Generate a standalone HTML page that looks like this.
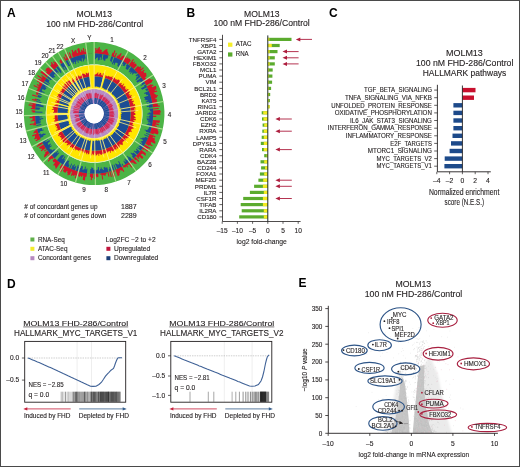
<!DOCTYPE html>
<html><head><meta charset="utf-8"><title>MOLM13 FHD-286 figure</title>
<style>html,body{margin:0;padding:0;background:#fff;}body{width:520px;height:467px;overflow:hidden;font-family:"Liberation Sans",sans-serif;}svg{display:block;will-change:transform;}text{stroke:#231f20;stroke-width:0.12px;}text.b{stroke:none;}</style>
</head><body>
<svg width="520" height="467" viewBox="0 0 520 467" font-family='&quot;Liberation Sans&quot;, sans-serif' fill="#231f20"><g transform="translate(94.15 113.6) scale(0.9825 1)">
<path d="M0 -71.5L2.5 -71.5L5 -71.3L7.5 -71.1L10 -70.8L12.4 -70.4L14.9 -69.9L17.3 -69.4L19.7 -68.7L22.1 -68L24.5 -67.2L26.8 -66.3L29.1 -65.3L31.3 -64.3L33.6 -63.1L35.7 -61.9L37.9 -60.6L40 -59.3L42 -57.8L44 -56.3L46 -54.8L47.8 -53.1L49.7 -51.4L51.4 -49.7L53.1 -47.8L54.8 -46L56.3 -44L57.8 -42L59.3 -40L60.6 -37.9L61.9 -35.8L63.1 -33.6L64.3 -31.3L65.3 -29.1L66.3 -26.8L67.2 -24.5L68 -22.1L68.7 -19.7L69.4 -17.3L69.9 -14.9L70.4 -12.4L70.8 -10L71.1 -7.5L71.3 -5L71.5 -2.5L71.5 0L71.5 2.5L71.3 5L71.1 7.5L70.8 10L70.4 12.4L69.9 14.9L69.4 17.3L68.7 19.7L68 22.1L67.2 24.5L66.3 26.8L65.3 29.1L64.3 31.3L63.1 33.6L61.9 35.7L60.6 37.9L59.3 40L57.8 42L56.3 44L54.8 46L53.1 47.8L51.4 49.7L49.7 51.4L47.8 53.1L46 54.8L44 56.3L42 57.8L40 59.3L37.9 60.6L35.7 61.9L33.6 63.1L31.3 64.3L29.1 65.3L26.8 66.3L24.5 67.2L22.1 68L19.7 68.7L17.3 69.4L14.9 69.9L12.4 70.4L10 70.8L7.5 71.1L5 71.3L2.5 71.5L0 71.5L-2.5 71.5L-5 71.3L-7.5 71.1L-10 70.8L-12.4 70.4L-14.9 69.9L-17.3 69.4L-19.7 68.7L-22.1 68L-24.5 67.2L-26.8 66.3L-29.1 65.3L-31.3 64.3L-33.6 63.1L-35.8 61.9L-37.9 60.6L-40 59.3L-42 57.8L-44 56.3L-46 54.8L-47.8 53.1L-49.7 51.4L-51.4 49.7L-53.1 47.8L-54.8 46L-56.3 44L-57.8 42L-59.3 40L-60.6 37.9L-61.9 35.8L-63.1 33.6L-64.3 31.3L-65.3 29.1L-66.3 26.8L-67.2 24.5L-68 22.1L-68.7 19.7L-69.4 17.3L-69.9 14.9L-70.4 12.4L-70.8 10L-71.1 7.5L-71.3 5L-71.5 2.5L-71.5 0L-71.5 -2.5L-71.3 -5L-71.1 -7.5L-70.8 -10L-70.4 -12.4L-69.9 -14.9L-69.4 -17.3L-68.7 -19.7L-68 -22.1L-67.2 -24.5L-66.3 -26.8L-65.3 -29.1L-64.3 -31.3L-63.1 -33.6L-61.9 -35.8L-60.6 -37.9L-59.3 -40L-57.8 -42L-56.3 -44L-54.8 -46L-53.1 -47.8L-51.4 -49.7L-49.7 -51.4L-47.8 -53.1L-46 -54.8L-44 -56.3L-42 -57.8L-40 -59.3L-37.9 -60.6L-35.8 -61.9L-33.6 -63.1L-31.3 -64.3L-29.1 -65.3L-26.8 -66.3L-24.5 -67.2L-22.1 -68L-19.7 -68.7L-17.3 -69.4L-14.9 -69.9L-12.4 -70.4L-10 -70.8L-7.5 -71.1L-5 -71.3L-2.5 -71.5ZM-1.7 -49.2L-3.4 -49.1L-5.1 -48.9L-6.8 -48.7L-8.5 -48.5L-10.2 -48.1L-11.9 -47.7L-13.6 -47.3L-15.2 -46.8L-16.8 -46.2L-18.4 -45.6L-20 -44.9L-21.6 -44.2L-23.1 -43.4L-24.6 -42.6L-26.1 -41.7L-27.5 -40.8L-28.9 -39.8L-30.3 -38.8L-31.6 -37.7L-32.9 -36.6L-34.2 -35.4L-35.4 -34.2L-36.6 -32.9L-37.7 -31.6L-38.8 -30.3L-39.8 -28.9L-40.8 -27.5L-41.7 -26.1L-42.6 -24.6L-43.4 -23.1L-44.2 -21.6L-44.9 -20L-45.6 -18.4L-46.2 -16.8L-46.8 -15.2L-47.3 -13.6L-47.7 -11.9L-48.1 -10.2L-48.5 -8.5L-48.7 -6.8L-48.9 -5.1L-49.1 -3.4L-49.2 -1.7L-49.2 0L-49.2 1.7L-49.1 3.4L-48.9 5.1L-48.7 6.8L-48.5 8.5L-48.1 10.2L-47.7 11.9L-47.3 13.6L-46.8 15.2L-46.2 16.8L-45.6 18.4L-44.9 20L-44.2 21.6L-43.4 23.1L-42.6 24.6L-41.7 26.1L-40.8 27.5L-39.8 28.9L-38.8 30.3L-37.7 31.6L-36.6 32.9L-35.4 34.2L-34.2 35.4L-32.9 36.6L-31.6 37.7L-30.3 38.8L-28.9 39.8L-27.5 40.8L-26.1 41.7L-24.6 42.6L-23.1 43.4L-21.6 44.2L-20 44.9L-18.4 45.6L-16.8 46.2L-15.2 46.8L-13.6 47.3L-11.9 47.7L-10.2 48.1L-8.5 48.5L-6.8 48.7L-5.1 48.9L-3.4 49.1L-1.7 49.2L0 49.2L1.7 49.2L3.4 49.1L5.1 48.9L6.8 48.7L8.5 48.5L10.2 48.1L11.9 47.7L13.6 47.3L15.2 46.8L16.8 46.2L18.4 45.6L20 44.9L21.6 44.2L23.1 43.4L24.6 42.6L26.1 41.7L27.5 40.8L28.9 39.8L30.3 38.8L31.6 37.7L32.9 36.6L34.2 35.4L35.4 34.2L36.6 32.9L37.7 31.6L38.8 30.3L39.8 28.9L40.8 27.5L41.7 26.1L42.6 24.6L43.4 23.1L44.2 21.6L44.9 20L45.6 18.4L46.2 16.8L46.8 15.2L47.3 13.6L47.7 11.9L48.1 10.2L48.5 8.5L48.7 6.8L48.9 5.1L49.1 3.4L49.2 1.7L49.2 0L49.2 -1.7L49.1 -3.4L48.9 -5.1L48.7 -6.8L48.5 -8.5L48.1 -10.2L47.7 -11.9L47.3 -13.6L46.8 -15.2L46.2 -16.8L45.6 -18.4L44.9 -20L44.2 -21.6L43.4 -23.1L42.6 -24.6L41.7 -26.1L40.8 -27.5L39.8 -28.9L38.8 -30.3L37.7 -31.6L36.6 -32.9L35.4 -34.2L34.2 -35.4L32.9 -36.6L31.6 -37.7L30.3 -38.8L28.9 -39.8L27.5 -40.8L26.1 -41.7L24.6 -42.6L23.1 -43.4L21.6 -44.2L20 -44.9L18.4 -45.6L16.8 -46.2L15.2 -46.8L13.6 -47.3L11.9 -47.7L10.2 -48.1L8.5 -48.5L6.8 -48.7L5.1 -48.9L3.4 -49.1L1.7 -49.2L0 -49.2Z" fill="#4cb446" fill-rule="evenodd"/>
<path d="M0 -61.9L1.1 -61.9L1.1 -65.7L2.3 -65.7L2.2 -63.8L3.3 -63.8L3.4 -65.3L4.6 -65.3L4.7 -66.6L5.8 -66.6L5.6 -64.2L6.7 -64.1L6.7 -63.9L7.8 -63.7L7.5 -61.4L8.6 -61.3L8.8 -62.3L9.8 -62.2L10 -63.4L11.1 -63.2L11.3 -64.2L12.4 -64L12.6 -64.7L13.7 -64.4L13.2 -62.2L14.3 -61.9L13.9 -60.2L15 -60L14.5 -58.2L15.5 -58L15.5 -58L16.5 -57.7L16.5 -57.7L17.5 -57.4L18.7 -61.1L19.8 -60.8L20.6 -63.3L21.7 -62.9L20.1 -58.3L21.1 -57.9L22.1 -60.8L23.2 -60.5L21.5 -56L22.5 -55.6L23.5 -58.2L24.5 -57.7L25.2 -59.3L26.2 -58.9L27 -60.7L28.1 -60.2L26.3 -56.4L27.3 -55.9L28.2 -57.8L29.2 -57.3L29.8 -58.4L30.8 -57.9L30.6 -57.5L31.6 -57L31.9 -57.5L32.9 -56.9L32.1 -55.7L33.1 -55.1L33.9 -56.4L34.9 -55.8L34.5 -55.3L35.5 -54.7L35.8 -55.2L36.8 -54.5L36.4 -54L37.4 -53.4L34.4 -49.1L35.3 -48.5L39.6 -54.5L40.5 -53.8L39 -51.8L39.9 -51.1L40.8 -52.2L41.7 -51.5L40.7 -50.3L41.6 -49.5L42.2 -50.3L43.1 -49.5L42.7 -49.1L43.6 -48.4L40.1 -44.6L40.9 -43.9L44.5 -47.7L45.3 -46.9L45.6 -47.2L46.4 -46.4L47.4 -47.4L48.3 -46.6L47.1 -45.4L47.8 -44.6L49.8 -46.4L50.6 -45.6L47.7 -42.9L48.4 -42.1L50.7 -44.1L51.5 -43.2L50.1 -42.1L50.9 -41.2L50.9 -41.2L51.6 -40.3L52.5 -41L53.2 -40.1L52.7 -39.7L53.4 -38.8L52.9 -38.5L53.6 -37.5L51.7 -36.2L52.4 -35.3L52.8 -35.6L53.4 -34.7L56.4 -36.6L57 -35.6L56.2 -35.1L56.8 -34.1L57.6 -34.6L58.2 -33.6L59.4 -34.3L60 -33.3L58.7 -32.5L59.2 -31.5L53 -28.2L53.5 -27.2L58 -29.5L58.5 -28.5L59.9 -29.2L60.4 -28.2L58.6 -27.3L59.1 -26.3L62.7 -27.9L63.2 -26.8L63.1 -26.8L63.5 -25.7L63.1 -25.5L63.5 -24.4L61.6 -23.6L62 -22.6L63.9 -23.2L64.3 -22.1L60.6 -20.9L61 -19.8L61.9 -20.1L62.2 -19L63 -19.3L63.4 -18.2L64.8 -18.6L65.1 -17.5L63.8 -17.1L64.1 -16L62.2 -15.5L62.5 -14.4L63.6 -14.7L63.8 -13.6L63.7 -13.5L63.9 -12.4L63.8 -12.4L64 -11.3L63 -11.1L63.2 -10L64.5 -10.2L64.7 -9.1L64.9 -9.1L65 -8L66.8 -8.2L66.9 -7L59.7 -6.3L59.8 -5.2L65.7 -5.7L65.7 -4.6L59.9 -4.2L59.9 -3.1L67.2 -3.5L67.3 -2.3L67.9 -2.4L67.9 -1.2L66.7 -1.2L66.7 0L67.4 0L67.4 1.2L60 1L60 2.1L63.2 2.2L63.2 3.3L59.9 3.1L59.9 4.2L59.9 4.2L59.8 5.2L59.8 5.2L59.7 6.3L67 7L66.9 8.2L66.5 8.2L66.3 9.3L63.2 8.9L63.1 10L65.8 10.4L65.6 11.6L62.5 11L62.3 12.1L63.8 12.4L63.6 13.5L66 14L65.8 15.2L64.5 14.9L64.2 16L65.1 16.2L64.8 17.4L65.5 17.6L65.2 18.7L65.7 18.8L65.3 20L65 19.9L64.7 21L60.7 19.7L60.4 20.8L56.7 19.5L56.4 20.5L62.4 22.7L62 23.8L59.9 23L59.5 24L61.9 25L61.5 26.1L61.8 26.2L61.3 27.3L62.4 27.8L62 28.9L62.5 29.2L62 30.2L58 28.3L57.5 29.3L58 29.6L57.5 30.6L59.5 31.7L59 32.7L56.5 31.3L55.9 32.3L52 30L51.4 30.9L57.4 34.5L56.8 35.5L54.9 34.3L54.3 35.3L57.1 37.1L56.5 38.1L55.1 37.1L54.4 38.1L50.7 35.5L50.1 36.4L48.5 35.3L47.9 36.1L52.8 39.8L52.1 40.7L52.9 41.3L52.1 42.2L49.2 39.8L48.5 40.7L48 40.3L47.3 41.1L50.2 43.7L49.4 44.5L49.6 44.6L48.8 45.5L46 42.9L45.2 43.6L46.2 44.6L45.4 45.4L42.4 42.4L41.7 43.2L46.1 47.7L45.3 48.5L42.7 45.8L41.9 46.6L40.1 44.6L39.4 45.3L43.4 49.9L42.5 50.7L41.6 49.6L40.8 50.3L39.4 48.7L38.6 49.4L38.1 48.8L37.3 49.5L38.1 50.5L37.2 51.2L38.9 53.5L37.9 54.1L35.5 50.7L34.6 51.3L34.5 51.2L33.6 51.8L34.7 53.4L33.7 54L32.9 52.6L32 53.2L32.2 53.6L31.3 54.1L30.9 53.5L30 54.1L29.1 52.5L28.2 53L30.7 57.8L29.7 58.4L29.1 57L28.1 57.5L27.4 56.1L26.4 56.6L26.8 57.6L25.8 58L26.4 59.3L25.4 59.8L26.1 61.5L25 62L25.1 62.2L24.1 62.7L21.5 56L20.5 56.4L21.1 58L20.1 58.4L21.6 62.6L20.5 63L20.5 63.2L19.4 63.6L17.5 57.4L16.5 57.7L18.1 63.1L17 63.4L15.5 58L14.5 58.2L15.7 62.8L14.6 63.1L13.5 58.5L12.5 58.7L12.8 60.2L11.7 60.4L12 61.8L10.9 62L10.9 62L9.8 62.2L9.7 61.3L8.6 61.5L9.2 65.8L8.1 65.9L7.5 61.1L6.4 61.3L6.3 59.7L5.2 59.8L5.2 59.8L4.2 59.9L4.4 63.2L3.3 63.3L3.3 63.6L2.2 63.7L2.2 62.4L1.1 62.4L1.1 65.4L0 65.4L0 60L-1 60L-1.1 64.3L-2.2 64.3L-2.3 66.6L-3.5 66.5L-3.3 63.4L-4.4 63.3L-4.2 59.9L-5.2 59.8L-5.2 59.8L-6.3 59.7L-6.3 59.7L-7.3 59.6L-7.8 63.2L-8.9 63.1L-9.4 66.9L-10.6 66.8L-10.5 66.3L-11.7 66.1L-11 62.2L-12.1 62L-12.3 63.4L-13.4 63.2L-13.3 62.5L-14.4 62.2L-14.6 63.4L-15.7 63.1L-15.5 62.2L-16.6 61.9L-16.8 62.7L-17.9 62.4L-18.5 64.6L-19.7 64.3L-18.8 61.5L-19.9 61.1L-20.3 62.5L-21.4 62.1L-21.3 61.9L-22.4 61.5L-22.7 62.3L-23.8 61.9L-22.4 58.4L-23.4 58L-24.8 61.4L-25.9 61L-26.3 62L-27.4 61.5L-26.6 59.8L-27.7 59.3L-26.9 57.8L-27.9 57.3L-28.9 59.2L-29.9 58.7L-30 58.9L-31 58.3L-30.9 58.1L-31.9 57.5L-30.5 55.1L-31.5 54.5L-33.7 58.4L-34.8 57.8L-34.6 57.7L-35.6 57L-34.1 54.6L-35.1 54L-32.7 50.3L-33.6 49.7L-33.6 49.7L-34.4 49.1L-38.7 55.2L-39.6 54.6L-39.1 53.8L-40 53.1L-39.4 52.3L-40.3 51.6L-40.8 52.2L-41.7 51.5L-39.7 49L-40.5 48.3L-41 48.8L-41.8 48.1L-41.6 47.8L-42.4 47.1L-40.1 44.6L-40.9 43.9L-42.7 45.7L-43.5 45L-46.5 48.2L-47.3 47.3L-45.7 45.7L-46.4 44.9L-46.4 44.8L-47.2 44L-46 42.9L-46.8 42.1L-44.6 40.1L-45.3 39.4L-50.4 43.8L-51.2 42.9L-50.4 42.3L-51.1 41.4L-49.5 40.1L-50.2 39.2L-47.3 36.9L-47.9 36.1L-50.4 38L-51.1 37.1L-48.5 35.3L-49.1 34.4L-53.7 37.6L-54.3 36.6L-53 35.8L-53.6 34.8L-54.6 35.5L-55.3 34.5L-55.8 34.9L-56.4 33.9L-51.4 30.9L-52 30L-58 33.5L-58.6 32.5L-56.5 31.3L-57.1 30.4L-53 28.2L-53.5 27.2L-53.5 27.2L-53.9 26.3L-53.9 26.3L-54.4 25.4L-59.2 27.6L-59.7 26.6L-58 25.8L-58.5 24.8L-60.7 25.8L-61.1 24.7L-60.1 24.3L-60.5 23.2L-60 23L-60.4 22L-62.7 22.8L-63.1 21.7L-58.7 20.2L-59.1 19.2L-61.7 20L-62 19L-60.8 18.6L-61.1 17.5L-59.6 17.1L-59.9 16L-58 15.5L-58.2 14.5L-58.2 14.5L-58.5 13.5L-58.5 13.5L-58.7 12.5L-58.7 12.5L-58.9 11.4L-61.7 12L-61.9 10.9L-65.4 11.5L-65.6 10.4L-60.9 9.6L-61 8.6L-60.7 8.5L-60.8 7.5L-64.5 7.9L-64.7 6.8L-62.7 6.6L-62.8 5.5L-62.7 5.5L-62.8 4.4L-65.6 4.6L-65.7 3.4L-62.7 3.3L-62.8 2.2L-60 2.1L-60 1L-60 1L-60 0L-60 0L-60 -1L-62.7 -1.1L-62.7 -2.2L-63.7 -2.2L-63.6 -3.3L-59.9 -3.1L-59.9 -4.2L-64.4 -4.5L-64.4 -5.6L-63 -5.5L-62.9 -6.6L-63.7 -6.7L-63.5 -7.8L-66.8 -8.2L-66.6 -9.4L-62.7 -8.8L-62.5 -9.9L-65.8 -10.4L-65.6 -11.6L-61.6 -10.9L-61.4 -11.9L-58.9 -11.4L-58.7 -12.5L-63.3 -13.5L-63 -14.6L-60.5 -14L-60.2 -15L-58.2 -14.5L-58 -15.5L-58 -15.5L-57.7 -16.5L-63.3 -18.1L-62.9 -19.2L-57.4 -17.5L-57.1 -18.5L-59.3 -19.3L-58.9 -20.3L-59 -20.3L-58.6 -21.3L-58.8 -21.4L-58.5 -22.4L-59 -22.6L-58.6 -23.7L-58.1 -23.5L-57.6 -24.5L-57.6 -24.5L-57.2 -25.5L-61.7 -27.5L-61.2 -28.5L-56.9 -26.5L-56.5 -27.5L-58.5 -28.5L-58 -29.6L-56.1 -28.6L-55.6 -29.6L-56.1 -29.8L-55.5 -30.8L-58.2 -32.2L-57.6 -33.2L-59.6 -34.4L-59 -35.5L-56.8 -34.1L-56.2 -35.1L-54.1 -33.8L-53.5 -34.7L-58 -37.7L-57.4 -38.7L-53.1 -35.8L-52.4 -36.7L-53.9 -37.8L-53.3 -38.7L-48.5 -35.3L-47.9 -36.1L-54.8 -41.3L-54.1 -42.2L-53.8 -42L-53 -42.9L-50.4 -40.8L-49.7 -41.7L-48.8 -40.9L-48.1 -41.8L-49.9 -43.4L-49.1 -44.2L-49.2 -44.3L-48.5 -45.2L-48.5 -45.2L-47.7 -46L-47.1 -45.5L-46.3 -46.3L-43.9 -43.9L-43.1 -44.6L-41.7 -43.2L-40.9 -43.9L-44.7 -47.9L-43.8 -48.7L-43.9 -48.8L-43.1 -49.5L-44.2 -50.9L-43.3 -51.6L-41.2 -49.2L-40.4 -49.9L-41.9 -51.7L-40.9 -52.4L-40 -51.2L-39.1 -51.8L-36.1 -47.9L-35.3 -48.5L-35.3 -48.5L-34.4 -49.1L-34.4 -49.1L-33.6 -49.7L-35.5 -52.6L-34.6 -53.2L-34.9 -53.7L-33.9 -54.3L-31.8 -50.9L-30.9 -51.4L-30.9 -51.4L-30 -52L-30 -52L-29.1 -52.5L-31.4 -56.6L-30.4 -57.1L-29.1 -54.8L-28.2 -55.3L-30 -58.9L-29 -59.5L-27.2 -55.8L-26.2 -56.3L-28.3 -60.6L-27.2 -61.1L-25.4 -57L-24.4 -57.5L-25.8 -60.8L-24.7 -61.3L-22.5 -55.6L-21.5 -56L-23 -60L-22 -60.4L-23.1 -63.5L-22 -63.9L-21.2 -61.5L-20.1 -61.9L-20.4 -62.7L-19.3 -63.1L-19.4 -63.5L-18.3 -63.9L-17.4 -60.5L-16.3 -60.8L-17.3 -64.7L-16.2 -65L-16.3 -65.4L-15.2 -65.6L-14.2 -61.6L-13.1 -61.9L-13.6 -63.9L-12.5 -64.2L-12.2 -62.8L-11.1 -63L-11.5 -65.4L-10.4 -65.6L-9.8 -61.8L-8.7 -61.9L-9.1 -64.5L-7.9 -64.7L-7.3 -59.6L-6.3 -59.7L-6.3 -59.7L-5.2 -59.8L-5.2 -59.8L-4.2 -59.9L-4.2 -59.9L-3.1 -59.9L-3.1 -59.9L-2.1 -60L-2.1 -60L-1 -60L-1 -60L0 -60ZM-2.1 -60L-4.2 -59.9L-6.3 -59.7L-8.4 -59.4L-10.4 -59.1L-12.5 -58.7L-14.5 -58.2L-16.5 -57.7L-18.5 -57.1L-20.5 -56.4L-22.5 -55.6L-24.4 -54.8L-26.3 -53.9L-28.2 -53L-30 -52L-31.8 -50.9L-33.6 -49.7L-35.3 -48.5L-36.9 -47.3L-38.6 -46L-40.1 -44.6L-41.7 -43.2L-43.2 -41.7L-44.6 -40.1L-46 -38.6L-47.3 -36.9L-48.5 -35.3L-49.7 -33.6L-50.9 -31.8L-52 -30L-53 -28.2L-53.9 -26.3L-54.8 -24.4L-55.6 -22.5L-56.4 -20.5L-57.1 -18.5L-57.7 -16.5L-58.2 -14.5L-58.7 -12.5L-59.1 -10.4L-59.4 -8.4L-59.7 -6.3L-59.9 -4.2L-60 -2.1L-60 0L-60 2.1L-59.9 4.2L-59.7 6.3L-59.4 8.4L-59.1 10.4L-58.7 12.5L-58.2 14.5L-57.7 16.5L-57.1 18.5L-56.4 20.5L-55.6 22.5L-54.8 24.4L-53.9 26.3L-53 28.2L-52 30L-50.9 31.8L-49.7 33.6L-48.5 35.3L-47.3 36.9L-46 38.6L-44.6 40.1L-43.2 41.7L-41.7 43.2L-40.1 44.6L-38.6 46L-36.9 47.3L-35.3 48.5L-33.6 49.7L-31.8 50.9L-30 52L-28.2 53L-26.3 53.9L-24.4 54.8L-22.5 55.6L-20.5 56.4L-18.5 57.1L-16.5 57.7L-14.5 58.2L-12.5 58.7L-10.4 59.1L-8.4 59.4L-6.3 59.7L-4.2 59.9L-2.1 60L0 60L2.1 60L4.2 59.9L6.3 59.7L8.4 59.4L10.4 59.1L12.5 58.7L14.5 58.2L16.5 57.7L18.5 57.1L20.5 56.4L22.5 55.6L24.4 54.8L26.3 53.9L28.2 53L30 52L31.8 50.9L33.6 49.7L35.3 48.5L36.9 47.3L38.6 46L40.1 44.6L41.7 43.2L43.2 41.7L44.6 40.1L46 38.6L47.3 36.9L48.5 35.3L49.7 33.6L50.9 31.8L52 30L53 28.2L53.9 26.3L54.8 24.4L55.6 22.5L56.4 20.5L57.1 18.5L57.7 16.5L58.2 14.5L58.7 12.5L59.1 10.4L59.4 8.4L59.7 6.3L59.9 4.2L60 2.1L60 0L60 -2.1L59.9 -4.2L59.7 -6.3L59.4 -8.4L59.1 -10.4L58.7 -12.5L58.2 -14.5L57.7 -16.5L57.1 -18.5L56.4 -20.5L55.6 -22.5L54.8 -24.4L53.9 -26.3L53 -28.2L52 -30L50.9 -31.8L49.7 -33.6L48.5 -35.3L47.3 -36.9L46 -38.6L44.6 -40.1L43.2 -41.7L41.7 -43.2L40.1 -44.6L38.6 -46L36.9 -47.3L35.3 -48.5L33.6 -49.7L31.8 -50.9L30 -52L28.2 -53L26.3 -53.9L24.4 -54.8L22.5 -55.6L20.5 -56.4L18.5 -57.1L16.5 -57.7L14.5 -58.2L12.5 -58.7L10.4 -59.1L8.4 -59.4L6.3 -59.7L4.2 -59.9L2.1 -60L0 -60Z" fill="#d3152b" fill-rule="evenodd"/>
<path d="M0 -60L1 -60L0.9 -54.4L1.9 -54.4L1.9 -55.7L2.9 -55.6L2.9 -56L3.9 -56L3.7 -53.1L4.6 -53L4.7 -53.7L5.6 -53.6L5.9 -56.3L6.9 -56.2L6.6 -53.7L7.5 -53.6L8.4 -59.4L9.4 -59.3L8.6 -54.4L9.6 -54.2L9.4 -53.4L10.3 -53.2L10.3 -52.8L11.2 -52.6L11.7 -55L12.6 -54.7L12.8 -55.3L13.7 -55.1L14.5 -58.2L15.5 -58L15.5 -58L16.5 -57.7L16.5 -57.7L17.5 -57.4L16.1 -52.8L17.1 -52.5L16.7 -51.5L17.6 -51.2L19.5 -56.7L20.5 -56.4L18 -49.5L18.9 -49.2L19.6 -50.9L20.4 -50.6L19.7 -48.9L20.6 -48.5L21.7 -51L22.5 -50.6L22.7 -51.1L23.6 -50.7L23.5 -50.3L24.3 -49.9L23.4 -48L24.2 -47.6L23.9 -46.9L24.7 -46.5L25.7 -48.3L26.5 -47.8L26.7 -48.2L27.5 -47.7L28.9 -50.1L29.8 -49.5L28.8 -48L29.7 -47.5L29.9 -47.8L30.7 -47.3L32.7 -50.3L33.6 -49.7L32.2 -47.7L33 -47.2L31.8 -45.4L32.6 -44.9L32.4 -44.7L33.2 -44.1L33.3 -44.2L34.1 -43.6L36.9 -47.3L37.8 -46.6L35.4 -43.7L36.2 -43.1L34.9 -41.6L35.6 -41L36.5 -42L37.3 -41.4L36.3 -40.3L37 -39.6L38.5 -41.3L39.2 -40.6L38.3 -39.6L38.9 -38.9L40.7 -40.7L41.4 -40L41.8 -40.3L42.5 -39.6L43.9 -40.9L44.6 -40.1L42.1 -37.9L42.8 -37.2L44 -38.2L44.6 -37.4L42.5 -35.7L43.1 -34.9L41.9 -33.9L42.5 -33.2L47.3 -36.9L47.9 -36.1L42.9 -32.3L43.4 -31.5L43.6 -31.7L44.2 -30.9L46.1 -32.3L46.6 -31.5L47.5 -32.1L48.1 -31.2L48.4 -31.4L48.9 -30.6L48.1 -30L48.6 -29.2L47.1 -28.3L47.6 -27.5L52 -30L52.5 -29.1L50.7 -28.1L51.2 -27.2L47.7 -25.4L48.1 -24.5L48.4 -24.6L48.8 -23.8L53.9 -26.3L54.4 -25.4L52 -24.3L52.4 -23.3L52.8 -23.5L53.2 -22.6L55.2 -23.4L55.6 -22.5L50.9 -20.6L51.2 -19.7L52.5 -20.1L52.8 -19.2L52.9 -19.3L53.3 -18.3L54.7 -18.8L55 -17.9L50.6 -16.4L50.8 -15.5L51.6 -15.8L51.8 -14.9L51.2 -14.7L51.4 -13.8L52.2 -14L52.4 -13.1L54.1 -13.5L54.3 -12.5L52.5 -12.1L52.7 -11.2L55.8 -11.9L56 -10.9L53.7 -10.4L53.9 -9.5L56.2 -9.9L56.4 -8.9L55.7 -8.8L55.8 -7.8L53.5 -7.5L53.6 -6.6L55.8 -6.8L55.9 -5.9L59.7 -6.3L59.8 -5.2L55.1 -4.8L55.2 -3.9L56.7 -4L56.8 -3L56.9 -3L57 -2L58.2 -2L58.2 -1L55.5 -1L55.5 0L54.2 0L54.2 0.9L57.2 1L57.1 2L55.9 2L55.9 2.9L53.4 2.8L53.3 3.7L56.2 3.9L56.1 4.9L53.5 4.7L53.4 5.6L53.9 5.7L53.8 6.6L55.4 6.8L55.3 7.8L54.6 7.7L54.5 8.6L57.2 9.1L57.1 10.1L54.9 9.7L54.7 10.6L53.6 10.4L53.4 11.3L55.9 11.9L55.7 12.9L56.1 13L55.9 13.9L56 14L55.7 14.9L55.1 14.8L54.9 15.7L54.5 15.6L54.2 16.6L51.6 15.8L51.3 16.7L52.9 17.2L52.6 18.1L56.7 19.5L56.4 20.5L52.9 19.3L52.6 20.2L56 21.5L55.6 22.5L51.1 20.7L50.8 21.5L55.2 23.4L54.8 24.4L52 23.2L51.6 24.1L50.5 23.6L50.1 24.4L49.2 24L48.7 24.8L47.4 24.1L46.9 25L49.9 26.5L49.4 27.4L48.9 27.1L48.4 28L47.7 27.5L47.2 28.4L49 29.4L48.5 30.3L46.5 29.1L46 29.9L44.5 28.9L44 29.7L47 31.7L46.4 32.5L45.6 31.9L45 32.7L46.5 33.8L45.9 34.6L44.3 33.4L43.7 34.2L47.3 36.9L46.6 37.8L43 34.8L42.4 35.6L43.6 36.6L43 37.4L42.6 37.1L42 37.8L40.8 36.8L40.2 37.5L43.9 40.9L43.2 41.7L40.1 38.8L39.5 39.5L39.3 39.3L38.6 40L37.6 38.9L36.9 39.5L39.2 42.1L38.5 42.7L40.1 44.6L39.4 45.3L39.4 45.3L38.6 46L36.3 43.2L35.5 43.8L34.1 42.1L33.4 42.7L35 44.7L34.2 45.3L34.6 45.9L33.8 46.5L33.5 46L32.6 46.6L31.5 45L30.7 45.5L32.3 47.8L31.4 48.4L30.5 46.9L29.7 47.5L31.8 50.9L30.9 51.4L30.9 51.4L30 52L28.7 49.8L27.9 50.3L29.1 52.5L28.2 53L25.2 47.4L24.4 47.8L25.7 50.4L24.8 50.9L24.7 50.7L23.9 51.2L23.4 50.1L22.5 50.5L22.2 49.9L21.3 50.2L23.4 55.2L22.5 55.6L20.6 50.9L19.7 51.2L21.5 56L20.5 56.4L18.6 51L17.7 51.4L18.2 53L17.3 53.3L18.5 57.1L17.5 57.4L16.2 53.1L15.3 53.3L15.8 55L14.8 55.3L15.5 58L14.5 58.2L13.4 53.6L12.4 53.9L12.5 54L11.5 54.3L11.3 53.1L10.4 53.3L10.4 53.7L9.5 53.8L9.9 56.3L8.9 56.4L8.8 55.5L7.8 55.7L7.6 53.8L6.6 54L6.8 55.5L5.8 55.6L6 56.8L5 56.8L4.7 53.4L3.7 53.5L3.9 55.8L2.9 55.9L3 56.6L2 56.6L1.9 55.6L1 55.7L1 56L0 56.1L0 56.2L-1 56.2L-0.9 54.3L-1.9 54.3L-1.9 53.6L-2.8 53.6L-2.9 55.5L-3.9 55.4L-4.2 59.9L-5.2 59.8L-5.2 59.8L-6.3 59.7L-6.3 59.7L-7.3 59.6L-6.8 55L-7.7 54.9L-7.8 55.8L-8.8 55.7L-8.4 53.1L-9.3 53L-9.8 55.7L-10.8 55.5L-10.9 56.3L-11.9 56.1L-11.3 52.9L-12.2 52.7L-12.1 52.5L-13 52.3L-13.6 54.7L-14.6 54.4L-14.8 55.4L-15.8 55.1L-15.3 53.2L-16.2 52.9L-15.7 51.3L-16.6 51.1L-18.5 57.1L-19.5 56.7L-18.1 52.5L-19 52.2L-19.5 53.4L-20.4 53.1L-19.5 50.9L-20.4 50.6L-20.9 51.8L-21.8 51.4L-23.4 55.2L-24.4 54.8L-22.4 50.2L-23.2 49.8L-25.4 54.4L-26.3 53.9L-25.1 51.4L-26 50.9L-25.5 50L-26.4 49.6L-25.1 47.2L-25.9 46.8L-26.3 47.5L-27.1 47L-27.8 48.2L-28.7 47.7L-27.4 45.6L-28.2 45.2L-29.6 47.3L-30.4 46.8L-29.7 45.7L-30.5 45.1L-29.1 43.2L-29.9 42.7L-31.9 45.5L-32.7 44.9L-30.4 41.8L-31.1 41.3L-31.5 41.8L-32.2 41.2L-32.7 41.9L-33.4 41.3L-37.8 46.6L-38.6 46L-38.6 46L-39.4 45.3L-39.4 45.3L-40.1 44.6L-35.4 39.3L-36 38.7L-37.1 39.8L-37.8 39.1L-36.5 37.8L-37.2 37.2L-39.2 39.2L-39.9 38.5L-43.2 41.7L-43.9 40.9L-38.9 36.3L-39.6 35.6L-40.1 36.1L-40.7 35.4L-42.6 37L-43.2 36.3L-43.2 36.2L-43.8 35.5L-44.4 36L-45 35.2L-45.1 35.2L-45.7 34.4L-43 32.4L-43.6 31.6L-44.5 32.4L-45.1 31.6L-44 30.8L-44.5 30L-46.5 31.4L-47 30.5L-46.8 30.4L-47.3 29.5L-45 28.1L-45.5 27.3L-45.1 27.1L-45.5 26.3L-49.3 28.5L-49.8 27.6L-46.9 26L-47.4 25.2L-53 28.2L-53.5 27.2L-53.5 27.2L-53.9 26.3L-53.9 26.3L-54.4 25.4L-54.4 25.4L-54.8 24.4L-51.6 23L-52 22.1L-49.2 20.9L-49.6 20L-50.6 20.4L-50.9 19.6L-54.1 20.8L-54.4 19.8L-56.4 20.5L-56.7 19.5L-55 18.9L-55.3 18L-51.2 16.6L-51.5 15.8L-52.9 16.2L-53.1 15.2L-53 15.2L-53.2 14.3L-56.1 15L-56.4 14.1L-58.2 14.5L-58.5 13.5L-58.5 13.5L-58.7 12.5L-53.7 11.4L-53.9 10.5L-58.9 11.4L-59.1 10.4L-54.6 9.6L-54.7 8.7L-54.2 8.6L-54.3 7.6L-55.7 7.8L-55.8 6.8L-53.9 6.6L-54 5.7L-51.8 5.4L-51.9 4.5L-55.3 4.8L-55.4 3.9L-52.8 3.7L-52.9 2.8L-55.9 2.9L-56 2L-60 2.1L-60 1L-60 1L-60 0L-60 0L-60 -1L-52.6 -0.9L-52.6 -1.8L-60 -2.1L-59.9 -3.1L-59.9 -3.1L-59.9 -4.2L-55.7 -3.9L-55.6 -4.9L-55 -4.8L-54.9 -5.8L-59.7 -6.3L-59.6 -7.3L-51.4 -6.3L-51.3 -7.2L-51.7 -7.3L-51.6 -8.2L-54.2 -8.6L-54 -9.5L-59.1 -10.4L-58.9 -11.4L-53.6 -10.4L-53.5 -11.4L-58.7 -12.5L-58.5 -13.5L-54.9 -12.7L-54.7 -13.6L-58.2 -14.5L-58 -15.5L-58 -15.5L-57.7 -16.5L-54.6 -15.7L-54.4 -16.6L-53.6 -16.4L-53.3 -17.3L-57.1 -18.5L-56.7 -19.5L-53.7 -18.5L-53.4 -19.4L-53.5 -19.5L-53.1 -20.4L-53.8 -20.7L-53.4 -21.6L-50.7 -20.5L-50.4 -21.4L-53.3 -22.6L-52.9 -23.5L-53 -23.6L-52.6 -24.5L-50.2 -23.4L-49.8 -24.3L-49.2 -24L-48.8 -24.9L-48.8 -24.9L-48.4 -25.7L-49.8 -26.5L-49.3 -27.3L-47.2 -26.2L-46.8 -27L-48.5 -28L-48.1 -28.9L-46.8 -28.1L-46.3 -29L-50.9 -31.8L-50.3 -32.7L-45.4 -29.5L-44.9 -30.3L-46.3 -31.2L-45.8 -32L-45.9 -32.2L-45.4 -33L-48.5 -35.3L-47.9 -36.1L-44.2 -33.3L-43.6 -34.1L-42.8 -33.5L-42.2 -34.2L-40.5 -32.8L-39.9 -33.5L-42.2 -35.4L-41.5 -36.1L-41.3 -35.9L-40.7 -36.6L-40 -36L-39.3 -36.7L-41.1 -38.3L-40.4 -39L-40.6 -39.2L-39.9 -39.9L-37.8 -37.8L-37.1 -38.4L-37.8 -39.1L-37.1 -39.8L-38 -40.8L-37.3 -41.5L-36.6 -40.7L-35.9 -41.3L-39.4 -45.3L-38.6 -46L-33.7 -40.2L-33 -40.8L-33.8 -41.7L-33.1 -42.3L-36.9 -47.3L-36.1 -47.9L-36.1 -47.9L-35.3 -48.5L-35.3 -48.5L-34.4 -49.1L-30.4 -43.4L-29.6 -43.9L-31.2 -46.3L-30.4 -46.9L-28.4 -43.7L-27.6 -44.2L-28 -44.8L-27.2 -45.3L-30.9 -51.4L-30 -52L-30 -52L-29.1 -52.5L-26.2 -47.4L-25.4 -47.8L-25.2 -47.4L-24.4 -47.9L-27.2 -53.5L-26.3 -53.9L-23.5 -48.1L-22.6 -48.5L-25.4 -54.4L-24.4 -54.8L-22.6 -50.8L-21.7 -51.1L-21.1 -49.6L-20.2 -50L-20.8 -51.4L-19.9 -51.8L-18.9 -49.4L-18.1 -49.7L-18.8 -51.7L-17.9 -52L-18.3 -53L-17.3 -53.3L-16.5 -50.6L-15.6 -50.9L-16.2 -53.1L-15.3 -53.4L-15.1 -52.8L-14.2 -53.1L-14.1 -52.6L-13.2 -52.9L-12.9 -51.8L-12 -52.1L-12.7 -55.1L-11.8 -55.3L-11.1 -52.2L-10.2 -52.4L-10.5 -53.8L-9.5 -54L-9.7 -55L-8.7 -55.1L-9.4 -59.3L-8.4 -59.4L-7.4 -52.3L-6.4 -52.4L-7.3 -59.6L-6.3 -59.7L-6.3 -59.7L-5.2 -59.8L-5.2 -59.8L-4.2 -59.9L-4.2 -59.9L-3.1 -59.9L-3.1 -59.9L-2.1 -60L-2.1 -60L-1 -60L-1 -60L0 -60ZM-2.1 -60L-4.2 -59.9L-6.3 -59.7L-8.4 -59.4L-10.4 -59.1L-12.5 -58.7L-14.5 -58.2L-16.5 -57.7L-18.5 -57.1L-20.5 -56.4L-22.5 -55.6L-24.4 -54.8L-26.3 -53.9L-28.2 -53L-30 -52L-31.8 -50.9L-33.6 -49.7L-35.3 -48.5L-36.9 -47.3L-38.6 -46L-40.1 -44.6L-41.7 -43.2L-43.2 -41.7L-44.6 -40.1L-46 -38.6L-47.3 -36.9L-48.5 -35.3L-49.7 -33.6L-50.9 -31.8L-52 -30L-53 -28.2L-53.9 -26.3L-54.8 -24.4L-55.6 -22.5L-56.4 -20.5L-57.1 -18.5L-57.7 -16.5L-58.2 -14.5L-58.7 -12.5L-59.1 -10.4L-59.4 -8.4L-59.7 -6.3L-59.9 -4.2L-60 -2.1L-60 0L-60 2.1L-59.9 4.2L-59.7 6.3L-59.4 8.4L-59.1 10.4L-58.7 12.5L-58.2 14.5L-57.7 16.5L-57.1 18.5L-56.4 20.5L-55.6 22.5L-54.8 24.4L-53.9 26.3L-53 28.2L-52 30L-50.9 31.8L-49.7 33.6L-48.5 35.3L-47.3 36.9L-46 38.6L-44.6 40.1L-43.2 41.7L-41.7 43.2L-40.1 44.6L-38.6 46L-36.9 47.3L-35.3 48.5L-33.6 49.7L-31.8 50.9L-30 52L-28.2 53L-26.3 53.9L-24.4 54.8L-22.5 55.6L-20.5 56.4L-18.5 57.1L-16.5 57.7L-14.5 58.2L-12.5 58.7L-10.4 59.1L-8.4 59.4L-6.3 59.7L-4.2 59.9L-2.1 60L0 60L2.1 60L4.2 59.9L6.3 59.7L8.4 59.4L10.4 59.1L12.5 58.7L14.5 58.2L16.5 57.7L18.5 57.1L20.5 56.4L22.5 55.6L24.4 54.8L26.3 53.9L28.2 53L30 52L31.8 50.9L33.6 49.7L35.3 48.5L36.9 47.3L38.6 46L40.1 44.6L41.7 43.2L43.2 41.7L44.6 40.1L46 38.6L47.3 36.9L48.5 35.3L49.7 33.6L50.9 31.8L52 30L53 28.2L53.9 26.3L54.8 24.4L55.6 22.5L56.4 20.5L57.1 18.5L57.7 16.5L58.2 14.5L58.7 12.5L59.1 10.4L59.4 8.4L59.7 6.3L59.9 4.2L60 2.1L60 0L60 -2.1L59.9 -4.2L59.7 -6.3L59.4 -8.4L59.1 -10.4L58.7 -12.5L58.2 -14.5L57.7 -16.5L57.1 -18.5L56.4 -20.5L55.6 -22.5L54.8 -24.4L53.9 -26.3L53 -28.2L52 -30L50.9 -31.8L49.7 -33.6L48.5 -35.3L47.3 -36.9L46 -38.6L44.6 -40.1L43.2 -41.7L41.7 -43.2L40.1 -44.6L38.6 -46L36.9 -47.3L35.3 -48.5L33.6 -49.7L31.8 -50.9L30 -52L28.2 -53L26.3 -53.9L24.4 -54.8L22.5 -55.6L20.5 -56.4L18.5 -57.1L16.5 -57.7L14.5 -58.2L12.5 -58.7L10.4 -59.1L8.4 -59.4L6.3 -59.7L4.2 -59.9L2.1 -60L0 -60Z" fill="#1c4d94" fill-rule="evenodd"/>
<circle r="48.8" fill="none" stroke="#d8f0b0" stroke-width="0.9"/>
<path d="M0 -48.4L1.7 -48.4L3.4 -48.3L5.1 -48.1L6.7 -47.9L8.4 -47.7L10.1 -47.3L11.7 -47L13.3 -46.5L15 -46L16.6 -45.5L18.1 -44.9L19.7 -44.2L21.2 -43.5L22.7 -42.7L24.2 -41.9L25.6 -41L27.1 -40.1L28.4 -39.2L29.8 -38.1L31.1 -37.1L32.4 -36L33.6 -34.8L34.8 -33.6L36 -32.4L37.1 -31.1L38.1 -29.8L39.2 -28.4L40.1 -27.1L41 -25.6L41.9 -24.2L42.7 -22.7L43.5 -21.2L44.2 -19.7L44.9 -18.1L45.5 -16.6L46 -15L46.5 -13.3L47 -11.7L47.3 -10.1L47.7 -8.4L47.9 -6.7L48.1 -5.1L48.3 -3.4L48.4 -1.7L48.4 0L48.4 1.7L48.3 3.4L48.1 5.1L47.9 6.7L47.7 8.4L47.3 10.1L47 11.7L46.5 13.3L46 15L45.5 16.6L44.9 18.1L44.2 19.7L43.5 21.2L42.7 22.7L41.9 24.2L41 25.6L40.1 27.1L39.2 28.4L38.1 29.8L37.1 31.1L36 32.4L34.8 33.6L33.6 34.8L32.4 36L31.1 37.1L29.8 38.1L28.4 39.2L27.1 40.1L25.6 41L24.2 41.9L22.7 42.7L21.2 43.5L19.7 44.2L18.1 44.9L16.6 45.5L15 46L13.3 46.5L11.7 47L10.1 47.3L8.4 47.7L6.7 47.9L5.1 48.1L3.4 48.3L1.7 48.4L0 48.4L-1.7 48.4L-3.4 48.3L-5.1 48.1L-6.7 47.9L-8.4 47.7L-10.1 47.3L-11.7 47L-13.3 46.5L-15 46L-16.6 45.5L-18.1 44.9L-19.7 44.2L-21.2 43.5L-22.7 42.7L-24.2 41.9L-25.6 41L-27.1 40.1L-28.4 39.2L-29.8 38.1L-31.1 37.1L-32.4 36L-33.6 34.8L-34.8 33.6L-36 32.4L-37.1 31.1L-38.1 29.8L-39.2 28.4L-40.1 27.1L-41 25.6L-41.9 24.2L-42.7 22.7L-43.5 21.2L-44.2 19.7L-44.9 18.1L-45.5 16.6L-46 15L-46.5 13.3L-47 11.7L-47.3 10.1L-47.7 8.4L-47.9 6.7L-48.1 5.1L-48.3 3.4L-48.4 1.7L-48.4 0L-48.4 -1.7L-48.3 -3.4L-48.1 -5.1L-47.9 -6.7L-47.7 -8.4L-47.3 -10.1L-47 -11.7L-46.5 -13.3L-46 -15L-45.5 -16.6L-44.9 -18.1L-44.2 -19.7L-43.5 -21.2L-42.7 -22.7L-41.9 -24.2L-41 -25.6L-40.1 -27.1L-39.2 -28.4L-38.1 -29.8L-37.1 -31.1L-36 -32.4L-34.8 -33.6L-33.6 -34.8L-32.4 -36L-31.1 -37.1L-29.8 -38.1L-28.4 -39.2L-27.1 -40.1L-25.6 -41L-24.2 -41.9L-22.7 -42.7L-21.2 -43.5L-19.7 -44.2L-18.1 -44.9L-16.6 -45.5L-15 -46L-13.3 -46.5L-11.7 -47L-10.1 -47.3L-8.4 -47.7L-6.7 -47.9L-5.1 -48.1L-3.4 -48.3L-1.7 -48.4ZM-0.9 -25.6L-1.8 -25.5L-2.7 -25.5L-3.6 -25.4L-4.4 -25.2L-5.3 -25L-6.2 -24.8L-7.1 -24.6L-7.9 -24.3L-8.8 -24.1L-9.6 -23.7L-10.4 -23.4L-11.2 -23L-12 -22.6L-12.8 -22.2L-13.6 -21.7L-14.3 -21.2L-15 -20.7L-15.8 -20.2L-16.5 -19.6L-17.1 -19L-17.8 -18.4L-18.4 -17.8L-19 -17.1L-19.6 -16.5L-20.2 -15.8L-20.7 -15L-21.2 -14.3L-21.7 -13.6L-22.2 -12.8L-22.6 -12L-23 -11.2L-23.4 -10.4L-23.7 -9.6L-24.1 -8.8L-24.3 -7.9L-24.6 -7.1L-24.8 -6.2L-25 -5.3L-25.2 -4.4L-25.4 -3.6L-25.5 -2.7L-25.5 -1.8L-25.6 -0.9L-25.6 0L-25.6 0.9L-25.5 1.8L-25.5 2.7L-25.4 3.6L-25.2 4.4L-25 5.3L-24.8 6.2L-24.6 7.1L-24.3 7.9L-24.1 8.8L-23.7 9.6L-23.4 10.4L-23 11.2L-22.6 12L-22.2 12.8L-21.7 13.6L-21.2 14.3L-20.7 15L-20.2 15.8L-19.6 16.5L-19 17.1L-18.4 17.8L-17.8 18.4L-17.1 19L-16.5 19.6L-15.8 20.2L-15 20.7L-14.3 21.2L-13.6 21.7L-12.8 22.2L-12 22.6L-11.2 23L-10.4 23.4L-9.6 23.7L-8.8 24.1L-7.9 24.3L-7.1 24.6L-6.2 24.8L-5.3 25L-4.4 25.2L-3.6 25.4L-2.7 25.5L-1.8 25.5L-0.9 25.6L0 25.6L0.9 25.6L1.8 25.5L2.7 25.5L3.6 25.4L4.4 25.2L5.3 25L6.2 24.8L7.1 24.6L7.9 24.3L8.8 24.1L9.6 23.7L10.4 23.4L11.2 23L12 22.6L12.8 22.2L13.6 21.7L14.3 21.2L15 20.7L15.8 20.2L16.5 19.6L17.1 19L17.8 18.4L18.4 17.8L19 17.1L19.6 16.5L20.2 15.8L20.7 15L21.2 14.3L21.7 13.6L22.2 12.8L22.6 12L23 11.2L23.4 10.4L23.7 9.6L24.1 8.8L24.3 7.9L24.6 7.1L24.8 6.2L25 5.3L25.2 4.4L25.4 3.6L25.5 2.7L25.5 1.8L25.6 0.9L25.6 0L25.6 -0.9L25.5 -1.8L25.5 -2.7L25.4 -3.6L25.2 -4.4L25 -5.3L24.8 -6.2L24.6 -7.1L24.3 -7.9L24.1 -8.8L23.7 -9.6L23.4 -10.4L23 -11.2L22.6 -12L22.2 -12.8L21.7 -13.6L21.2 -14.3L20.7 -15L20.2 -15.8L19.6 -16.5L19 -17.1L18.4 -17.8L17.8 -18.4L17.1 -19L16.5 -19.6L15.8 -20.2L15 -20.7L14.3 -21.2L13.6 -21.7L12.8 -22.2L12 -22.6L11.2 -23L10.4 -23.4L9.6 -23.7L8.8 -24.1L7.9 -24.3L7.1 -24.6L6.2 -24.8L5.3 -25L4.4 -25.2L3.6 -25.4L2.7 -25.5L1.8 -25.5L0.9 -25.6L0 -25.6Z" fill="#ffe600" fill-rule="evenodd"/>
<path d="M0 -39.1L0.7 -39.1L0.7 -38.8L1.4 -38.8L1.4 -39.6L2.1 -39.6L2.1 -39.9L2.8 -39.9L2.8 -40.4L3.5 -40.3L3.6 -41.4L4.3 -41.3L4.1 -38.8L4.8 -38.8L4.8 -39.5L5.5 -39.4L5.7 -40.9L6.5 -40.8L6.4 -40.7L7.1 -40.5L6.8 -38.5L7.5 -38.4L7.8 -40L8.5 -39.8L8.1 -38.2L8.8 -38L9.3 -40.4L10 -40.3L9 -36.1L9.6 -35.9L9.6 -35.9L10.3 -35.8L10.3 -35.8L10.9 -35.6L11.8 -38.5L12.4 -38.3L12.2 -37.5L12.8 -37.3L13 -37.6L13.6 -37.4L13.5 -37.2L14.2 -37L14.5 -37.9L15.2 -37.6L15 -37.1L15.6 -36.8L15.8 -37.3L16.5 -37L16.4 -36.8L17 -36.6L17.2 -36.9L17.8 -36.6L18.2 -37.4L18.9 -37.1L18.3 -35.9L18.9 -35.6L18.9 -35.6L19.6 -35.3L20.2 -36.4L20.8 -36L20.7 -35.8L21.3 -35.5L21.1 -35.1L21.7 -34.8L21.5 -34.4L22.1 -34L22.5 -34.7L23.1 -34.3L22.7 -33.6L23.2 -33.2L23.9 -34.2L24.5 -33.7L24.9 -34.3L25.5 -33.8L25.3 -33.6L25.9 -33.2L25.9 -33.2L26.5 -32.7L25.4 -31.4L26 -31L25.7 -30.6L26.2 -30.1L26.5 -30.5L27 -30L27.7 -30.8L28.3 -30.3L27.4 -29.4L27.9 -28.9L27.9 -28.8L28.4 -28.4L30.2 -30.2L30.7 -29.7L29.4 -28.4L29.9 -27.8L29.3 -27.3L29.7 -26.8L30.7 -27.6L31.2 -27.1L31.6 -27.4L32 -26.9L31.5 -26.4L32 -25.9L31.2 -25.3L31.7 -24.7L32.5 -25.4L33 -24.9L32 -24.1L32.4 -23.5L33.9 -24.6L34.3 -24L34.8 -24.4L35.2 -23.8L33.1 -22.3L33.5 -21.7L34.9 -22.6L35.3 -22L35.9 -22.4L36.3 -21.8L35.8 -21.5L36.2 -20.9L35 -20.2L35.3 -19.6L35.1 -19.5L35.4 -18.8L36.4 -19.4L36.8 -18.7L35.7 -18.2L36 -17.6L38.1 -18.6L38.4 -17.9L37.5 -17.5L37.8 -16.8L37.3 -16.6L37.6 -16L38.8 -16.5L39.1 -15.8L37.6 -15.2L37.9 -14.5L38.7 -14.8L38.9 -14.2L38.9 -14.2L39.1 -13.5L38 -13.1L38.3 -12.4L40.2 -13.1L40.4 -12.4L40.1 -12.3L40.3 -11.6L38.9 -11.2L39.1 -10.5L39.8 -10.7L40 -10L39.6 -9.9L39.8 -9.2L41.5 -9.6L41.7 -8.9L40.9 -8.7L41.1 -8L41.9 -8.1L42 -7.4L41.6 -7.3L41.8 -6.6L41.8 -6.6L41.9 -5.9L40.6 -5.7L40.7 -5L42.2 -5.2L42.3 -4.4L40.8 -4.3L40.9 -3.6L42.3 -3.7L42.4 -3L42 -2.9L42.1 -2.2L41.5 -2.2L41.5 -1.4L40.5 -1.4L40.6 -0.7L41.8 -0.7L41.8 0L41.9 0L41.9 0.7L42 0.7L42 1.5L40.2 1.4L40.2 2.1L40.7 2.1L40.7 2.8L41.6 2.9L41.5 3.6L42.4 3.7L42.3 4.4L40.5 4.3L40.4 5L42.3 5.2L42.2 5.9L42.5 6L42.4 6.7L39.8 6.3L39.7 7L41.5 7.3L41.4 8L40.5 7.9L40.3 8.6L39.6 8.4L39.4 9.1L39.5 9.1L39.3 9.8L39.7 9.9L39.5 10.6L38.6 10.3L38.4 11L40.3 11.5L40.1 12.2L39.4 12L39.2 12.7L38.9 12.6L38.7 13.3L40.1 13.8L39.8 14.5L40.1 14.6L39.8 15.3L38.5 14.8L38.2 15.4L37.8 15.3L37.5 15.9L38.3 16.3L38 16.9L37.5 16.7L37.2 17.3L38.5 17.9L38.2 18.6L36.6 17.8L36.3 18.5L35.9 18.3L35.5 18.9L35.3 18.7L34.9 19.4L35.3 19.6L35 20.2L34.8 20.1L34.4 20.7L36.4 21.9L36 22.5L35.5 22.2L35.1 22.8L34.9 22.6L34.5 23.2L35.2 23.8L34.8 24.4L34 23.8L33.6 24.4L33.8 24.6L33.4 25.2L32.1 24.2L31.7 24.8L32 25L31.6 25.6L32.3 26.2L31.8 26.7L32.3 27.1L31.8 27.7L30.6 26.6L30.2 27.2L30.5 27.5L30 28L29.7 27.7L29.2 28.2L29.2 28.2L28.7 28.7L29.3 29.3L28.8 29.8L29.5 30.5L28.9 31L29 31.1L28.5 31.7L27.7 30.8L27.2 31.3L26.1 30.1L25.6 30.5L26.1 31.1L25.5 31.5L26.2 32.4L25.7 32.8L26.1 33.4L25.5 33.9L24.2 32.2L23.7 32.6L24.8 34.2L24.2 34.6L24.3 34.7L23.7 35.2L22.4 33.3L21.9 33.7L23.1 35.6L22.5 36L22 35.3L21.4 35.6L21.8 36.3L21.2 36.6L20.9 36.2L20.3 36.6L20.3 36.6L19.6 36.9L19.9 37.4L19.2 37.8L19.1 37.5L18.4 37.8L18 36.9L17.3 37.2L17.3 37.1L16.7 37.4L17.3 39L16.7 39.3L15.9 37.4L15.2 37.7L15.3 38L14.7 38.2L14.4 37.6L13.8 37.9L14 38.4L13.3 38.6L13.5 39.3L12.8 39.5L12.5 38.5L11.8 38.7L12 39.3L11.3 39.5L11.5 40L10.8 40.2L10.6 39.6L9.9 39.8L10.2 40.8L9.5 41L9.3 40.3L8.6 40.5L8.5 39.9L7.8 40.1L8 41.2L7.3 41.3L7.2 40.9L6.5 41L6.4 40.7L5.7 40.8L5.6 40L4.9 40.1L5.2 42.4L4.5 42.5L4.2 40.2L3.5 40.2L3.6 40.8L2.9 40.9L2.9 41.5L2.2 41.5L2.2 42.5L1.5 42.6L1.4 40.7L0.7 40.8L0.7 39.2L0 39.2L0 40.9L-0.7 40.9L-0.7 41.6L-1.5 41.6L-1.4 40.2L-2.1 40.1L-2.2 41.7L-2.9 41.6L-2.6 37.1L-3.2 37.1L-3.2 37.1L-3.9 37L-3.9 37L-4.5 36.9L-5 40.5L-5.7 40.4L-5.8 41L-6.5 40.9L-6.2 39.2L-6.9 39.1L-7.2 40.7L-7.9 40.6L-7.7 39.9L-8.4 39.7L-8.3 38.9L-9 38.8L-8.8 38L-9.4 37.8L-9.9 39.6L-10.6 39.4L-10.4 38.7L-11.1 38.6L-11.2 39L-11.9 38.8L-11.6 37.9L-12.2 37.7L-12.1 37.2L-12.7 37L-12.8 37.2L-13.4 36.9L-14 38.4L-14.7 38.2L-14.1 36.8L-14.8 36.5L-14.9 37L-15.6 36.7L-15.9 37.5L-16.6 37.2L-16.2 36.4L-16.8 36.1L-17.1 36.6L-17.7 36.3L-17.6 36.2L-18.3 35.8L-18.7 36.8L-19.4 36.4L-18.9 35.5L-19.5 35.2L-19.3 34.9L-19.9 34.5L-20.9 36.3L-21.6 35.9L-20.5 34.1L-21.1 33.7L-21.8 34.8L-22.4 34.5L-22.4 34.4L-23 34L-22.5 33.4L-23.1 33L-23.7 33.9L-24.3 33.5L-24.3 33.5L-24.9 33.1L-24.4 32.4L-25 32L-24.7 31.7L-25.3 31.2L-24.9 30.8L-25.4 30.3L-26.8 32L-27.4 31.5L-27.6 31.8L-28.2 31.3L-26.8 29.8L-27.3 29.3L-27.4 29.4L-27.9 28.9L-28.6 29.6L-29.1 29.1L-29.3 29.3L-29.8 28.8L-30 29L-30.5 28.4L-31.2 29.1L-31.7 28.6L-31.5 28.4L-32 27.8L-31.9 27.7L-32.4 27.2L-31 26L-31.5 25.5L-32.6 26.4L-33 25.8L-33.5 26.2L-34 25.6L-33 24.9L-33.5 24.3L-33.3 24.2L-33.7 23.6L-34.1 23.9L-34.5 23.3L-34.9 23.5L-35.3 22.9L-34 22.1L-34.4 21.5L-36.2 22.6L-36.6 22L-36.4 21.9L-36.8 21.3L-35.6 20.6L-36 19.9L-36 20L-36.4 19.3L-32.8 17.5L-33.1 16.9L-33.1 16.9L-33.4 16.3L-33.4 16.3L-33.7 15.7L-36.9 17.2L-37.2 16.6L-38.6 17.2L-38.9 16.5L-36.9 15.7L-37.2 15L-37.4 15.1L-37.6 14.4L-38.3 14.7L-38.6 14L-37.6 13.7L-37.9 13L-37.7 13L-38 12.3L-39.5 12.8L-39.7 12.1L-38.8 11.9L-39 11.2L-40 11.5L-40.2 10.8L-38.9 10.4L-39.1 9.7L-36.1 9L-36.2 8.4L-36.2 8.4L-36.4 7.7L-40.6 8.6L-40.8 7.9L-39.5 7.7L-39.6 7L-40.5 7.1L-40.6 6.4L-39.7 6.3L-39.8 5.6L-39.7 5.6L-39.8 4.9L-41.2 5.1L-41.3 4.3L-40 4.2L-40 3.5L-40.3 3.5L-40.4 2.8L-40 2.8L-40 2.1L-40.1 2.1L-40.2 1.4L-37.2 1.3L-37.2 0.6L-37.2 0.6L-37.2 0L-37.2 0L-37.2 -0.6L-41.8 -0.7L-41.8 -1.5L-41.1 -1.4L-41.1 -2.2L-40.9 -2.1L-40.8 -2.9L-40.9 -2.9L-40.8 -3.6L-43.1 -3.8L-43 -4.5L-41.3 -4.3L-41.3 -5.1L-41.6 -5.1L-41.5 -5.8L-42.3 -5.9L-42.2 -6.7L-42.3 -6.7L-42.2 -7.4L-40.3 -7.1L-40.1 -7.8L-40.7 -7.9L-40.6 -8.6L-39.5 -8.4L-39.4 -9.1L-38.4 -8.9L-38.2 -9.5L-36.1 -9L-35.9 -9.6L-35.9 -9.6L-35.8 -10.3L-39.7 -11.4L-39.5 -12.1L-37.9 -11.6L-37.7 -12.2L-38.8 -12.6L-38.6 -13.3L-36.8 -12.7L-36.6 -13.3L-37.6 -13.7L-37.3 -14.3L-37.4 -14.4L-37.1 -15L-36.5 -14.7L-36.2 -15.4L-38.1 -16.2L-37.9 -16.9L-37.9 -16.9L-37.6 -17.5L-36.1 -16.8L-35.8 -17.4L-37 -18L-36.6 -18.7L-37.1 -18.9L-36.8 -19.6L-36 -19.1L-35.6 -19.8L-35.1 -19.5L-34.8 -20.1L-35.7 -20.6L-35.3 -21.2L-34.6 -20.8L-34.2 -21.4L-34.7 -21.7L-34.3 -22.3L-34.5 -22.4L-34.1 -23L-33.2 -22.4L-32.8 -23L-33.7 -23.6L-33.3 -24.2L-32.9 -23.9L-32.5 -24.5L-32.7 -24.6L-32.3 -25.2L-31.6 -24.7L-31.1 -25.2L-33.1 -26.8L-32.6 -27.4L-31.3 -26.3L-30.9 -26.8L-31.6 -27.5L-31.1 -28L-31.2 -28.1L-30.7 -28.6L-29.6 -27.6L-29.1 -28.1L-30.8 -29.7L-30.2 -30.2L-29.7 -29.7L-29.2 -30.3L-28 -29L-27.5 -29.5L-29 -31.1L-28.5 -31.6L-28.2 -31.3L-27.6 -31.8L-28 -32.2L-27.5 -32.7L-27 -32.2L-26.5 -32.7L-26.1 -32.3L-25.6 -32.7L-26.1 -33.4L-25.5 -33.8L-22.4 -29.7L-21.9 -30.1L-21.9 -30.1L-21.3 -30.5L-22.9 -32.7L-22.4 -33.1L-22.3 -33.1L-21.7 -33.5L-22.7 -34.9L-22.1 -35.3L-21.4 -34.3L-20.8 -34.6L-19.2 -31.9L-18.6 -32.2L-18.6 -32.2L-18 -32.5L-19.3 -34.8L-18.7 -35.1L-18.5 -34.9L-17.9 -35.2L-18.9 -37L-18.2 -37.4L-17.9 -36.8L-17.3 -37.1L-17.1 -36.6L-16.4 -36.9L-16.6 -37.2L-15.9 -37.5L-16.2 -38.1L-15.5 -38.4L-15 -37.2L-14.4 -37.4L-14.3 -37.2L-13.6 -37.4L-13.8 -38L-13.2 -38.2L-13.1 -38.2L-12.5 -38.4L-12.8 -39.4L-12.1 -39.6L-12.2 -39.8L-11.5 -40L-11.4 -39.9L-10.7 -40.1L-10.6 -39.6L-9.9 -39.8L-9.8 -39.3L-9.1 -39.5L-8.9 -38.5L-8.2 -38.7L-8.7 -40.8L-8 -40.9L-7.9 -40.7L-7.2 -40.9L-7 -39.9L-6.3 -40L-6.4 -40.7L-5.7 -40.8L-5.8 -41.2L-5.1 -41.3L-4.5 -36.9L-3.9 -37L-3.9 -37L-3.2 -37.1L-3.2 -37.1L-2.6 -37.1L-2.6 -37.1L-1.9 -37.1L-1.9 -37.1L-1.3 -37.2L-1.3 -37.2L-0.6 -37.2L-0.6 -37.2L0 -37.2ZM-1.3 -37.2L-2.6 -37.1L-3.9 -37L-5.2 -36.8L-6.5 -36.6L-7.7 -36.4L-9 -36.1L-10.3 -35.8L-11.5 -35.4L-12.7 -35L-13.9 -34.5L-15.1 -34L-16.3 -33.4L-17.5 -32.8L-18.6 -32.2L-19.7 -31.5L-20.8 -30.8L-21.9 -30.1L-22.9 -29.3L-23.9 -28.5L-24.9 -27.6L-25.8 -26.8L-26.8 -25.8L-27.6 -24.9L-28.5 -23.9L-29.3 -22.9L-30.1 -21.9L-30.8 -20.8L-31.5 -19.7L-32.2 -18.6L-32.8 -17.5L-33.4 -16.3L-34 -15.1L-34.5 -13.9L-35 -12.7L-35.4 -11.5L-35.8 -10.3L-36.1 -9L-36.4 -7.7L-36.6 -6.5L-36.8 -5.2L-37 -3.9L-37.1 -2.6L-37.2 -1.3L-37.2 0L-37.2 1.3L-37.1 2.6L-37 3.9L-36.8 5.2L-36.6 6.5L-36.4 7.7L-36.1 9L-35.8 10.3L-35.4 11.5L-35 12.7L-34.5 13.9L-34 15.1L-33.4 16.3L-32.8 17.5L-32.2 18.6L-31.5 19.7L-30.8 20.8L-30.1 21.9L-29.3 22.9L-28.5 23.9L-27.6 24.9L-26.8 25.8L-25.8 26.8L-24.9 27.6L-23.9 28.5L-22.9 29.3L-21.9 30.1L-20.8 30.8L-19.7 31.5L-18.6 32.2L-17.5 32.8L-16.3 33.4L-15.1 34L-13.9 34.5L-12.7 35L-11.5 35.4L-10.3 35.8L-9 36.1L-7.7 36.4L-6.5 36.6L-5.2 36.8L-3.9 37L-2.6 37.1L-1.3 37.2L0 37.2L1.3 37.2L2.6 37.1L3.9 37L5.2 36.8L6.5 36.6L7.7 36.4L9 36.1L10.3 35.8L11.5 35.4L12.7 35L13.9 34.5L15.1 34L16.3 33.4L17.5 32.8L18.6 32.2L19.7 31.5L20.8 30.8L21.9 30.1L22.9 29.3L23.9 28.5L24.9 27.6L25.8 26.8L26.8 25.8L27.6 24.9L28.5 23.9L29.3 22.9L30.1 21.9L30.8 20.8L31.5 19.7L32.2 18.6L32.8 17.5L33.4 16.3L34 15.1L34.5 13.9L35 12.7L35.4 11.5L35.8 10.3L36.1 9L36.4 7.7L36.6 6.5L36.8 5.2L37 3.9L37.1 2.6L37.2 1.3L37.2 0L37.2 -1.3L37.1 -2.6L37 -3.9L36.8 -5.2L36.6 -6.5L36.4 -7.7L36.1 -9L35.8 -10.3L35.4 -11.5L35 -12.7L34.5 -13.9L34 -15.1L33.4 -16.3L32.8 -17.5L32.2 -18.6L31.5 -19.7L30.8 -20.8L30.1 -21.9L29.3 -22.9L28.5 -23.9L27.6 -24.9L26.8 -25.8L25.8 -26.8L24.9 -27.6L23.9 -28.5L22.9 -29.3L21.9 -30.1L20.8 -30.8L19.7 -31.5L18.6 -32.2L17.5 -32.8L16.3 -33.4L15.1 -34L13.9 -34.5L12.7 -35L11.5 -35.4L10.3 -35.8L9 -36.1L7.7 -36.4L6.5 -36.6L5.2 -36.8L3.9 -37L2.6 -37.1L1.3 -37.2L0 -37.2Z" fill="#d3152b" fill-rule="evenodd"/>
<path d="M0 -27.2L0.5 -27.2L0.5 -26.2L0.9 -26.2L0.9 -27.1L1.4 -27.1L1.4 -26.8L1.9 -26.7L1.9 -27.1L2.4 -27.1L2.4 -27L2.8 -27L2.8 -27L3.3 -26.9L3.3 -26.7L3.7 -26.6L3.8 -26.9L4.3 -26.9L4.2 -26.5L4.7 -26.4L4.6 -26.3L5.1 -26.2L5.2 -26.6L5.6 -26.5L5.5 -25.9L6 -25.8L6.1 -26.5L6.6 -26.4L9 -36.1L9.6 -35.9L9.6 -35.9L10.3 -35.8L10.3 -35.8L10.9 -35.6L8 -26.1L8.4 -26L8.4 -25.9L8.9 -25.7L8.9 -25.8L9.3 -25.6L9.3 -25.5L9.7 -25.4L9.6 -24.9L10 -24.8L9.8 -24.3L10.3 -24.2L10.5 -24.8L10.9 -24.6L10.8 -24.1L11.2 -24L11.4 -24.5L11.8 -24.3L11.5 -23.6L11.9 -23.4L12.2 -23.9L12.6 -23.7L12.7 -23.9L13.1 -23.7L13.2 -23.8L13.6 -23.6L13.7 -23.7L14.1 -23.4L14.1 -23.5L14.5 -23.2L14 -22.4L14.4 -22.2L14.5 -22.4L14.9 -22.1L15.3 -22.6L15.7 -22.4L15.4 -22L15.8 -21.7L15.8 -21.8L16.2 -21.5L16.5 -21.9L16.9 -21.6L16.2 -20.8L16.6 -20.5L17.1 -21.1L17.5 -20.8L17.2 -20.6L17.6 -20.3L17.8 -20.4L18.1 -20.1L18 -20L18.4 -19.7L18 -19.3L18.3 -19L18.5 -19.2L18.8 -18.8L19.2 -19.2L19.6 -18.9L19.2 -18.5L19.5 -18.2L19.7 -18.4L20 -18L20.2 -18.2L20.5 -17.8L20.3 -17.6L20.6 -17.3L20.8 -17.5L21.1 -17.1L20.7 -16.7L20.9 -16.4L21.4 -16.7L21.7 -16.3L21.8 -16.5L22.1 -16.1L21.5 -15.6L21.7 -15.2L22.3 -15.6L22.6 -15.3L22.1 -14.9L22.4 -14.5L22.3 -14.5L22.6 -14.1L22.7 -14.2L22.9 -13.8L22.7 -13.7L23 -13.3L23.6 -13.6L23.8 -13.2L23.7 -13.2L24 -12.7L23.7 -12.6L23.9 -12.2L24.4 -12.5L24.7 -12L23.8 -11.6L24 -11.2L24.3 -11.3L24.5 -10.9L24.5 -10.9L24.7 -10.5L24.8 -10.5L25 -10.1L25 -10.1L25.2 -9.7L25.5 -9.8L25.7 -9.4L25.8 -9.4L25.9 -8.9L25.8 -8.9L25.9 -8.4L26.2 -8.5L26.3 -8L25.7 -7.9L25.8 -7.4L26.3 -7.5L26.4 -7.1L25.6 -6.9L25.8 -6.4L26.6 -6.6L26.7 -6.2L26.5 -6.1L26.6 -5.7L26 -5.5L26.1 -5.1L26.4 -5.1L26.5 -4.7L27.1 -4.8L27.2 -4.3L26.9 -4.3L26.9 -3.8L27.3 -3.8L27.4 -3.4L27.6 -3.4L27.7 -2.9L26.8 -2.8L26.8 -2.3L26.9 -2.4L27 -1.9L27.1 -1.9L27.2 -1.4L27.7 -1.4L27.7 -1L27.4 -1L27.4 -0.5L27.9 -0.5L27.9 0L28 0L28 0.5L27 0.5L26.9 0.9L27.5 1L27.5 1.4L27.7 1.5L27.7 1.9L27.1 1.9L27 2.4L27.3 2.4L27.3 2.9L27.1 2.9L27.1 3.3L27.7 3.4L27.6 3.9L27.2 3.8L27.2 4.3L27.2 4.3L27.1 4.8L27.3 4.8L27.2 5.3L27.3 5.3L27.2 5.8L26.4 5.6L26.3 6.1L26.5 6.1L26.4 6.6L26.6 6.6L26.5 7.1L26.8 7.2L26.7 7.6L26.3 7.5L26.1 8L26.4 8.1L26.2 8.5L26.7 8.7L26.5 9.1L25.9 8.9L25.7 9.4L25.7 9.3L25.5 9.8L25.2 9.7L25 10.1L25.2 10.2L25 10.6L25.7 10.9L25.5 11.4L25.3 11.3L25.1 11.7L25.4 11.8L25.2 12.3L25.1 12.3L24.9 12.7L24.5 12.5L24.3 12.9L24.6 13.1L24.3 13.5L24.5 13.6L24.2 14L23.7 13.7L23.4 14.1L23.2 13.9L22.9 14.3L23 14.4L22.8 14.8L23.5 15.2L23.2 15.6L23.1 15.6L22.8 16L23 16.1L22.7 16.5L22.4 16.3L22.1 16.7L21.7 16.3L21.4 16.7L22 17.2L21.7 17.6L21.3 17.2L21 17.6L21.1 17.7L20.8 18.1L20.8 18.1L20.5 18.5L20.2 18.2L19.9 18.6L20.3 19L20 19.3L20 19.3L19.7 19.7L19.3 19.3L19 19.7L19.4 20.1L19.1 20.5L19.1 20.5L18.8 20.8L18.5 20.6L18.2 20.9L18.2 20.9L17.8 21.2L17.9 21.3L17.5 21.6L17.5 21.7L17.2 22L16.7 21.4L16.4 21.7L16.6 22L16.2 22.3L16.3 22.4L15.9 22.7L15.6 22.2L15.2 22.5L15.1 22.4L14.7 22.7L14.8 22.8L14.4 23.1L14.3 22.8L13.9 23.1L14.4 23.9L13.9 24.1L13.8 23.8L13.3 24.1L13.1 23.7L12.7 23.9L12.6 23.8L12.2 24L12.6 24.8L12.2 25L11.9 24.4L11.5 24.6L11.7 25.2L11.3 25.4L11.2 25.2L10.8 25.4L10.6 25L10.2 25.2L10.2 25.2L9.7 25.4L10 26.1L9.6 26.3L9.5 26.1L9 26.2L8.8 25.5L8.3 25.6L8.4 25.8L7.9 25.9L7.9 25.9L7.5 26L7.6 26.4L7.1 26.5L7 26.3L6.6 26.4L6.6 26.6L6.2 26.7L6.2 26.9L5.7 27L5.7 26.8L5.2 26.9L5.2 26.6L4.7 26.7L4.7 26.7L4.2 26.8L4.2 26.8L3.8 26.9L3.8 27.1L3.3 27.1L3.3 27L2.8 27.1L2.8 26.6L2.3 26.7L2.3 26.6L1.9 26.6L1.9 26.7L1.4 26.7L1.4 27.4L1 27.4L0.9 27L0.5 27L0.5 27L0 27L0 27.4L-0.5 27.4L-0.5 27.3L-1 27.3L-0.9 26.8L-1.4 26.8L-1.4 27L-1.9 27L-2.6 37.1L-3.2 37.1L-3.2 37.1L-3.9 37L-3.9 37L-4.5 36.9L-3.3 26.8L-3.8 26.8L-3.8 26.9L-4.3 26.8L-4.3 27.3L-4.8 27.2L-4.8 27.4L-5.3 27.3L-5.3 27L-5.7 26.9L-5.6 26.5L-6.1 26.4L-6.2 26.7L-6.6 26.6L-6.6 26.3L-7 26.2L-7.1 26.4L-7.5 26.3L-7.4 25.8L-7.8 25.6L-8 26.2L-8.5 26.1L-8.2 25.2L-8.6 25.1L-8.9 25.8L-9.3 25.6L-9.4 25.9L-9.9 25.7L-9.5 24.9L-10 24.7L-10.2 25.2L-10.6 25L-10.6 24.9L-11 24.7L-11.1 25L-11.6 24.8L-11.5 24.7L-12 24.5L-11.9 24.3L-12.3 24.1L-12.3 24.2L-12.8 24L-12.7 23.8L-13.1 23.6L-13.2 23.8L-13.6 23.6L-13.5 23.4L-13.9 23.2L-14.4 23.9L-14.8 23.7L-14.5 23.2L-14.9 23L-14.9 22.9L-15.2 22.6L-15.1 22.3L-15.5 22.1L-15.6 22.2L-16 22L-16.4 22.5L-16.8 22.2L-16.6 22L-16.9 21.7L-16.7 21.4L-17.1 21.1L-17.1 21.1L-17.4 20.8L-17.9 21.3L-18.3 21L-18.3 21.1L-18.7 20.7L-18.3 20.4L-18.7 20L-18.7 20.1L-19.1 19.7L-19.3 20L-19.6 19.6L-19.5 19.5L-19.9 19.2L-19.8 19.1L-20.1 18.8L-19.6 18.3L-19.9 17.9L-20.3 18.3L-20.6 17.9L-20.2 17.6L-20.5 17.2L-20.5 17.2L-20.8 16.8L-21.3 17.2L-21.6 16.9L-21 16.4L-21.3 16.1L-22 16.6L-22.3 16.2L-22 16L-22.3 15.6L-22.6 15.8L-22.8 15.4L-22.6 15.3L-22.9 14.9L-22.9 14.9L-23.2 14.5L-22.7 14.2L-23 13.8L-22.9 13.8L-23.1 13.4L-23.6 13.6L-23.9 13.2L-23.8 13.2L-24.1 12.8L-32.8 17.5L-33.1 16.9L-33.1 16.9L-33.4 16.3L-33.4 16.3L-33.7 15.7L-24.7 11.5L-24.9 11.1L-24.8 11L-25 10.6L-25.5 10.8L-25.7 10.4L-25.5 10.3L-25.7 9.9L-25.9 9.9L-26 9.5L-25.4 9.2L-25.6 8.8L-25.6 8.8L-25.7 8.4L-25.7 8.3L-25.8 7.9L-26.2 8L-26.3 7.6L-26.8 7.7L-26.9 7.2L-26 7L-26.1 6.5L-36.1 9L-36.2 8.4L-36.2 8.4L-36.4 7.7L-27.4 5.8L-27.5 5.3L-27.1 5.3L-27.1 4.8L-26.8 4.7L-26.9 4.3L-26.6 4.2L-26.7 3.8L-27.1 3.8L-27.2 3.3L-27.7 3.4L-27.8 2.9L-26.9 2.8L-26.9 2.4L-27.8 2.4L-27.8 1.9L-27.7 1.9L-27.7 1.5L-27.7 1.5L-27.7 1L-37.2 1.3L-37.2 0.6L-37.2 0.6L-37.2 0L-37.2 0L-37.2 -0.6L-26.9 -0.5L-26.9 -0.9L-27 -0.9L-26.9 -1.4L-26.6 -1.4L-26.6 -1.9L-27.2 -1.9L-27.2 -2.4L-27.1 -2.4L-27.1 -2.8L-26.4 -2.8L-26.3 -3.2L-26.6 -3.3L-26.6 -3.7L-26.8 -3.8L-26.7 -4.2L-26.5 -4.2L-26.4 -4.7L-26.7 -4.7L-26.6 -5.2L-26.7 -5.2L-26.6 -5.6L-26.8 -5.7L-26.7 -6.2L-26.6 -6.1L-26.4 -6.6L-36.1 -9L-35.9 -9.6L-35.9 -9.6L-35.8 -10.3L-25.9 -7.4L-25.8 -7.9L-25.8 -7.9L-25.6 -8.3L-26.5 -8.6L-26.4 -9.1L-26.1 -9L-26 -9.5L-26 -9.5L-25.8 -9.9L-25.6 -9.8L-25.4 -10.3L-25.4 -10.3L-25.2 -10.7L-25.2 -10.7L-25.1 -11.2L-24.9 -11.1L-24.7 -11.5L-24.9 -11.6L-24.7 -12L-24.2 -11.8L-24 -12.2L-24.7 -12.6L-24.5 -13L-23.6 -12.5L-23.3 -12.9L-24.1 -13.3L-23.8 -13.8L-23.4 -13.5L-23.1 -13.9L-23.3 -14L-23.1 -14.4L-22.9 -14.3L-22.6 -14.7L-23.1 -15L-22.8 -15.4L-22.9 -15.4L-22.6 -15.8L-22.4 -15.7L-22.1 -16L-22.5 -16.3L-22.2 -16.7L-22 -16.6L-21.7 -16.9L-21.6 -16.9L-21.3 -17.2L-21.4 -17.3L-21.1 -17.7L-20.5 -17.2L-20.2 -17.5L-20.5 -17.8L-20.1 -18.1L-20.1 -18.1L-19.8 -18.4L-19.7 -18.3L-19.3 -18.7L-19.2 -18.5L-18.8 -18.8L-19.4 -19.4L-19.1 -19.8L-19.3 -20L-19 -20.4L-19 -20.4L-18.7 -20.7L-18.1 -20.1L-17.7 -20.4L-18.1 -20.8L-17.7 -21.1L-17.5 -20.9L-17.2 -21.2L-17.5 -21.7L-17.2 -22L-16.6 -21.3L-16.3 -21.6L-22.4 -29.7L-21.9 -30.1L-21.9 -30.1L-21.3 -30.5L-16.1 -23L-15.7 -23.3L-15.2 -22.5L-14.8 -22.8L-15.1 -23.2L-14.7 -23.5L-14.5 -23.3L-14.1 -23.5L-19.2 -31.9L-18.6 -32.2L-18.6 -32.2L-18 -32.5L-13.2 -23.7L-12.7 -24L-13 -24.4L-12.5 -24.6L-12.2 -23.9L-11.7 -24.1L-11.9 -24.4L-11.5 -24.6L-11.6 -24.9L-11.2 -25.1L-11.1 -25L-10.7 -25.2L-10.7 -25.1L-10.2 -25.3L-10.3 -25.6L-9.9 -25.7L-9.8 -25.5L-9.4 -25.7L-9.2 -25.4L-8.8 -25.5L-8.8 -25.7L-8.4 -25.8L-8.2 -25.4L-7.8 -25.5L-7.9 -25.8L-7.4 -25.9L-7.4 -25.8L-6.9 -25.9L-7.1 -26.7L-6.7 -26.8L-6.6 -26.4L-6.1 -26.5L-6.2 -26.8L-5.7 -26.9L-5.7 -26.9L-5.2 -27L-5.2 -26.9L-4.8 -27L-4.7 -26.7L-4.2 -26.8L-4.3 -27L-3.8 -27L-3.8 -27.1L-3.3 -27.1L-4.5 -36.9L-3.9 -37L-3.9 -37L-3.2 -37.1L-3.2 -37.1L-2.6 -37.1L-2.6 -37.1L-1.9 -37.1L-1.9 -37.1L-1.3 -37.2L-1.3 -37.2L-0.6 -37.2L-0.6 -37.2L0 -37.2ZM-1.3 -37.2L-2.6 -37.1L-3.9 -37L-5.2 -36.8L-6.5 -36.6L-7.7 -36.4L-9 -36.1L-10.3 -35.8L-11.5 -35.4L-12.7 -35L-13.9 -34.5L-15.1 -34L-16.3 -33.4L-17.5 -32.8L-18.6 -32.2L-19.7 -31.5L-20.8 -30.8L-21.9 -30.1L-22.9 -29.3L-23.9 -28.5L-24.9 -27.6L-25.8 -26.8L-26.8 -25.8L-27.6 -24.9L-28.5 -23.9L-29.3 -22.9L-30.1 -21.9L-30.8 -20.8L-31.5 -19.7L-32.2 -18.6L-32.8 -17.5L-33.4 -16.3L-34 -15.1L-34.5 -13.9L-35 -12.7L-35.4 -11.5L-35.8 -10.3L-36.1 -9L-36.4 -7.7L-36.6 -6.5L-36.8 -5.2L-37 -3.9L-37.1 -2.6L-37.2 -1.3L-37.2 0L-37.2 1.3L-37.1 2.6L-37 3.9L-36.8 5.2L-36.6 6.5L-36.4 7.7L-36.1 9L-35.8 10.3L-35.4 11.5L-35 12.7L-34.5 13.9L-34 15.1L-33.4 16.3L-32.8 17.5L-32.2 18.6L-31.5 19.7L-30.8 20.8L-30.1 21.9L-29.3 22.9L-28.5 23.9L-27.6 24.9L-26.8 25.8L-25.8 26.8L-24.9 27.6L-23.9 28.5L-22.9 29.3L-21.9 30.1L-20.8 30.8L-19.7 31.5L-18.6 32.2L-17.5 32.8L-16.3 33.4L-15.1 34L-13.9 34.5L-12.7 35L-11.5 35.4L-10.3 35.8L-9 36.1L-7.7 36.4L-6.5 36.6L-5.2 36.8L-3.9 37L-2.6 37.1L-1.3 37.2L0 37.2L1.3 37.2L2.6 37.1L3.9 37L5.2 36.8L6.5 36.6L7.7 36.4L9 36.1L10.3 35.8L11.5 35.4L12.7 35L13.9 34.5L15.1 34L16.3 33.4L17.5 32.8L18.6 32.2L19.7 31.5L20.8 30.8L21.9 30.1L22.9 29.3L23.9 28.5L24.9 27.6L25.8 26.8L26.8 25.8L27.6 24.9L28.5 23.9L29.3 22.9L30.1 21.9L30.8 20.8L31.5 19.7L32.2 18.6L32.8 17.5L33.4 16.3L34 15.1L34.5 13.9L35 12.7L35.4 11.5L35.8 10.3L36.1 9L36.4 7.7L36.6 6.5L36.8 5.2L37 3.9L37.1 2.6L37.2 1.3L37.2 0L37.2 -1.3L37.1 -2.6L37 -3.9L36.8 -5.2L36.6 -6.5L36.4 -7.7L36.1 -9L35.8 -10.3L35.4 -11.5L35 -12.7L34.5 -13.9L34 -15.1L33.4 -16.3L32.8 -17.5L32.2 -18.6L31.5 -19.7L30.8 -20.8L30.1 -21.9L29.3 -22.9L28.5 -23.9L27.6 -24.9L26.8 -25.8L25.8 -26.8L24.9 -27.6L23.9 -28.5L22.9 -29.3L21.9 -30.1L20.8 -30.8L19.7 -31.5L18.6 -32.2L17.5 -32.8L16.3 -33.4L15.1 -34L13.9 -34.5L12.7 -35L11.5 -35.4L10.3 -35.8L9 -36.1L7.7 -36.4L6.5 -36.6L5.2 -36.8L3.9 -37L2.6 -37.1L1.3 -37.2L0 -37.2Z" fill="#1c4d94" fill-rule="evenodd"/>
<path d="M0 -24.6L0.9 -24.6L1.7 -24.5L2.6 -24.5L3.4 -24.4L4.3 -24.2L5.1 -24.1L6 -23.9L6.8 -23.6L7.6 -23.4L8.4 -23.1L9.2 -22.8L10 -22.5L10.8 -22.1L11.5 -21.7L12.3 -21.3L13 -20.9L13.8 -20.4L14.5 -19.9L15.1 -19.4L15.8 -18.8L16.5 -18.3L17.1 -17.7L17.7 -17.1L18.3 -16.5L18.8 -15.8L19.4 -15.1L19.9 -14.5L20.4 -13.8L20.9 -13L21.3 -12.3L21.7 -11.5L22.1 -10.8L22.5 -10L22.8 -9.2L23.1 -8.4L23.4 -7.6L23.6 -6.8L23.9 -6L24.1 -5.1L24.2 -4.3L24.4 -3.4L24.5 -2.6L24.5 -1.7L24.6 -0.9L24.6 0L24.6 0.9L24.5 1.7L24.5 2.6L24.4 3.4L24.2 4.3L24.1 5.1L23.9 6L23.6 6.8L23.4 7.6L23.1 8.4L22.8 9.2L22.5 10L22.1 10.8L21.7 11.5L21.3 12.3L20.9 13L20.4 13.8L19.9 14.5L19.4 15.1L18.8 15.8L18.3 16.5L17.7 17.1L17.1 17.7L16.5 18.3L15.8 18.8L15.1 19.4L14.5 19.9L13.8 20.4L13 20.9L12.3 21.3L11.5 21.7L10.8 22.1L10 22.5L9.2 22.8L8.4 23.1L7.6 23.4L6.8 23.6L6 23.9L5.1 24.1L4.3 24.2L3.4 24.4L2.6 24.5L1.7 24.5L0.9 24.6L0 24.6L-0.9 24.6L-1.7 24.5L-2.6 24.5L-3.4 24.4L-4.3 24.2L-5.1 24.1L-6 23.9L-6.8 23.6L-7.6 23.4L-8.4 23.1L-9.2 22.8L-10 22.5L-10.8 22.1L-11.5 21.7L-12.3 21.3L-13 20.9L-13.8 20.4L-14.5 19.9L-15.1 19.4L-15.8 18.8L-16.5 18.3L-17.1 17.7L-17.7 17.1L-18.3 16.5L-18.8 15.8L-19.4 15.1L-19.9 14.5L-20.4 13.8L-20.9 13L-21.3 12.3L-21.7 11.5L-22.1 10.8L-22.5 10L-22.8 9.2L-23.1 8.4L-23.4 7.6L-23.6 6.8L-23.9 6L-24.1 5.1L-24.2 4.3L-24.4 3.4L-24.5 2.6L-24.5 1.7L-24.6 0.9L-24.6 0L-24.6 -0.9L-24.5 -1.7L-24.5 -2.6L-24.4 -3.4L-24.2 -4.3L-24.1 -5.1L-23.9 -6L-23.6 -6.8L-23.4 -7.6L-23.1 -8.4L-22.8 -9.2L-22.5 -10L-22.1 -10.8L-21.7 -11.5L-21.3 -12.3L-20.9 -13L-20.4 -13.8L-19.9 -14.5L-19.4 -15.1L-18.8 -15.8L-18.3 -16.5L-17.7 -17.1L-17.1 -17.7L-16.5 -18.3L-15.8 -18.8L-15.1 -19.4L-14.5 -19.9L-13.8 -20.4L-13 -20.9L-12.3 -21.3L-11.5 -21.7L-10.8 -22.1L-10 -22.5L-9.2 -22.8L-8.4 -23.1L-7.6 -23.4L-6.8 -23.6L-6 -23.9L-5.1 -24.1L-4.3 -24.2L-3.4 -24.4L-2.6 -24.5L-1.7 -24.5L-0.9 -24.6ZM-0.3 -9.8L-0.7 -9.8L-1 -9.7L-1.4 -9.7L-1.7 -9.7L-2 -9.6L-2.4 -9.5L-2.7 -9.4L-3 -9.3L-3.4 -9.2L-3.7 -9.1L-4 -9L-4.3 -8.8L-4.6 -8.7L-4.9 -8.5L-5.2 -8.3L-5.5 -8.1L-5.8 -7.9L-6 -7.7L-6.3 -7.5L-6.6 -7.3L-6.8 -7L-7 -6.8L-7.3 -6.6L-7.5 -6.3L-7.7 -6L-7.9 -5.8L-8.1 -5.5L-8.3 -5.2L-8.5 -4.9L-8.7 -4.6L-8.8 -4.3L-9 -4L-9.1 -3.7L-9.2 -3.4L-9.3 -3L-9.4 -2.7L-9.5 -2.4L-9.6 -2L-9.7 -1.7L-9.7 -1.4L-9.7 -1L-9.8 -0.7L-9.8 -0.3L-9.8 0L-9.8 0.3L-9.8 0.7L-9.7 1L-9.7 1.4L-9.7 1.7L-9.6 2L-9.5 2.4L-9.4 2.7L-9.3 3L-9.2 3.4L-9.1 3.7L-9 4L-8.8 4.3L-8.7 4.6L-8.5 4.9L-8.3 5.2L-8.1 5.5L-7.9 5.8L-7.7 6L-7.5 6.3L-7.3 6.6L-7 6.8L-6.8 7L-6.6 7.3L-6.3 7.5L-6 7.7L-5.8 7.9L-5.5 8.1L-5.2 8.3L-4.9 8.5L-4.6 8.7L-4.3 8.8L-4 9L-3.7 9.1L-3.4 9.2L-3 9.3L-2.7 9.4L-2.4 9.5L-2 9.6L-1.7 9.7L-1.4 9.7L-1 9.7L-0.7 9.8L-0.3 9.8L0 9.8L0.3 9.8L0.7 9.8L1 9.7L1.4 9.7L1.7 9.7L2 9.6L2.4 9.5L2.7 9.4L3 9.3L3.4 9.2L3.7 9.1L4 9L4.3 8.8L4.6 8.7L4.9 8.5L5.2 8.3L5.5 8.1L5.8 7.9L6 7.7L6.3 7.5L6.6 7.3L6.8 7L7 6.8L7.3 6.6L7.5 6.3L7.7 6L7.9 5.8L8.1 5.5L8.3 5.2L8.5 4.9L8.7 4.6L8.8 4.3L9 4L9.1 3.7L9.2 3.4L9.3 3L9.4 2.7L9.5 2.4L9.6 2L9.7 1.7L9.7 1.4L9.7 1L9.8 0.7L9.8 0.3L9.8 0L9.8 -0.3L9.8 -0.7L9.7 -1L9.7 -1.4L9.7 -1.7L9.6 -2L9.5 -2.4L9.4 -2.7L9.3 -3L9.2 -3.4L9.1 -3.7L9 -4L8.8 -4.3L8.7 -4.6L8.5 -4.9L8.3 -5.2L8.1 -5.5L7.9 -5.8L7.7 -6L7.5 -6.3L7.3 -6.6L7 -6.8L6.8 -7L6.6 -7.3L6.3 -7.5L6 -7.7L5.8 -7.9L5.5 -8.1L5.2 -8.3L4.9 -8.5L4.6 -8.7L4.3 -8.8L4 -9L3.7 -9.1L3.4 -9.2L3 -9.3L2.7 -9.4L2.4 -9.5L2 -9.6L1.7 -9.7L1.4 -9.7L1 -9.7L0.7 -9.8L0.3 -9.8L0 -9.8Z" fill="#b68dc4" fill-rule="evenodd"/>
<path d="M0 -16.3L0.3 -16.3L0.3 -16L0.6 -16L0.6 -16.5L0.9 -16.5L0.9 -16.2L1.1 -16.2L1.1 -16.1L1.4 -16.1L1.4 -16.3L1.7 -16.3L1.7 -15.9L2 -15.9L2 -16.4L2.3 -16.3L2.2 -15.9L2.5 -15.9L2.5 -15.6L2.7 -15.5L2.9 -16.3L3.2 -16.3L3.1 -15.9L3.4 -15.8L3.4 -16.1L3.7 -16.1L3.6 -15.4L3.8 -15.4L2.4 -9.5L2.5 -9.5L2.5 -9.5L2.7 -9.4L2.7 -9.4L2.9 -9.4L4.6 -15.1L4.9 -15.1L5 -15.4L5.3 -15.3L5.3 -15.5L5.6 -15.4L5.5 -15.1L5.8 -15L5.8 -15.1L6 -15L6.2 -15.3L6.5 -15.2L6.3 -14.9L6.6 -14.8L6.6 -14.9L6.9 -14.8L6.9 -14.8L7.2 -14.7L7.2 -14.8L7.5 -14.7L7.3 -14.3L7.5 -14.2L7.6 -14.3L7.9 -14.2L7.5 -13.5L7.7 -13.4L7.8 -13.5L8 -13.4L8.2 -13.7L8.5 -13.6L8.5 -13.7L8.8 -13.5L8.5 -13.1L8.7 -12.9L8.9 -13.2L9.1 -13.1L9 -12.9L9.3 -12.7L9.3 -12.8L9.6 -12.7L9.4 -12.5L9.6 -12.3L9.6 -12.3L9.8 -12.1L9.7 -12L10 -11.9L10.1 -12L10.3 -11.9L10.1 -11.6L10.3 -11.4L10.7 -11.9L10.9 -11.7L10.6 -11.3L10.8 -11.2L11 -11.4L11.2 -11.2L11.1 -11.1L11.3 -10.9L11.2 -10.8L11.4 -10.6L11.8 -11L12 -10.8L11.9 -10.7L12.1 -10.5L12 -10.4L12.2 -10.2L11.8 -9.9L12 -9.7L12.2 -9.9L12.4 -9.7L12.5 -9.8L12.7 -9.5L12.3 -9.3L12.5 -9L12.9 -9.3L13 -9.1L13.1 -9.2L13.3 -8.9L13.3 -9L13.5 -8.8L13.3 -8.6L13.4 -8.4L13.1 -8.2L13.2 -8L13.4 -8L13.5 -7.8L13.9 -8L14.1 -7.8L13.6 -7.5L13.7 -7.3L14.1 -7.5L14.2 -7.2L14.2 -7.2L14.3 -7L14.2 -6.9L14.3 -6.7L14.6 -6.8L14.7 -6.5L14.2 -6.3L14.3 -6.1L14.7 -6.2L14.8 -6L14.6 -5.9L14.7 -5.6L15.1 -5.8L15.2 -5.5L14.8 -5.4L14.9 -5.1L14.7 -5.1L14.8 -4.8L14.9 -4.9L15 -4.6L15.2 -4.6L15.2 -4.4L14.9 -4.3L15 -4L15.6 -4.2L15.7 -3.9L15.5 -3.9L15.5 -3.6L15.3 -3.5L15.3 -3.3L15.6 -3.3L15.6 -3L15.9 -3.1L16 -2.8L15.7 -2.8L15.8 -2.5L15.6 -2.5L15.6 -2.2L15.9 -2.2L15.9 -2L16 -2L16 -1.7L15.9 -1.7L16 -1.4L15.6 -1.4L15.6 -1.1L15.4 -1.1L15.5 -0.8L15.7 -0.8L15.7 -0.5L15.8 -0.6L15.8 -0.3L16.1 -0.3L16.1 0L15.5 0L15.5 0.3L16.1 0.3L16.1 0.6L15.5 0.5L15.5 0.8L15.7 0.8L15.7 1.1L15.8 1.1L15.7 1.4L16.2 1.4L16.1 1.7L16.1 1.7L16.1 2L15.4 1.9L15.3 2.2L15.5 2.2L15.4 2.4L15.6 2.5L15.6 2.7L15.4 2.7L15.4 3L15.9 3.1L15.9 3.4L15.6 3.3L15.6 3.6L15.3 3.5L15.3 3.8L15.5 3.9L15.4 4.1L15.5 4.1L15.4 4.4L15.6 4.5L15.5 4.7L15.5 4.7L15.4 5L15 4.9L15 5.2L15.2 5.2L15.1 5.5L15.3 5.6L15.2 5.8L14.9 5.7L14.8 6L14.9 6L14.8 6.3L14.6 6.2L14.5 6.5L14.4 6.4L14.3 6.7L14.2 6.6L14.1 6.9L14 6.8L13.9 7.1L14 7.1L13.9 7.4L13.9 7.4L13.8 7.6L13.9 7.7L13.8 8L13.9 8L13.7 8.3L13.8 8.3L13.6 8.5L13.7 8.5L13.5 8.8L13.4 8.7L13.2 8.9L13.2 8.9L13.1 9.2L13.1 9.2L13 9.4L13 9.5L12.9 9.7L13 9.8L12.8 10L12.4 9.7L12.2 9.9L12.6 10.2L12.4 10.4L12 10.1L11.9 10.3L11.7 10.2L11.6 10.4L12 10.8L11.8 11L11.5 10.7L11.3 10.9L11.7 11.3L11.5 11.5L11.2 11.2L11 11.4L11 11.4L10.8 11.6L11.1 11.9L10.9 12.1L10.8 12L10.6 12.2L10.2 11.8L10 11.9L10.5 12.5L10.3 12.7L9.9 12.2L9.7 12.4L9.9 12.7L9.7 12.9L10 13.3L9.8 13.4L9.7 13.4L9.5 13.5L9.3 13.3L9.1 13.5L9.3 13.8L9 13.9L8.9 13.8L8.7 13.9L8.5 13.6L8.3 13.7L8.6 14.3L8.3 14.4L8.1 14.1L7.9 14.3L7.8 14.1L7.6 14.2L7.6 14.3L7.3 14.4L7.3 14.2L7 14.4L7.1 14.7L6.9 14.8L6.9 14.8L6.6 14.9L6.5 14.6L6.2 14.7L6.3 14.9L6.1 15L6 14.9L5.8 15L5.9 15.5L5.7 15.6L5.5 15L5.2 15.1L5.3 15.4L5 15.5L4.9 15.1L4.6 15.2L4.6 15.2L4.4 15.3L4.3 15.1L4.1 15.1L4 15L3.8 15.1L3.7 14.9L3.5 15L3.5 15.1L3.2 15.2L3.3 15.7L3.1 15.7L3 15.3L2.7 15.4L2.7 15.6L2.5 15.6L2.4 15.4L2.2 15.5L2.1 15.3L1.9 15.3L1.9 15.6L1.6 15.6L1.7 16.1L1.4 16.1L1.4 15.6L1.1 15.7L1.1 15.6L0.8 15.6L0.8 15.8L0.6 15.8L0.5 15.7L0.3 15.7L0.3 15.6L0 15.7L0 15.8L-0.3 15.8L-0.3 16.2L-0.6 16.2L-0.5 15.6L-0.8 15.6L-0.8 15.5L-1.1 15.5L-0.7 9.8L-0.9 9.8L-0.9 9.8L-1 9.7L-1 9.7L-1.2 9.7L-1.9 15.5L-2.2 15.5L-2.3 16L-2.5 16L-2.5 16L-2.8 16L-2.8 16L-3.1 15.9L-3 15.4L-3.3 15.4L-3.4 15.8L-3.6 15.8L-3.5 15.1L-3.8 15L-3.8 15.4L-4.1 15.3L-4.2 15.5L-4.4 15.5L-4.4 15.4L-4.7 15.3L-4.8 15.7L-5.1 15.6L-5 15.5L-5.3 15.4L-5.2 15.1L-5.5 15.1L-5.6 15.3L-5.8 15.2L-5.8 15.2L-6.1 15.1L-5.9 14.6L-6.1 14.5L-6.2 14.6L-6.5 14.5L-6.5 14.5L-6.7 14.4L-6.9 14.9L-7.2 14.7L-7.2 14.7L-7.4 14.6L-7.2 14.1L-7.5 14L-7.7 14.5L-8 14.4L-7.6 13.7L-7.8 13.6L-8 13.8L-8.2 13.6L-8.2 13.7L-8.5 13.6L-8.6 13.8L-8.9 13.6L-9 13.9L-9.3 13.7L-9.2 13.7L-9.5 13.5L-9.1 13L-9.3 12.8L-9.4 13L-9.6 12.8L-9.9 13.2L-10.1 13L-9.9 12.7L-10.1 12.5L-10.4 12.8L-10.6 12.6L-10.5 12.5L-10.7 12.3L-10.8 12.4L-11 12.2L-11 12.2L-11.2 12L-11.1 11.9L-11.3 11.7L-11.1 11.5L-11.3 11.3L-11.7 11.7L-11.9 11.5L-11.7 11.3L-11.9 11.1L-12 11.2L-12.2 11L-11.8 10.6L-12 10.4L-12.1 10.5L-12.2 10.3L-12.5 10.5L-12.7 10.2L-12.8 10.4L-13 10.1L-12.7 9.9L-12.9 9.7L-13.1 9.9L-13.3 9.7L-12.8 9.3L-13 9.1L-13 9.1L-13.1 8.9L-13.6 9.2L-13.7 8.9L-14 9.1L-14.1 8.8L-13.6 8.5L-13.8 8.3L-13.8 8.3L-13.9 8L-13.9 8.1L-14.1 7.8L-14.3 7.9L-14.4 7.7L-8.7 4.6L-8.7 4.4L-8.7 4.4L-8.8 4.3L-8.8 4.3L-8.9 4.1L-13.9 6.5L-14 6.3L-14.7 6.5L-14.8 6.3L-14.7 6.2L-14.8 6L-15 6.1L-15.1 5.8L-15 5.8L-15.1 5.5L-15.1 5.5L-15.2 5.2L-14.8 5.1L-14.9 4.8L-15.2 4.9L-15.3 4.7L-15.2 4.6L-15.3 4.4L-15.1 4.3L-15.1 4.1L-15.5 4.2L-15.6 3.9L-9.5 2.4L-9.5 2.2L-9.5 2.2L-9.6 2L-15.9 3.4L-16 3.1L-16.1 3.1L-16.1 2.8L-16.2 2.8L-16.2 2.6L-15.9 2.5L-16 2.2L-16.2 2.3L-16.3 2L-16 2L-16.1 1.7L-16 1.7L-16 1.4L-16.4 1.4L-16.4 1.1L-16.2 1.1L-16.2 0.8L-16.2 0.8L-16.2 0.6L-9.8 0.3L-9.8 0.2L-9.8 0.2L-9.8 0L-9.8 0L-9.8 -0.2L-16.3 -0.3L-16.3 -0.6L-16.2 -0.6L-16.2 -0.9L-16.3 -0.9L-16.3 -1.1L-16.5 -1.2L-16.5 -1.4L-16.3 -1.4L-16.3 -1.7L-16.5 -1.7L-16.4 -2L-16.3 -2L-16.2 -2.3L-16.4 -2.3L-16.3 -2.6L-15.9 -2.5L-15.9 -2.8L-15.6 -2.7L-15.5 -3L-15.8 -3.1L-15.7 -3.3L-16 -3.4L-15.9 -3.7L-15.9 -3.7L-15.8 -3.9L-9.5 -2.4L-9.5 -2.5L-9.5 -2.5L-9.4 -2.7L-15.2 -4.4L-15.1 -4.6L-14.9 -4.6L-14.9 -4.8L-15.2 -4.9L-15.1 -5.2L-15.1 -5.2L-15 -5.5L-15.4 -5.6L-15.3 -5.9L-15.3 -5.9L-15.2 -6.1L-15.2 -6.1L-15.1 -6.4L-15 -6.4L-14.9 -6.6L-14.5 -6.5L-14.4 -6.7L-14.6 -6.8L-14.5 -7.1L-14.8 -7.2L-14.6 -7.5L-14.7 -7.5L-14.5 -7.7L-14.7 -7.8L-14.6 -8.1L-14.2 -7.9L-14.1 -8.1L-13.8 -8L-13.7 -8.2L-13.7 -8.3L-13.6 -8.5L-13.6 -8.5L-13.4 -8.7L-13 -8.4L-12.8 -8.7L-13.4 -9L-13.2 -9.2L-13.1 -9.2L-12.9 -9.4L-12.9 -9.4L-12.7 -9.6L-12.4 -9.3L-12.2 -9.5L-12.7 -9.9L-12.6 -10.2L-12.6 -10.2L-12.4 -10.4L-12.1 -10.2L-12 -10.4L-12.2 -10.6L-12 -10.8L-11.7 -10.6L-11.6 -10.8L-11.5 -10.7L-11.3 -10.9L-11.7 -11.3L-11.5 -11.5L-11.5 -11.5L-11.3 -11.7L-11.3 -11.7L-11.1 -11.9L-10.8 -11.6L-10.6 -11.8L-10.7 -11.9L-10.5 -12.1L-10.4 -12L-10.2 -12.2L-10.3 -12.2L-10.1 -12.4L-10 -12.3L-9.8 -12.5L-10.1 -12.9L-9.8 -13L-5.9 -7.8L-5.8 -7.9L-5.8 -7.9L-5.6 -8L-9.5 -13.5L-9.2 -13.7L-9 -13.3L-8.8 -13.5L-9.1 -14L-8.9 -14.2L-8.7 -14L-8.5 -14.1L-5 -8.4L-4.9 -8.5L-4.9 -8.5L-4.8 -8.6L-7.6 -13.7L-7.4 -13.8L-7.5 -14.1L-7.3 -14.3L-7.2 -14.2L-7 -14.3L-6.7 -13.8L-6.5 -13.9L-6.9 -14.8L-6.6 -14.9L-6.4 -14.5L-6.2 -14.6L-6.3 -14.9L-6.1 -15L-6.2 -15.3L-5.9 -15.4L-5.7 -14.9L-5.5 -15L-5.6 -15.3L-5.3 -15.4L-5.2 -15.2L-5 -15.3L-4.9 -15.1L-4.6 -15.2L-4.8 -15.8L-4.6 -15.9L-4.5 -15.7L-4.2 -15.8L-4.1 -15.5L-3.9 -15.5L-3.9 -15.5L-3.6 -15.5L-3.6 -15.7L-3.3 -15.7L-3.4 -16L-3.1 -16.1L-3.2 -16.2L-2.9 -16.3L-2.8 -16L-2.5 -16L-2.5 -15.6L-2.2 -15.6L-2.2 -15.6L-1.9 -15.7L-1.2 -9.7L-1 -9.7L-1 -9.7L-0.9 -9.8L-0.9 -9.8L-0.7 -9.8L-0.7 -9.8L-0.5 -9.8L-0.5 -9.8L-0.3 -9.8L-0.3 -9.8L-0.2 -9.8L-0.2 -9.8L0 -9.8ZM-0.3 -9.8L-0.7 -9.8L-1 -9.7L-1.4 -9.7L-1.7 -9.7L-2 -9.6L-2.4 -9.5L-2.7 -9.4L-3 -9.3L-3.4 -9.2L-3.7 -9.1L-4 -9L-4.3 -8.8L-4.6 -8.7L-4.9 -8.5L-5.2 -8.3L-5.5 -8.1L-5.8 -7.9L-6 -7.7L-6.3 -7.5L-6.6 -7.3L-6.8 -7L-7 -6.8L-7.3 -6.6L-7.5 -6.3L-7.7 -6L-7.9 -5.8L-8.1 -5.5L-8.3 -5.2L-8.5 -4.9L-8.7 -4.6L-8.8 -4.3L-9 -4L-9.1 -3.7L-9.2 -3.4L-9.3 -3L-9.4 -2.7L-9.5 -2.4L-9.6 -2L-9.7 -1.7L-9.7 -1.4L-9.7 -1L-9.8 -0.7L-9.8 -0.3L-9.8 0L-9.8 0.3L-9.8 0.7L-9.7 1L-9.7 1.4L-9.7 1.7L-9.6 2L-9.5 2.4L-9.4 2.7L-9.3 3L-9.2 3.4L-9.1 3.7L-9 4L-8.8 4.3L-8.7 4.6L-8.5 4.9L-8.3 5.2L-8.1 5.5L-7.9 5.8L-7.7 6L-7.5 6.3L-7.3 6.6L-7 6.8L-6.8 7L-6.6 7.3L-6.3 7.5L-6 7.7L-5.8 7.9L-5.5 8.1L-5.2 8.3L-4.9 8.5L-4.6 8.7L-4.3 8.8L-4 9L-3.7 9.1L-3.4 9.2L-3 9.3L-2.7 9.4L-2.4 9.5L-2 9.6L-1.7 9.7L-1.4 9.7L-1 9.7L-0.7 9.8L-0.3 9.8L0 9.8L0.3 9.8L0.7 9.8L1 9.7L1.4 9.7L1.7 9.7L2 9.6L2.4 9.5L2.7 9.4L3 9.3L3.4 9.2L3.7 9.1L4 9L4.3 8.8L4.6 8.7L4.9 8.5L5.2 8.3L5.5 8.1L5.8 7.9L6 7.7L6.3 7.5L6.6 7.3L6.8 7L7 6.8L7.3 6.6L7.5 6.3L7.7 6L7.9 5.8L8.1 5.5L8.3 5.2L8.5 4.9L8.7 4.6L8.8 4.3L9 4L9.1 3.7L9.2 3.4L9.3 3L9.4 2.7L9.5 2.4L9.6 2L9.7 1.7L9.7 1.4L9.7 1L9.8 0.7L9.8 0.3L9.8 0L9.8 -0.3L9.8 -0.7L9.7 -1L9.7 -1.4L9.7 -1.7L9.6 -2L9.5 -2.4L9.4 -2.7L9.3 -3L9.2 -3.4L9.1 -3.7L9 -4L8.8 -4.3L8.7 -4.6L8.5 -4.9L8.3 -5.2L8.1 -5.5L7.9 -5.8L7.7 -6L7.5 -6.3L7.3 -6.6L7 -6.8L6.8 -7L6.6 -7.3L6.3 -7.5L6 -7.7L5.8 -7.9L5.5 -8.1L5.2 -8.3L4.9 -8.5L4.6 -8.7L4.3 -8.8L4 -9L3.7 -9.1L3.4 -9.2L3 -9.3L2.7 -9.4L2.4 -9.5L2 -9.6L1.7 -9.7L1.4 -9.7L1 -9.7L0.7 -9.8L0.3 -9.8L0 -9.8Z" fill="#1c4d94" fill-rule="evenodd"/>
<path d="M0 -20.2L0.4 -20.1L0.4 -20.4L0.7 -20.4L0.7 -20L1 -19.9L1.1 -20.8L1.5 -20.8L1.5 -20.8L1.8 -20.8L1.8 -20.6L2.2 -20.6L2.2 -21L2.6 -20.9L2.5 -20.7L2.9 -20.6L2.8 -19.6L3.1 -19.6L3.1 -19.8L3.5 -19.7L3.5 -20.1L3.9 -20L3.8 -19.8L4.2 -19.7L4.2 -19.8L4.6 -19.8L4.6 -19.9L4.9 -19.8L3.8 -15.1L4 -15.1L4 -15.1L4.3 -15L4.3 -15L4.6 -14.9L6 -19.7L6.4 -19.6L6 -18.4L6.3 -18.3L6.9 -20L7.2 -19.9L6.8 -18.6L7.1 -18.5L7.3 -18.9L7.6 -18.8L7.3 -18L7.6 -17.9L8 -18.9L8.3 -18.7L8.4 -18.9L8.8 -18.8L8.5 -18.2L8.8 -18L9.3 -19L9.6 -18.8L9 -17.6L9.3 -17.5L9.9 -18.7L10.2 -18.5L9.9 -17.9L10.3 -17.8L9.7 -16.8L10 -16.6L9.9 -16.5L10.2 -16.3L10.2 -16.3L10.4 -16.1L11 -16.9L11.3 -16.7L11 -16.3L11.3 -16.1L11.9 -17L12.2 -16.8L11.3 -15.6L11.6 -15.4L12.4 -16.4L12.6 -16.2L12.2 -15.6L12.5 -15.4L11.9 -14.8L12.2 -14.5L13.1 -15.7L13.4 -15.4L13.3 -15.3L13.5 -15L13.1 -14.5L13.3 -14.3L13.5 -14.5L13.8 -14.3L13.5 -14L13.7 -13.7L13.7 -13.7L13.9 -13.4L14.5 -14L14.8 -13.8L14.7 -13.7L15 -13.5L14.5 -13.1L14.7 -12.8L14.9 -12.9L15.1 -12.7L15.9 -13.4L16.2 -13.1L15.4 -12.5L15.6 -12.2L15.8 -12.3L16 -12.1L15.5 -11.7L15.7 -11.4L15.4 -11.2L15.6 -10.9L16.6 -11.6L16.8 -11.3L16.2 -11L16.4 -10.7L17.2 -11.1L17.4 -10.8L16.6 -10.4L16.8 -10.1L17 -10.2L17.2 -9.9L17.6 -10.2L17.8 -9.9L17.8 -9.9L18 -9.6L17.5 -9.3L17.7 -9L18.2 -9.3L18.4 -9L18.1 -8.8L18.3 -8.5L18.6 -8.7L18.8 -8.4L18.7 -8.3L18.9 -8L18.9 -8L19.1 -7.7L18.2 -7.4L18.4 -7L18 -6.9L18.1 -6.6L17.8 -6.5L17.9 -6.2L18.7 -6.4L18.8 -6.1L19 -6.2L19.1 -5.8L18.8 -5.7L18.9 -5.4L18.7 -5.4L18.8 -5L19.3 -5.2L19.4 -4.8L19.2 -4.8L19.2 -4.4L18.6 -4.3L18.7 -4L20.1 -4.3L20.2 -3.9L19.7 -3.8L19.8 -3.5L19.2 -3.4L19.2 -3L19.5 -3.1L19.6 -2.8L20 -2.8L20.1 -2.5L19.1 -2.3L19.2 -2L20 -2.1L20 -1.8L20.4 -1.8L20.4 -1.4L19.4 -1.4L19.4 -1L20.1 -1.1L20.1 -0.7L20.7 -0.7L20.7 -0.4L20.4 -0.4L20.4 0L20 0L20 0.3L19 0.3L19 0.7L20.7 0.7L20.7 1.1L20.8 1.1L20.7 1.5L20.5 1.4L20.4 1.8L19.5 1.7L19.5 2L20.1 2.1L20.1 2.5L20.4 2.5L20.3 2.9L19.9 2.8L19.9 3.1L20.5 3.3L20.5 3.6L19.9 3.5L19.9 3.9L18.6 3.6L18.5 3.9L19.3 4.1L19.2 4.4L21.4 4.9L21.3 5.3L21.3 5.3L21.2 5.7L21.1 5.7L21 6L19.9 5.7L19.8 6L19.9 6.1L19.8 6.4L20.4 6.6L20.2 7L19.1 6.6L19 6.9L20.5 7.5L20.4 7.8L19.8 7.6L19.7 7.9L20 8.1L19.9 8.4L19.7 8.4L19.6 8.7L19.2 8.5L19 8.9L19.8 9.2L19.6 9.6L18.7 9.1L18.5 9.4L18.9 9.6L18.8 10L18.6 9.9L18.5 10.2L18.9 10.5L18.7 10.8L18.7 10.8L18.5 11.1L18.1 10.9L17.9 11.2L17.8 11.1L17.6 11.4L17.4 11.3L17.2 11.6L16.1 10.9L15.9 11.1L16.6 11.6L16.4 11.9L15.6 11.3L15.4 11.6L16.1 12.1L15.9 12.4L16.6 13L16.4 13.3L16 13L15.8 13.3L15.5 13L15.3 13.3L15.9 13.8L15.6 14.1L15.7 14.1L15.4 14.4L15.2 14.2L15 14.5L14.4 13.9L14.2 14.2L14.8 14.8L14.6 15.1L14.5 15L14.2 15.2L14.1 15.1L13.8 15.3L13.6 15.1L13.3 15.3L13.1 15.1L12.8 15.3L12.9 15.3L12.6 15.6L12.8 15.9L12.6 16.1L12.6 16.1L12.3 16.3L12.4 16.5L12.1 16.7L12.4 17.1L12.1 17.3L11.6 16.6L11.3 16.8L11.2 16.5L10.9 16.7L10.9 16.8L10.6 17L11.1 17.7L10.8 17.9L10.1 16.9L9.8 17L10.2 17.6L9.9 17.8L9.7 17.5L9.4 17.7L9.2 17.4L8.9 17.5L9.7 19L9.4 19.2L9 18.4L8.6 18.5L9 19.3L8.7 19.5L8.4 18.9L8.1 19L8.4 19.7L8 19.8L7.5 18.5L7.2 18.7L7.3 19.1L7 19.2L6.9 19L6.6 19.1L6.9 19.9L6.5 20L6.2 19.2L5.9 19.3L6.1 19.9L5.7 20L5.5 19.3L5.2 19.4L5.1 19.1L4.8 19.2L5.1 20.6L4.8 20.7L4.7 20.6L4.4 20.6L4.4 20.7L4 20.7L4.1 21L3.7 21.1L3.7 20.9L3.3 21L3.1 19.6L2.8 19.6L2.8 20.1L2.5 20.1L2.5 20.4L2.1 20.4L2.2 21.2L1.9 21.3L1.7 19.6L1.4 19.6L1.5 21L1.1 21L1 19.8L0.7 19.8L0.7 20.1L0.4 20.1L0.4 20.5L0 20.5L0 20.9L-0.4 20.9L-0.4 21.6L-0.8 21.6L-0.8 21.5L-1.1 21.5L-1.1 20.6L-1.4 20.6L-1.1 15.6L-1.4 15.5L-1.4 15.5L-1.6 15.5L-1.6 15.5L-1.9 15.5L-2.6 20.8L-2.9 20.7L-2.9 20.5L-3.2 20.4L-3.4 21.3L-3.7 21.2L-3.5 19.6L-3.8 19.6L-4.1 21.2L-4.5 21.1L-4.3 20.1L-4.6 20.1L-4.8 20.9L-5.2 20.8L-4.8 19.3L-5.1 19.2L-5.5 20.4L-5.8 20.3L-5.8 20.2L-6.2 20.1L-6 19.8L-6.4 19.7L-6.5 20L-6.9 19.9L-6.8 19.9L-7.2 19.7L-7.2 19.8L-7.6 19.7L-7.5 19.5L-7.8 19.3L-8 19.7L-8.3 19.6L-8.1 19L-8.4 18.9L-8.5 19.1L-8.8 18.9L-8.7 18.6L-9 18.4L-9.3 19.1L-9.7 18.9L-8.8 17.4L-9.2 17.2L-9.8 18.5L-10.1 18.3L-9.7 17.6L-10 17.4L-10.4 18L-10.7 17.8L-10.2 17L-10.5 16.8L-10.7 17.1L-11 16.9L-11.3 17.4L-11.6 17.2L-11.3 16.8L-11.6 16.6L-11.8 16.9L-12.1 16.7L-12.1 16.7L-12.4 16.5L-11.8 15.7L-12.1 15.5L-12.7 16.3L-13 16.1L-12.6 15.5L-12.9 15.3L-13 15.5L-13.3 15.3L-13.4 15.4L-13.7 15.2L-13.5 15L-13.8 14.8L-13.6 14.6L-13.9 14.4L-13.7 14.2L-14 14L-14.6 14.6L-14.8 14.3L-15 14.4L-15.2 14.2L-14.9 13.9L-15.1 13.6L-15.7 14.1L-15.9 13.8L-15.2 13.2L-15.5 13L-16.2 13.6L-16.4 13.3L-16 12.9L-16.2 12.7L-16.3 12.7L-16.5 12.4L-16.9 12.7L-17.1 12.4L-16.9 12.3L-17.1 12L-17.1 11.9L-17.3 11.6L-17 11.5L-17.2 11.2L-17.9 11.6L-18.1 11.3L-17.4 10.9L-17.6 10.6L-18.1 10.9L-18.3 10.6L-17.3 10L-17.5 9.7L-18.8 10.4L-19 10.1L-13.8 7.3L-13.9 7.1L-13.9 7.1L-14 6.8L-14 6.8L-14.1 6.6L-17.7 8.2L-17.8 7.9L-18.4 8.2L-18.5 7.9L-19.2 8.1L-19.3 7.8L-19 7.7L-19.1 7.3L-18.3 7L-18.4 6.7L-19.7 7.2L-19.9 6.8L-19.3 6.6L-19.4 6.3L-18.5 6L-18.6 5.7L-19.2 5.9L-19.3 5.5L-18.9 5.4L-18.9 5.1L-20.2 5.4L-20.3 5.1L-15.1 3.8L-15.2 3.5L-15.2 3.5L-15.3 3.2L-20 4.3L-20.1 3.9L-19.7 3.8L-19.7 3.5L-18.7 3.3L-18.8 3L-18.8 3L-18.9 2.7L-19.1 2.7L-19.2 2.4L-20.1 2.5L-20.1 2.1L-20 2.1L-20.1 1.8L-19.6 1.7L-19.6 1.4L-19.6 1.4L-19.6 1L-19.1 1L-19.1 0.7L-15.6 0.5L-15.6 0.3L-15.6 0.3L-15.6 0L-15.6 0L-15.6 -0.3L-21.4 -0.4L-21.3 -0.7L-21.6 -0.8L-21.6 -1.1L-21.2 -1.1L-21.2 -1.5L-20.4 -1.4L-20.3 -1.8L-20.1 -1.8L-20.1 -2.1L-21.7 -2.3L-21.7 -2.7L-21.7 -2.7L-21.7 -3L-21.9 -3.1L-21.8 -3.5L-20.8 -3.3L-20.7 -3.6L-21.3 -3.8L-21.2 -4.1L-21.2 -4.1L-21.2 -4.5L-21 -4.5L-21 -4.8L-21.2 -4.9L-21.1 -5.3L-15.1 -3.8L-15.1 -4L-15.1 -4L-15 -4.3L-20.8 -6L-20.7 -6.3L-20.2 -6.2L-20.1 -6.5L-20.7 -6.7L-20.6 -7.1L-20.7 -7.1L-20.6 -7.5L-20.6 -7.5L-20.5 -7.9L-19.5 -7.5L-19.4 -7.8L-19.6 -7.9L-19.5 -8.3L-18.2 -7.7L-18 -8L-18 -8L-17.8 -8.3L-18.5 -8.6L-18.3 -8.9L-18.7 -9.1L-18.6 -9.5L-18.7 -9.5L-18.5 -9.8L-18.6 -9.9L-18.4 -10.2L-17.3 -9.6L-17.1 -9.9L-18.4 -10.6L-18.2 -10.9L-18 -10.8L-17.8 -11.1L-17.2 -10.8L-17 -11L-17.5 -11.4L-17.3 -11.7L-17.7 -11.9L-17.5 -12.2L-16.6 -11.6L-16.4 -11.9L-17.4 -12.6L-17.2 -13L-16.2 -12.2L-16 -12.5L-15.8 -12.4L-15.6 -12.6L-16.2 -13.1L-16 -13.4L-16.5 -13.8L-16.2 -14.1L-16.2 -14.1L-16 -14.4L-16.1 -14.5L-15.8 -14.7L-15 -14L-14.7 -14.2L-14.8 -14.3L-14.5 -14.5L-14.5 -14.5L-14.3 -14.8L-13.8 -14.3L-13.5 -14.5L-13.8 -14.8L-13.6 -15.1L-14.1 -15.7L-13.9 -15.9L-13.6 -15.6L-13.3 -15.8L-12.9 -15.4L-12.7 -15.6L-13.3 -16.4L-13 -16.6L-12.6 -16.1L-12.3 -16.4L-9.4 -12.5L-9.2 -12.6L-9.2 -12.6L-8.9 -12.8L-11.6 -16.5L-11.3 -16.7L-10.9 -16.2L-10.6 -16.4L-10.7 -16.5L-10.4 -16.7L-10.5 -16.8L-10.2 -17L-8 -13.4L-7.8 -13.5L-7.8 -13.5L-7.6 -13.6L-9.3 -16.8L-9 -17L-9.7 -18.3L-9.4 -18.4L-9 -17.7L-8.7 -17.9L-8.6 -17.7L-8.3 -17.9L-8.8 -18.8L-8.5 -19L-8.5 -19.1L-8.2 -19.3L-8.2 -19.4L-7.9 -19.5L-7.9 -19.5L-7.5 -19.6L-7.8 -20.3L-7.4 -20.4L-7.1 -19.6L-6.8 -19.7L-6.7 -19.6L-6.4 -19.7L-6.7 -20.7L-6.4 -20.9L-6.3 -20.7L-6 -20.8L-5.6 -19.4L-5.2 -19.5L-5.5 -20.5L-5.1 -20.6L-5.2 -20.7L-4.8 -20.8L-4.6 -20L-4.3 -20L-4.3 -20.4L-4 -20.5L-3.9 -20.2L-3.6 -20.3L-3.5 -20L-3.2 -20.1L-3.3 -20.9L-2.9 -21L-2.8 -20.1L-2.5 -20.1L-1.9 -15.5L-1.6 -15.5L-1.6 -15.5L-1.4 -15.5L-1.4 -15.5L-1.1 -15.6L-1.1 -15.6L-0.8 -15.6L-0.8 -15.6L-0.5 -15.6L-0.5 -15.6L-0.3 -15.6L-0.3 -15.6L0 -15.6ZM-0.5 -15.6L-1.1 -15.6L-1.6 -15.5L-2.2 -15.4L-2.7 -15.4L-3.2 -15.3L-3.8 -15.1L-4.3 -15L-4.8 -14.8L-5.3 -14.7L-5.8 -14.5L-6.3 -14.3L-6.8 -14L-7.3 -13.8L-7.8 -13.5L-8.3 -13.2L-8.7 -12.9L-9.2 -12.6L-9.6 -12.3L-10 -12L-10.4 -11.6L-10.8 -11.2L-11.2 -10.8L-11.6 -10.4L-12 -10L-12.3 -9.6L-12.6 -9.2L-12.9 -8.7L-13.2 -8.3L-13.5 -7.8L-13.8 -7.3L-14 -6.8L-14.3 -6.3L-14.5 -5.8L-14.7 -5.3L-14.8 -4.8L-15 -4.3L-15.1 -3.8L-15.3 -3.2L-15.4 -2.7L-15.4 -2.2L-15.5 -1.6L-15.6 -1.1L-15.6 -0.5L-15.6 0L-15.6 0.5L-15.6 1.1L-15.5 1.6L-15.4 2.2L-15.4 2.7L-15.3 3.2L-15.1 3.8L-15 4.3L-14.8 4.8L-14.7 5.3L-14.5 5.8L-14.3 6.3L-14 6.8L-13.8 7.3L-13.5 7.8L-13.2 8.3L-12.9 8.7L-12.6 9.2L-12.3 9.6L-12 10L-11.6 10.4L-11.2 10.8L-10.8 11.2L-10.4 11.6L-10 12L-9.6 12.3L-9.2 12.6L-8.7 12.9L-8.3 13.2L-7.8 13.5L-7.3 13.8L-6.8 14L-6.3 14.3L-5.8 14.5L-5.3 14.7L-4.8 14.8L-4.3 15L-3.8 15.1L-3.2 15.3L-2.7 15.4L-2.2 15.4L-1.6 15.5L-1.1 15.6L-0.5 15.6L0 15.6L0.5 15.6L1.1 15.6L1.6 15.5L2.2 15.4L2.7 15.4L3.2 15.3L3.8 15.1L4.3 15L4.8 14.8L5.3 14.7L5.8 14.5L6.3 14.3L6.8 14L7.3 13.8L7.8 13.5L8.3 13.2L8.7 12.9L9.2 12.6L9.6 12.3L10 12L10.4 11.6L10.8 11.2L11.2 10.8L11.6 10.4L12 10L12.3 9.6L12.6 9.2L12.9 8.7L13.2 8.3L13.5 7.8L13.8 7.3L14 6.8L14.3 6.3L14.5 5.8L14.7 5.3L14.8 4.8L15 4.3L15.1 3.8L15.3 3.2L15.4 2.7L15.4 2.2L15.5 1.6L15.6 1.1L15.6 0.5L15.6 0L15.6 -0.5L15.6 -1.1L15.5 -1.6L15.4 -2.2L15.4 -2.7L15.3 -3.2L15.1 -3.8L15 -4.3L14.8 -4.8L14.7 -5.3L14.5 -5.8L14.3 -6.3L14 -6.8L13.8 -7.3L13.5 -7.8L13.2 -8.3L12.9 -8.7L12.6 -9.2L12.3 -9.6L12 -10L11.6 -10.4L11.2 -10.8L10.8 -11.2L10.4 -11.6L10 -12L9.6 -12.3L9.2 -12.6L8.7 -12.9L8.3 -13.2L7.8 -13.5L7.3 -13.8L6.8 -14L6.3 -14.3L5.8 -14.5L5.3 -14.7L4.8 -14.8L4.3 -15L3.8 -15.1L3.2 -15.3L2.7 -15.4L2.2 -15.4L1.6 -15.5L1.1 -15.6L0.5 -15.6L0 -15.6Z" fill="#d42a55" fill-rule="evenodd"/>
<circle r="25.1" fill="none" stroke="#fff04a" stroke-width="1"/>
<circle r="9.8" fill="#fff"/>
<path d="M0 -49.2L0 -71.5M23.8 -43L34.6 -62.5M41.4 -26.6L60.1 -38.7M48.5 -8.3L70.5 -12.1M48 10.7L69.8 15.5M41 27.2L59.6 39.5M29.3 39.5L42.6 57.4M15.2 46.8L22.1 68M0.9 49.2L1.3 71.5M-13.1 47.4L-19 68.9M-25.5 42.1L-37 61.2M-35.9 33.6L-52.2 48.9M-43.6 22.8L-63.4 33.1M-47.7 12L-69.3 17.5M-49.2 1.4L-71.5 2.1M-48.4 -8.7L-70.4 -12.7M-46 -17.4L-66.9 -25.3M-42.5 -24.7L-61.8 -36M-38.1 -31.1L-55.4 -45.3M-34.1 -35.5L-49.5 -51.6M-29.3 -39.5L-42.6 -57.5M-25.3 -42.2L-36.8 -61.3M-20.8 -44.6L-30.2 -64.8M-5.9 -48.8L-8.6 -71" stroke="#a6dc8c" stroke-width="1.2" fill="none"/>
<path d="M0 -25.6L0 -48.4M12.4 -22.4L23.5 -42.3M21.5 -13.8L40.7 -26.2M25.2 -4.3L47.7 -8.2M25 5.6L47.2 10.5M21.3 14.2L40.3 26.8M15.2 20.6L28.8 38.9M7.9 24.3L15 46M0.5 25.6L0.9 48.4M-6.8 24.7L-12.9 46.7M-13.3 21.9L-25.1 41.4M-18.7 17.5L-35.3 33.1M-22.7 11.8L-42.9 22.4M-24.8 6.3L-46.9 11.8M-25.6 0.8L-48.4 1.4M-25.2 -4.6L-47.6 -8.6M-23.9 -9.1L-45.3 -17.1M-22.1 -12.9L-41.8 -24.3M-19.8 -16.2L-37.5 -30.6M-17.7 -18.5L-33.5 -34.9M-15.2 -20.6L-28.8 -38.9M-13.2 -22L-24.9 -41.5M-10.8 -23.2L-20.4 -43.9M-3.1 -25.4L-5.8 -48" stroke="#fff27a" stroke-width="0.9" fill="none"/>
<path d="M0 -14L0 -24.6M6.8 -12.2L11.9 -21.5M11.8 -7.6L20.7 -13.3M13.8 -2.4L24.2 -4.1M13.7 3L24 5.3M11.7 7.7L20.5 13.6M8.3 11.2L14.6 19.8M4.3 13.3L7.6 23.4M0.2 14L0.4 24.6M-3.7 13.5L-6.5 23.7M-7.2 12L-12.7 21M-10.2 9.6L-18 16.8M-12.4 6.5L-21.8 11.4M-13.6 3.4L-23.9 6M-14 0.4L-24.6 0.7M-13.8 -2.5L-24.2 -4.4M-13.1 -5L-23 -8.7M-12.1 -7L-21.3 -12.4M-10.8 -8.9L-19 -15.6M-9.7 -10.1L-17 -17.7M-8.3 -11.2L-14.6 -19.8M-7.2 -12L-12.6 -21.1M-5.9 -12.7L-10.4 -22.3M-1.7 -13.9L-3 -24.4" stroke="#e8d0f0" stroke-width="0.5" fill="none" opacity="0.7"/>
<path d="M6.4 -24.8L11.3 -43.6M16.4 -19.7L28.8 -34.6M23.7 -9.7L41.7 -17M25.5 -1.7L44.9 -3.1M24.3 8L42.8 14M19.5 16.6L34.3 29.2M12.7 22.2L22.3 39.1M5.7 25L10 43.9M-2.1 25.5L-3.7 44.8M-8.8 24L-15.4 42.3M-15.5 20.4L-27.3 35.8M-19.9 16.1L-34.9 28.4M-23.1 11.1L-40.6 19.4M-25 5.4L-44 9.5M-25.6 -0.2L-45 -0.4M-24.8 -6.4L-43.6 -11.2M-23.5 -10.2L-41.3 -18M-21.7 -13.6L-38.1 -24M-18.9 -17.2L-33.3 -30.3M-16.7 -19.4L-29.3 -34.2M-14.7 -21L-25.8 -36.9M-12.5 -22.3L-22 -39.2M-7.9 -24.3L-13.9 -42.8" stroke="#fff27a" stroke-width="0.8" fill="none"/>
<path d="M0 -10.5L0 -23.5M1.6 -10.4L3.6 -23.2M3.3 -10L7.3 -22.3M4.9 -9.3L11 -20.8M6.6 -8.2L14.7 -18.4M7.8 -7L17.5 -15.7M9 -5.5L20.1 -12.2M9.4 -4.6L21.1 -10.4M10 -3.3L22.3 -7.4M10.4 -1.4L23.3 -3.2M10.5 0.2L23.5 0.5M10.3 2.1L23 4.7M10 3.1L22.4 6.9M9.5 4.4L21.3 9.9M9 5.5L20 12.3M8.1 6.7L18.1 15M7 7.8L15.7 17.5M6.3 8.4L14.1 18.8M5.3 9.1L11.9 20.3M4.2 9.6L9.5 21.5M2.4 10.2L5.4 22.9M0.7 10.5L1.5 23.5M-0.4 10.5L-0.9 23.5M-2.2 10.3L-4.9 23M-3.2 10L-7.2 22.4M-4.7 9.4L-10.5 21M-5.6 8.9L-12.6 19.8M-6.4 8.3L-14.3 18.7M-7.8 7.1L-17.4 15.8M-8.5 6.2L-19 13.9M-9.1 5.2L-20.4 11.7M-9.9 3.4L-22.2 7.6M-10.4 1.6L-23.2 3.6M-10.5 0.4L-23.5 0.8M-10.4 -1.6L-23.2 -3.6M-10 -3.1L-22.5 -6.9M-9.4 -4.6L-21.1 -10.3M-8.9 -5.6L-19.9 -12.6M-7.7 -7.2L-17.2 -16M-6.4 -8.3L-14.4 -18.5M-4.8 -9.3L-10.7 -20.9M-3 -10.1L-6.8 -22.5M-1.8 -10.3L-4 -23.1M-0.5 -10.5L-1.1 -23.5" stroke="#b890d0" stroke-width="0.5" fill="none" opacity="0.6"/>
</g>
<text x="89.4" y="40" font-size="6.3" text-anchor="middle">Y</text>
<text x="73.1" y="42.9" font-size="6.3" text-anchor="middle">X</text>
<text x="112" y="41.5" font-size="6.3" text-anchor="middle">1</text>
<text x="145" y="60.1" font-size="6.3" text-anchor="middle">2</text>
<text x="164" y="88.1" font-size="6.3" text-anchor="middle">3</text>
<text x="169.5" y="117.3" font-size="6.3" text-anchor="middle">4</text>
<text x="165" y="144.1" font-size="6.3" text-anchor="middle">5</text>
<text x="150" y="167.1" font-size="6.3" text-anchor="middle">6</text>
<text x="129" y="184.6" font-size="6.3" text-anchor="middle">7</text>
<text x="106.3" y="192.1" font-size="6.3" text-anchor="middle">8</text>
<text x="84" y="192.1" font-size="6.3" text-anchor="middle">9</text>
<text x="63.8" y="186.1" font-size="6.3" text-anchor="middle">10</text>
<text x="46.3" y="175.1" font-size="6.3" text-anchor="middle">11</text>
<text x="31" y="159.1" font-size="6.3" text-anchor="middle">12</text>
<text x="23" y="143.1" font-size="6.3" text-anchor="middle">13</text>
<text x="19" y="128.1" font-size="6.3" text-anchor="middle">14</text>
<text x="18.9" y="114.3" font-size="6.3" text-anchor="middle">15</text>
<text x="21" y="100.1" font-size="6.3" text-anchor="middle">16</text>
<text x="25" y="86.1" font-size="6.3" text-anchor="middle">17</text>
<text x="31.5" y="74.7" font-size="6.3" text-anchor="middle">18</text>
<text x="38" y="65.3" font-size="6.3" text-anchor="middle">19</text>
<text x="45" y="58.1" font-size="6.3" text-anchor="middle">20</text>
<text x="52" y="52.6" font-size="6.3" text-anchor="middle">21</text>
<text x="60" y="48.6" font-size="6.3" text-anchor="middle">22</text>
<text x="7" y="16.6" font-size="12" font-weight="bold" class="b" fill="#000">A</text>
<text x="94.2" y="16.6" font-size="8.2" text-anchor="middle" textLength="35.5" lengthAdjust="spacingAndGlyphs">MOLM13</text>
<text x="94.7" y="26.6" font-size="8.2" text-anchor="middle" textLength="97" lengthAdjust="spacingAndGlyphs">100 nM FHD-286/Control</text>
<text x="24.3" y="208.6" font-size="6.7" textLength="73.3" lengthAdjust="spacingAndGlyphs"># of concordant genes up</text>
<text x="24.3" y="218" font-size="6.7" textLength="82.2" lengthAdjust="spacingAndGlyphs"># of concordant genes down</text>
<text x="121" y="208.6" font-size="6.7" textLength="15.6" lengthAdjust="spacingAndGlyphs">1887</text>
<text x="121" y="218" font-size="6.7" textLength="15.6" lengthAdjust="spacingAndGlyphs">2289</text>
<rect x="30.4" y="237.5" width="4" height="4" fill="#5fb04a"/>
<text x="37.9" y="241.6" font-size="6.6" textLength="26.9" lengthAdjust="spacingAndGlyphs">RNA-Seq</text>
<rect x="30.4" y="246.8" width="4" height="4" fill="#f2ec2c"/>
<text x="37.9" y="250.9" font-size="6.6" textLength="29.6" lengthAdjust="spacingAndGlyphs">ATAC-Seq</text>
<rect x="30.4" y="256.2" width="4" height="4" fill="#b689c0"/>
<text x="37.9" y="260.3" font-size="6.6" textLength="53.1" lengthAdjust="spacingAndGlyphs">Concordant genes</text>
<text x="105.8" y="241.6" font-size="6.6" textLength="49.8" lengthAdjust="spacingAndGlyphs">Log2FC −2 to +2</text>
<rect x="106.4" y="246.8" width="4" height="4" fill="#c0143c"/>
<text x="113.9" y="250.9" font-size="6.6" textLength="36.3" lengthAdjust="spacingAndGlyphs">Upregulated</text>
<rect x="106.4" y="256.2" width="4" height="4" fill="#1c3f78"/>
<text x="113.9" y="260.3" font-size="6.6" textLength="44.4" lengthAdjust="spacingAndGlyphs">Downregulated</text>
<text x="186.5" y="16.7" font-size="12" font-weight="bold" class="b" fill="#000">B</text>
<text x="261.8" y="16.6" font-size="8.2" text-anchor="middle" textLength="35.4" lengthAdjust="spacingAndGlyphs">MOLM13</text>
<text x="261.6" y="26.2" font-size="8.2" text-anchor="middle" textLength="96.2" lengthAdjust="spacingAndGlyphs">100 nM FHD-286/Control</text>
<text x="216.5" y="41.6" font-size="6.2" text-anchor="end">TNFRSF4</text>
<rect x="267.8" y="37.8" width="23.7" height="3.2" fill="#5bab2e"/>
<rect x="267.8" y="37.8" width="1.5" height="3.2" fill="#f3ea21"/>
<text x="216.5" y="47.7" font-size="6.2" text-anchor="end">XBP1</text>
<rect x="267.8" y="43.9" width="11.9" height="3.2" fill="#5bab2e"/>
<rect x="267.8" y="43.9" width="4" height="3.2" fill="#f3ea21"/>
<text x="216.5" y="53.8" font-size="6.2" text-anchor="end">GATA2</text>
<rect x="267.8" y="50" width="9.7" height="3.2" fill="#5bab2e"/>
<rect x="267.8" y="50" width="1.8" height="3.2" fill="#f3ea21"/>
<text x="216.5" y="60" font-size="6.2" text-anchor="end">HEXIM1</text>
<rect x="267.8" y="56.2" width="7" height="3.2" fill="#5bab2e"/>
<rect x="267.8" y="56.2" width="1.8" height="3.2" fill="#f3ea21"/>
<text x="216.5" y="66.1" font-size="6.2" text-anchor="end">FBXO32</text>
<rect x="267.8" y="62.3" width="7" height="3.2" fill="#5bab2e"/>
<rect x="267.8" y="62.3" width="1.8" height="3.2" fill="#f3ea21"/>
<text x="216.5" y="72.2" font-size="6.2" text-anchor="end">MCL1</text>
<rect x="267.8" y="68.4" width="4.9" height="3.2" fill="#5bab2e"/>
<rect x="267.8" y="68.4" width="0.9" height="3.2" fill="#f3ea21"/>
<text x="216.5" y="78.3" font-size="6.2" text-anchor="end">PUMA</text>
<rect x="267.8" y="74.5" width="4.6" height="3.2" fill="#5bab2e"/>
<rect x="267.8" y="74.5" width="0.9" height="3.2" fill="#f3ea21"/>
<text x="216.5" y="84.4" font-size="6.2" text-anchor="end">VIM</text>
<rect x="267.8" y="80.6" width="4.3" height="3.2" fill="#5bab2e"/>
<rect x="267.8" y="80.6" width="0.9" height="3.2" fill="#f3ea21"/>
<text x="216.5" y="90.6" font-size="6.2" text-anchor="end">BCL2L1</text>
<rect x="267.8" y="86.8" width="3.3" height="3.2" fill="#5bab2e"/>
<rect x="267.8" y="86.8" width="0.9" height="3.2" fill="#f3ea21"/>
<text x="216.5" y="96.7" font-size="6.2" text-anchor="end">BRD2</text>
<rect x="267.8" y="92.9" width="2.4" height="3.2" fill="#5bab2e"/>
<rect x="267.8" y="92.9" width="0.9" height="3.2" fill="#f3ea21"/>
<text x="216.5" y="102.8" font-size="6.2" text-anchor="end">KAT5</text>
<rect x="267.8" y="99" width="2.1" height="3.2" fill="#5bab2e"/>
<rect x="267.8" y="99" width="0.9" height="3.2" fill="#f3ea21"/>
<text x="216.5" y="108.9" font-size="6.2" text-anchor="end">RING1</text>
<rect x="267.8" y="105.1" width="1.8" height="3.2" fill="#5bab2e"/>
<rect x="267.8" y="105.1" width="1.8" height="3.2" fill="#f3ea21"/>
<text x="216.5" y="115" font-size="6.2" text-anchor="end">JARID2</text>
<rect x="261.7" y="111.2" width="6.1" height="3.2" fill="#5bab2e"/>
<rect x="263.2" y="111.2" width="4.6" height="3.2" fill="#f3ea21"/>
<text x="216.5" y="121.2" font-size="6.2" text-anchor="end">CDK6</text>
<rect x="262" y="117.4" width="5.8" height="3.2" fill="#5bab2e"/>
<rect x="263.5" y="117.4" width="4.3" height="3.2" fill="#f3ea21"/>
<text x="216.5" y="127.3" font-size="6.2" text-anchor="end">EZH2</text>
<rect x="262.6" y="123.5" width="5.2" height="3.2" fill="#5bab2e"/>
<rect x="264.2" y="123.5" width="3.6" height="3.2" fill="#f3ea21"/>
<text x="216.5" y="133.4" font-size="6.2" text-anchor="end">RXRA</text>
<rect x="262.3" y="129.6" width="5.5" height="3.2" fill="#5bab2e"/>
<rect x="263.8" y="129.6" width="4" height="3.2" fill="#f3ea21"/>
<text x="216.5" y="139.5" font-size="6.2" text-anchor="end">LAMP5</text>
<rect x="261.7" y="135.7" width="6.1" height="3.2" fill="#5bab2e"/>
<rect x="263.8" y="135.7" width="4" height="3.2" fill="#f3ea21"/>
<text x="216.5" y="145.6" font-size="6.2" text-anchor="end">DPYSL3</text>
<rect x="260.8" y="141.8" width="7" height="3.2" fill="#5bab2e"/>
<rect x="263.8" y="141.8" width="4" height="3.2" fill="#f3ea21"/>
<text x="216.5" y="151.8" font-size="6.2" text-anchor="end">RARA</text>
<rect x="262" y="148" width="5.8" height="3.2" fill="#5bab2e"/>
<rect x="263.8" y="148" width="4" height="3.2" fill="#f3ea21"/>
<text x="216.5" y="157.9" font-size="6.2" text-anchor="end">CDK4</text>
<rect x="264.2" y="154.1" width="3.6" height="3.2" fill="#5bab2e"/>
<rect x="266.6" y="154.1" width="1.2" height="3.2" fill="#f3ea21"/>
<text x="216.5" y="164" font-size="6.2" text-anchor="end">BAZ2B</text>
<rect x="260.5" y="160.2" width="7.3" height="3.2" fill="#5bab2e"/>
<rect x="264.2" y="160.2" width="3.6" height="3.2" fill="#f3ea21"/>
<text x="216.5" y="170.1" font-size="6.2" text-anchor="end">CD244</text>
<rect x="261.1" y="166.3" width="6.7" height="3.2" fill="#5bab2e"/>
<rect x="265.1" y="166.3" width="2.7" height="3.2" fill="#f3ea21"/>
<text x="216.5" y="176.2" font-size="6.2" text-anchor="end">FOXA1</text>
<rect x="259.9" y="172.4" width="7.9" height="3.2" fill="#5bab2e"/>
<rect x="264.2" y="172.4" width="3.6" height="3.2" fill="#f3ea21"/>
<text x="216.5" y="182.4" font-size="6.2" text-anchor="end">MEF2D</text>
<rect x="258.4" y="178.6" width="9.4" height="3.2" fill="#5bab2e"/>
<rect x="263.2" y="178.6" width="4.6" height="3.2" fill="#f3ea21"/>
<text x="216.5" y="188.5" font-size="6.2" text-anchor="end">PRDM1</text>
<rect x="254.1" y="184.7" width="13.7" height="3.2" fill="#5bab2e"/>
<rect x="262.9" y="184.7" width="4.9" height="3.2" fill="#f3ea21"/>
<text x="216.5" y="194.6" font-size="6.2" text-anchor="end">IL7R</text>
<rect x="249.9" y="190.8" width="17.9" height="3.2" fill="#5bab2e"/>
<rect x="263.8" y="190.8" width="4" height="3.2" fill="#f3ea21"/>
<text x="216.5" y="200.7" font-size="6.2" text-anchor="end">CSF1R</text>
<rect x="243.2" y="196.9" width="24.6" height="3.2" fill="#5bab2e"/>
<rect x="262.9" y="196.9" width="4.9" height="3.2" fill="#f3ea21"/>
<text x="216.5" y="206.8" font-size="6.2" text-anchor="end">TIFAB</text>
<rect x="240.7" y="203" width="27.1" height="3.2" fill="#5bab2e"/>
<rect x="262.9" y="203" width="4.9" height="3.2" fill="#f3ea21"/>
<text x="216.5" y="213" font-size="6.2" text-anchor="end">IL2RA</text>
<rect x="241.7" y="209.2" width="26.1" height="3.2" fill="#5bab2e"/>
<rect x="263.8" y="209.2" width="4" height="3.2" fill="#f3ea21"/>
<text x="216.5" y="219.1" font-size="6.2" text-anchor="end">CD180</text>
<rect x="239.2" y="215.3" width="28.6" height="3.2" fill="#5bab2e"/>
<rect x="263.8" y="215.3" width="4" height="3.2" fill="#f3ea21"/>
<path d="M219.3 39.4H222.5M219.3 45.5H222.5M219.3 51.6H222.5M219.3 57.8H222.5M219.3 63.9H222.5M219.3 70H222.5M219.3 76.1H222.5M219.3 82.2H222.5M219.3 88.4H222.5M219.3 94.5H222.5M219.3 100.6H222.5M219.3 106.7H222.5M219.3 112.8H222.5M219.3 119H222.5M219.3 125.1H222.5M219.3 131.2H222.5M219.3 137.3H222.5M219.3 143.4H222.5M219.3 149.6H222.5M219.3 155.7H222.5M219.3 161.8H222.5M219.3 167.9H222.5M219.3 174H222.5M219.3 180.2H222.5M219.3 186.3H222.5M219.3 192.4H222.5M219.3 198.5H222.5M219.3 204.6H222.5M219.3 210.8H222.5M219.3 216.9H222.5" stroke="#231f20" stroke-width="0.7" fill="none"/>
<path d="M222.5 34.8V221.5H300.6" stroke="#231f20" stroke-width="0.8" fill="none"/>
<path d="M267.8 35.4V221.5" stroke="#1f2a2a" stroke-width="1" fill="none"/>
<text x="222.2" y="233.3" font-size="6.6" text-anchor="middle">–15</text>
<text x="237.4" y="233.3" font-size="6.6" text-anchor="middle">–10</text>
<text x="252.6" y="233.3" font-size="6.6" text-anchor="middle">–5</text>
<text x="267.8" y="233.3" font-size="6.6" text-anchor="middle">0</text>
<text x="283" y="233.3" font-size="6.6" text-anchor="middle">5</text>
<text x="298.2" y="233.3" font-size="6.6" text-anchor="middle">10</text>
<path d="M222.2 221.5V223.8M237.4 221.5V223.8M252.6 221.5V223.8M267.8 221.5V223.8M283 221.5V223.8M298.2 221.5V223.8" stroke="#231f20" stroke-width="0.7" fill="none"/>
<text x="261.7" y="244" font-size="7.9" text-anchor="middle" textLength="50.2" lengthAdjust="spacingAndGlyphs">log2 fold-change</text>
<rect x="228" y="42.6" width="4.4" height="4.2" fill="#f5ee2a"/>
<rect x="228" y="52.4" width="4.4" height="4.2" fill="#5bab2e"/>
<text x="235.8" y="46.4" font-size="6.3" textLength="15.7" lengthAdjust="spacingAndGlyphs">ATAC</text>
<text x="235.8" y="56.3" font-size="6.3" textLength="12.9" lengthAdjust="spacingAndGlyphs">RNA</text>
<path d="M299.8 39.4H312" stroke="#ad1d3d" stroke-width="0.9"/>
<path d="M295.8 39.4L300.3 37.4L300.3 41.4Z" fill="#ad1d3d"/>
<path d="M286.5 51.6H298.6" stroke="#ad1d3d" stroke-width="0.9"/>
<path d="M282.5 51.6L287 49.6L287 53.6Z" fill="#ad1d3d"/>
<path d="M286.5 57.8H298.6" stroke="#ad1d3d" stroke-width="0.9"/>
<path d="M282.5 57.8L287 55.8L287 59.8Z" fill="#ad1d3d"/>
<path d="M286.5 63.9H298.6" stroke="#ad1d3d" stroke-width="0.9"/>
<path d="M282.5 63.9L287 61.9L287 65.9Z" fill="#ad1d3d"/>
<path d="M279.4 119H291.8" stroke="#ad1d3d" stroke-width="0.9"/>
<path d="M275.4 119L279.9 117L279.9 121Z" fill="#ad1d3d"/>
<path d="M279.4 131.2H291.8" stroke="#ad1d3d" stroke-width="0.9"/>
<path d="M275.4 131.2L279.9 129.2L279.9 133.2Z" fill="#ad1d3d"/>
<path d="M279.4 149.6H291.8" stroke="#ad1d3d" stroke-width="0.9"/>
<path d="M275.4 149.6L279.9 147.6L279.9 151.6Z" fill="#ad1d3d"/>
<path d="M279.4 180.2H291.8" stroke="#ad1d3d" stroke-width="0.9"/>
<path d="M275.4 180.2L279.9 178.2L279.9 182.2Z" fill="#ad1d3d"/>
<path d="M279.4 186.3H291.8" stroke="#ad1d3d" stroke-width="0.9"/>
<path d="M275.4 186.3L279.9 184.3L279.9 188.3Z" fill="#ad1d3d"/>
<path d="M279.4 198.5H291.8" stroke="#ad1d3d" stroke-width="0.9"/>
<path d="M275.4 198.5L279.9 196.5L279.9 200.5Z" fill="#ad1d3d"/>
<text x="329" y="16.6" font-size="12" font-weight="bold" class="b" fill="#000">C</text>
<text x="464.4" y="55.7" font-size="8.2" text-anchor="middle" textLength="36.9" lengthAdjust="spacingAndGlyphs">MOLM13</text>
<text x="464.7" y="66.3" font-size="8.2" text-anchor="middle" textLength="97.4" lengthAdjust="spacingAndGlyphs">100 nM FHD-286/Control</text>
<text x="464.5" y="75.6" font-size="8.2" text-anchor="middle" textLength="83.6" lengthAdjust="spacingAndGlyphs">HALLMARK pathways</text>
<text x="431.9" y="92.3" font-size="6.5" text-anchor="end" textLength="67.9" lengthAdjust="spacingAndGlyphs">TGF_BETA_SIGNALING</text>
<rect x="462.4" y="87.9" width="13.1" height="4.4" fill="#c8102e"/>
<text x="431.9" y="99.9" font-size="6.5" text-anchor="end" textLength="86.9" lengthAdjust="spacingAndGlyphs">TNFA_SIGNALING_VIA_NFKB</text>
<rect x="462.4" y="95.5" width="11.6" height="4.4" fill="#c8102e"/>
<text x="431.9" y="107.5" font-size="6.5" text-anchor="end" textLength="100.6" lengthAdjust="spacingAndGlyphs">UNFOLDED_PROTEIN_RESPONSE</text>
<rect x="453.4" y="103.1" width="9" height="4.4" fill="#1d4a8a"/>
<text x="431.9" y="115.1" font-size="6.5" text-anchor="end" textLength="97.2" lengthAdjust="spacingAndGlyphs">OXIDATIVE_PHOSPHORYLATION</text>
<rect x="453.4" y="110.7" width="9" height="4.4" fill="#1d4a8a"/>
<text x="431.9" y="122.7" font-size="6.5" text-anchor="end" textLength="81.8" lengthAdjust="spacingAndGlyphs">IL6_JAK_STAT3_SIGNALING</text>
<rect x="453.4" y="118.3" width="9" height="4.4" fill="#1d4a8a"/>
<text x="431.9" y="130.3" font-size="6.5" text-anchor="end" textLength="104.1" lengthAdjust="spacingAndGlyphs">INTERFERON_GAMMA_RESPONSE</text>
<rect x="453.4" y="126" width="9" height="4.4" fill="#1d4a8a"/>
<text x="431.9" y="138" font-size="6.5" text-anchor="end" textLength="86.1" lengthAdjust="spacingAndGlyphs">INFLAMMATORY_RESPONSE</text>
<rect x="452.5" y="133.6" width="9.9" height="4.4" fill="#1d4a8a"/>
<text x="431.9" y="145.6" font-size="6.5" text-anchor="end" textLength="41.6" lengthAdjust="spacingAndGlyphs">E2F_TARGETS</text>
<rect x="451" y="141.2" width="11.4" height="4.4" fill="#1d4a8a"/>
<text x="431.9" y="153.2" font-size="6.5" text-anchor="end" textLength="64.2" lengthAdjust="spacingAndGlyphs">MTORC1_SIGNALING</text>
<rect x="449.6" y="148.8" width="12.8" height="4.4" fill="#1d4a8a"/>
<text x="431.9" y="160.8" font-size="6.5" text-anchor="end" textLength="55.3" lengthAdjust="spacingAndGlyphs">MYC_TARGETS_V2</text>
<rect x="444.7" y="156.4" width="17.7" height="4.4" fill="#1d4a8a"/>
<text x="431.9" y="168.4" font-size="6.5" text-anchor="end" textLength="55.3" lengthAdjust="spacingAndGlyphs">MYC_TARGETS_V1</text>
<rect x="444.4" y="164" width="18" height="4.4" fill="#1d4a8a"/>
<path d="M434.2 90.1H437.4M434.2 97.7H437.4M434.2 105.3H437.4M434.2 112.9H437.4M434.2 120.5H437.4M434.2 128.2H437.4M434.2 135.8H437.4M434.2 143.4H437.4M434.2 151H437.4M434.2 158.6H437.4M434.2 166.2H437.4" stroke="#231f20" stroke-width="0.7" fill="none"/>
<path d="M437.4 84.8V171.8H490.8" stroke="#231f20" stroke-width="0.9" fill="none"/>
<path d="M462.4 85.5V171.8" stroke="#231f20" stroke-width="0.9" fill="none"/>
<text x="436.8" y="183.2" font-size="6.8" text-anchor="middle">–4</text>
<text x="449.6" y="183.2" font-size="6.8" text-anchor="middle">–2</text>
<text x="462.4" y="183.2" font-size="6.8" text-anchor="middle">0</text>
<text x="475.2" y="183.2" font-size="6.8" text-anchor="middle">2</text>
<text x="488" y="183.2" font-size="6.8" text-anchor="middle">4</text>
<path d="M436.8 171.8V174.2M449.6 171.8V174.2M462.4 171.8V174.2M475.2 171.8V174.2M488 171.8V174.2" stroke="#231f20" stroke-width="0.7" fill="none"/>
<text x="464.1" y="195.4" font-size="8.6" text-anchor="middle" textLength="70.4" lengthAdjust="spacingAndGlyphs">Normalized enrichment</text>
<text x="464.3" y="205.1" font-size="8.6" text-anchor="middle" textLength="39.4" lengthAdjust="spacingAndGlyphs">score (N.E.S.)</text>
<text x="7" y="288.2" font-size="12" font-weight="bold" class="b" fill="#000">D</text>
<text x="75.7" y="325.6" font-size="8.1" text-anchor="middle" textLength="105" lengthAdjust="spacingAndGlyphs">MOLM13 FHD-286/Control</text>
<path d="M23.2 326.9H128.2" stroke="#231f20" stroke-width="0.6"/>
<text x="75.7" y="336.1" font-size="8.3" text-anchor="middle" textLength="123.4" lengthAdjust="spacingAndGlyphs">HALLMARK_MYC_TARGETS_V1</text>
<path d="M77.1 341.4V402.2" stroke="#e2e2e2" stroke-width="0.6"/>
<path d="M91.5 341.4V402.2" stroke="#e2e2e2" stroke-width="0.6"/>
<path d="M27.2 358H122.7" stroke="#8a8a8a" stroke-width="0.6" stroke-dasharray="0.7 1"/>
<path d="M61.2 391.7V401.8" stroke="#969696" stroke-width="0.75"/>
<path d="M62.7 391.7V401.8" stroke="#969696" stroke-width="0.75"/>
<path d="M64 391.7V401.8" stroke="#bebebe" stroke-width="0.75"/>
<path d="M65.5 391.7V401.8" stroke="#787878" stroke-width="0.75"/>
<path d="M67 391.7V401.8" stroke="#bebebe" stroke-width="0.75"/>
<path d="M68.2 391.7V401.8" stroke="#969696" stroke-width="0.75"/>
<path d="M69.3 391.7V401.8" stroke="#bebebe" stroke-width="0.75"/>
<path d="M70.7 391.7V401.8" stroke="#bebebe" stroke-width="0.75"/>
<path d="M72.1 391.7V401.8" stroke="#969696" stroke-width="0.75"/>
<path d="M73.3 391.7V401.8" stroke="#3c3c3c" stroke-width="0.75"/>
<path d="M74.5 391.7V401.8" stroke="#8c8c8c" stroke-width="0.75"/>
<path d="M75.4 391.7V401.8" stroke="#282828" stroke-width="0.75"/>
<path d="M76.5 391.7V401.8" stroke="#282828" stroke-width="0.75"/>
<path d="M77.3 391.7V401.8" stroke="#8c8c8c" stroke-width="0.75"/>
<path d="M78 391.7V401.8" stroke="#282828" stroke-width="0.75"/>
<path d="M79.2 391.7V401.8" stroke="#505050" stroke-width="0.75"/>
<path d="M80.2 391.7V401.8" stroke="#646464" stroke-width="0.75"/>
<path d="M81.3 391.7V401.8" stroke="#646464" stroke-width="0.75"/>
<path d="M82.3 391.7V401.8" stroke="#8c8c8c" stroke-width="0.75"/>
<path d="M83.2 391.7V401.8" stroke="#3c3c3c" stroke-width="0.75"/>
<path d="M84.5 391.7V401.8" stroke="#282828" stroke-width="0.75"/>
<path d="M85.2 391.7V401.8" stroke="#646464" stroke-width="0.75"/>
<path d="M86 391.7V401.8" stroke="#646464" stroke-width="0.75"/>
<path d="M87.2 391.7V401.8" stroke="#505050" stroke-width="0.75"/>
<path d="M88.1 391.7V401.8" stroke="#646464" stroke-width="0.75"/>
<path d="M89.2 391.7V401.8" stroke="#8c8c8c" stroke-width="0.75"/>
<path d="M90.2 391.7V401.8" stroke="#8c8c8c" stroke-width="0.75"/>
<path d="M91.1 391.7V401.8" stroke="#191919" stroke-width="0.75"/>
<path d="M91.9 391.7V401.8" stroke="#0f0f0f" stroke-width="0.75"/>
<path d="M92.9 391.7V401.8" stroke="#282828" stroke-width="0.75"/>
<path d="M93.7 391.7V401.8" stroke="#141414" stroke-width="0.75"/>
<path d="M94.6 391.7V401.8" stroke="#191919" stroke-width="0.75"/>
<path d="M95.6 391.7V401.8" stroke="#282828" stroke-width="0.75"/>
<path d="M96.4 391.7V401.8" stroke="#5a5a5a" stroke-width="0.75"/>
<path d="M97.2 391.7V401.8" stroke="#5a5a5a" stroke-width="0.75"/>
<path d="M98.1 391.7V401.8" stroke="#282828" stroke-width="0.75"/>
<path d="M98.8 391.7V401.8" stroke="#0f0f0f" stroke-width="0.75"/>
<path d="M99.4 391.7V401.8" stroke="#5a5a5a" stroke-width="0.75"/>
<path d="M100.4 391.7V401.8" stroke="#0f0f0f" stroke-width="0.75"/>
<path d="M101.1 391.7V401.8" stroke="#0f0f0f" stroke-width="0.75"/>
<path d="M101.8 391.7V401.8" stroke="#141414" stroke-width="0.75"/>
<path d="M102.4 391.7V401.8" stroke="#1e1e1e" stroke-width="0.75"/>
<path d="M103.3 391.7V401.8" stroke="#0f0f0f" stroke-width="0.75"/>
<path d="M103.9 391.7V401.8" stroke="#282828" stroke-width="0.75"/>
<path d="M104.7 391.7V401.8" stroke="#1e1e1e" stroke-width="0.75"/>
<path d="M105.6 391.7V401.8" stroke="#191919" stroke-width="0.75"/>
<path d="M106.4 391.7V401.8" stroke="#191919" stroke-width="0.75"/>
<path d="M107.2 391.7V401.8" stroke="#0f0f0f" stroke-width="0.75"/>
<path d="M107.9 391.7V401.8" stroke="#0f0f0f" stroke-width="0.75"/>
<path d="M108.5 391.7V401.8" stroke="#282828" stroke-width="0.75"/>
<path d="M109 391.7V401.8" stroke="#141414" stroke-width="0.75"/>
<path d="M110 391.7V401.8" stroke="#191919" stroke-width="0.75"/>
<path d="M110.9 391.7V401.8" stroke="#141414" stroke-width="0.75"/>
<path d="M111.7 391.7V401.8" stroke="#191919" stroke-width="0.75"/>
<path d="M112.4 391.7V401.8" stroke="#141414" stroke-width="0.75"/>
<path d="M113.4 391.7V401.8" stroke="#1e1e1e" stroke-width="0.75"/>
<path d="M114.1 391.7V401.8" stroke="#282828" stroke-width="0.75"/>
<path d="M114.8 391.7V401.8" stroke="#282828" stroke-width="0.75"/>
<path d="M115.7 391.7V401.8" stroke="#0f0f0f" stroke-width="0.75"/>
<path d="M116.5 391.7V401.8" stroke="#282828" stroke-width="0.75"/>
<path d="M117.2 391.7V401.8" stroke="#5a5a5a" stroke-width="0.75"/>
<path d="M118 391.7V401.8" stroke="#141414" stroke-width="0.75"/>
<path d="M119 391.7V401.8" stroke="#1e1e1e" stroke-width="0.75"/>
<path d="M120 391.7V401.8" stroke="#282828" stroke-width="0.75"/>
<polyline points="27.9,358 29.5,358.6 31.1,359.2 32.7,359.9 34.3,360.6 35.9,361.3 37.5,362 39.1,362.6 40.7,363.3 42.3,364 44,364.8 45.6,365.5 47.2,366.2 48.8,366.9 50.4,367.6 52,368.3 53.6,369.1 55.2,369.8 56.8,370.5 58.4,371.3 60,372 61.6,372.7 63.2,373.5 64.8,374.2 66.4,374.9 68,375.7 69.6,376.4 71.2,377.2 72.8,377.9 74.4,378.7 76.1,379.4 77.7,380.2 79.3,380.9 80.9,381.7 82.5,382.4 84.1,383.2 85.7,383.9 87.3,384.7 88.9,385.4 90.5,386.2 93,386.4 96,386.2 99,384.5 101.5,382.2 103.5,379.3 105.5,376.2 107.5,373.8 109,372.3 111,370.2 113.5,368.5 114.5,366 115.5,363 116.5,360.5 117.5,358.4 118.5,357.8 122,357.8" fill="none" stroke="#3f6196" stroke-width="1.1"/>
<rect x="24.7" y="341.4" width="101" height="60.8" fill="none" stroke="#231f20" stroke-width="0.9"/>
<text x="19.1" y="360.3" font-size="6.6" text-anchor="end">0.0</text>
<text x="19.1" y="382.4" font-size="6.6" text-anchor="end">–0.5</text>
<path d="M21.9 358H24.7M21.9 380.1H24.7" stroke="#231f20" stroke-width="0.7"/>
<text x="28.5" y="386.9" font-size="6.7" textLength="35.1" lengthAdjust="spacingAndGlyphs">NES = −2.85</text>
<text x="28.5" y="396.8" font-size="6.7" textLength="20.7" lengthAdjust="spacingAndGlyphs">q = 0.0</text>
<path d="M26.8 408.9H70.7" stroke="#c41e3a" stroke-width="0.8"/>
<path d="M23.3 408.9L27.3 407.3L27.3 410.5Z" fill="#c41e3a"/>
<path d="M79.2 408.9H123.2" stroke="#355e8c" stroke-width="0.8"/>
<path d="M126.7 408.9L122.7 407.3L122.7 410.5Z" fill="#355e8c"/>
<text x="23.9" y="418.1" font-size="6.3" textLength="46.5" lengthAdjust="spacingAndGlyphs">Induced by FHD</text>
<text x="78.7" y="418.1" font-size="6.3" textLength="50.2" lengthAdjust="spacingAndGlyphs">Depleted by FHD</text>
<text x="221.8" y="325.6" font-size="8.1" text-anchor="middle" textLength="105" lengthAdjust="spacingAndGlyphs">MOLM13 FHD-286/Control</text>
<path d="M169.3 326.9H274.3" stroke="#231f20" stroke-width="0.6"/>
<text x="221.8" y="336.1" font-size="8.3" text-anchor="middle" textLength="123.4" lengthAdjust="spacingAndGlyphs">HALLMARK_MYC_TARGETS_V2</text>
<path d="M224.3 341.4V402.2" stroke="#e2e2e2" stroke-width="0.6"/>
<path d="M252.1 341.4V402.2" stroke="#e2e2e2" stroke-width="0.6"/>
<path d="M173.3 355.8H268.8" stroke="#8a8a8a" stroke-width="0.6" stroke-dasharray="0.7 1"/>
<path d="M190 391.7V401.8" stroke="#8a8a8a" stroke-width="0.75"/>
<path d="M208.3 391.7V401.8" stroke="#8a8a8a" stroke-width="0.75"/>
<path d="M213.8 391.7V401.8" stroke="#8a8a8a" stroke-width="0.75"/>
<path d="M232.1 391.7V401.8" stroke="#959595" stroke-width="0.75"/>
<path d="M235.8 391.7V401.8" stroke="#888888" stroke-width="0.75"/>
<path d="M239.4 391.7V401.8" stroke="#7c7c7c" stroke-width="0.75"/>
<path d="M243.1 391.7V401.8" stroke="#6f6f6f" stroke-width="0.75"/>
<path d="M245.8 391.7V401.8" stroke="#656565" stroke-width="0.75"/>
<path d="M248 391.7V401.8" stroke="#5e5e5e" stroke-width="0.75"/>
<path d="M250.4 391.7V401.8" stroke="#555555" stroke-width="0.75"/>
<path d="M252.2 391.7V401.8" stroke="#4f4f4f" stroke-width="0.75"/>
<path d="M254 391.7V401.8" stroke="#494949" stroke-width="0.75"/>
<path d="M255.3 391.7V401.8" stroke="#444444" stroke-width="0.75"/>
<path d="M256.8 391.7V401.8" stroke="#3f3f3f" stroke-width="0.75"/>
<path d="M258.2 391.7V401.8" stroke="#3a3a3a" stroke-width="0.75"/>
<path d="M260.2 391.7V401.8" stroke="#151515" stroke-width="0.75"/>
<path d="M260.6 391.7V401.8" stroke="#151515" stroke-width="0.75"/>
<path d="M261.1 391.7V401.8" stroke="#151515" stroke-width="0.75"/>
<path d="M261.5 391.7V401.8" stroke="#151515" stroke-width="0.75"/>
<path d="M262 391.7V401.8" stroke="#151515" stroke-width="0.75"/>
<path d="M262.4 391.7V401.8" stroke="#151515" stroke-width="0.75"/>
<path d="M262.9 391.7V401.8" stroke="#151515" stroke-width="0.75"/>
<path d="M263.3 391.7V401.8" stroke="#151515" stroke-width="0.75"/>
<path d="M263.8 391.7V401.8" stroke="#151515" stroke-width="0.75"/>
<path d="M264.2 391.7V401.8" stroke="#151515" stroke-width="0.75"/>
<path d="M264.7 391.7V401.8" stroke="#151515" stroke-width="0.75"/>
<path d="M265.1 391.7V401.8" stroke="#151515" stroke-width="0.75"/>
<path d="M265.6 391.7V401.8" stroke="#151515" stroke-width="0.75"/>
<path d="M266 391.7V401.8" stroke="#151515" stroke-width="0.75"/>
<path d="M266.9 391.7V401.8" stroke="#555555" stroke-width="0.75"/>
<path d="M267.7 391.7V401.8" stroke="#555555" stroke-width="0.75"/>
<path d="M268.6 391.7V401.8" stroke="#555555" stroke-width="0.75"/>
<polyline points="174.2,355.8 176.1,356.6 178.1,357.3 180,358.1 181.9,358.9 183.9,359.7 185.8,360.4 187.7,361.2 189.6,362 191.6,362.8 193.5,363.5 195.4,364.3 197.4,365.1 199.3,365.9 201.2,366.6 203.2,367.4 205.1,368.2 207,369 209,369.7 210.9,370.5 212.8,371.3 214.7,372.1 216.7,372.8 218.6,373.6 220.5,374.4 222.5,375.2 224.4,375.9 226.3,376.7 228.3,377.5 230.2,378.3 232.1,379 234.1,379.8 236,380.6 237.9,381.4 239.8,382.1 241.8,382.9 243.7,383.7 245.6,384.5 247.6,385.2 249.5,386 252,386.3 255,386 258.4,384.5 261,381 262.5,377 263.8,372 264.8,367 265.6,363 266.5,359.5 267.4,356.7 269.2,354.9" fill="none" stroke="#3f6196" stroke-width="1.1"/>
<rect x="170.8" y="341.4" width="101" height="60.8" fill="none" stroke="#231f20" stroke-width="0.9"/>
<text x="165.2" y="358.1" font-size="6.6" text-anchor="end">0.0</text>
<text x="165.2" y="378.3" font-size="6.6" text-anchor="end">–0.5</text>
<text x="165.2" y="397.7" font-size="6.6" text-anchor="end">–1.0</text>
<path d="M168 355.8H170.8M168 376H170.8M168 395.4H170.8" stroke="#231f20" stroke-width="0.7"/>
<text x="174.6" y="379.7" font-size="6.7" textLength="35.1" lengthAdjust="spacingAndGlyphs">NES = −2.81</text>
<text x="174.6" y="389.9" font-size="6.7" textLength="20.7" lengthAdjust="spacingAndGlyphs">q = 0.0</text>
<path d="M172.9 408.9H216.8" stroke="#c41e3a" stroke-width="0.8"/>
<path d="M169.4 408.9L173.4 407.3L173.4 410.5Z" fill="#c41e3a"/>
<path d="M225.3 408.9H269.3" stroke="#355e8c" stroke-width="0.8"/>
<path d="M272.8 408.9L268.8 407.3L268.8 410.5Z" fill="#355e8c"/>
<text x="170" y="418.1" font-size="6.3" textLength="46.5" lengthAdjust="spacingAndGlyphs">Induced by FHD</text>
<text x="224.8" y="418.1" font-size="6.3" textLength="50.2" lengthAdjust="spacingAndGlyphs">Depleted by FHD</text>
<text x="298.5" y="287.3" font-size="12" font-weight="bold" class="b" fill="#000">E</text>
<text x="413.3" y="287.3" font-size="8.2" text-anchor="middle" textLength="35.8" lengthAdjust="spacingAndGlyphs">MOLM13</text>
<text x="413.5" y="297.2" font-size="8.2" text-anchor="middle" textLength="97.6" lengthAdjust="spacingAndGlyphs">100 nM FHD-286/Control</text>
<defs><filter id="bl" x="-20%" y="-20%" width="140%" height="140%"><feGaussianBlur stdDeviation="1.3"/></filter><filter id="bl2" x="-20%" y="-20%" width="140%" height="140%"><feGaussianBlur stdDeviation="0.5"/></filter><clipPath id="pa"><rect x="328.8" y="300" width="175" height="133"/></clipPath></defs>
<g clip-path="url(#pa)">
<g filter="url(#bl)" fill="#ebebeb">
<path d="M383 434L392 408L396 386L398.5 372L403 373L402 398L400 434Z"/>
<path d="M424 434L423 395L424 365L430 356L438 375L445 410L452 434Z"/>
</g>
<g filter="url(#bl2)" fill="#c6c6c6">
<path d="M391 434L396.5 414L399 396L400.3 384L402.6 377L405 384L407 402L408.8 420L409.6 434Z"/>
<path d="M412.6 434L414.3 415L416.2 395L417.8 378L420 366L424.5 365L424 385L425.5 405L429 424L433 434Z"/>
</g>
<path d="M425.6 400.7h0.6M417.7 397.8h0.6M413.9 405.5h0.6M419.5 370h0.6M402.7 366.5h0.6M402.7 403.5h0.6M422.5 432.7h0.6M428.5 426.1h0.6M420.6 365.3h0.6M413.1 391.8h0.6M421 424h0.6M405.6 362.6h0.6M422.1 432.5h0.6M397.3 420.4h0.6M405.1 380.4h0.6M401.9 415h0.6M407.1 419.8h0.6M404.2 426.6h0.6M431.2 420.5h0.6M418.5 425.9h0.6M422.8 432.7h0.6M417.2 411.5h0.6M424.3 380.5h0.6M426.9 413.8h0.6M432.8 424.5h0.6M418.6 359h0.6M426 416h0.6M416.1 342.4h0.6M421.8 425.2h0.6M414.6 432.5h0.6M420.6 398.3h0.6M428.4 411h0.6M394.7 414h0.6M414.6 430.1h0.6M403 383.7h0.6M405.1 369.5h0.6M422.9 348.8h0.6M414.4 431.7h0.6M419.9 346.8h0.6M425.9 368h0.6M425.6 423.1h0.6M430.8 426.8h0.6M417.5 363.8h0.6M398.5 429.2h0.6M418.7 424.6h0.6M421.5 417.9h0.6M408.1 399.9h0.6M402.9 406.2h0.6M420.4 355.1h0.6M407.1 366.7h0.6M420.9 380.7h0.6M422.9 340.8h0.6M404.8 374.3h0.6M404.6 395.4h0.6M398.7 377.7h0.6M405.5 407.2h0.6M396.5 420.7h0.6M417 391.9h0.6M402.8 376.7h0.6M398.6 406.5h0.6M425.3 365.9h0.6M424.5 396.2h0.6M418.5 426.7h0.6M400.2 371.9h0.6M417.7 433.3h0.6M431.4 429.5h0.6M395.5 399.6h0.6M423.7 388.7h0.6M425.1 412.9h0.6M392.6 420.6h0.6M425.8 421.6h0.6M405.7 380.3h0.6M403.1 368.3h0.6M424.9 424.2h0.6M415.8 414.4h0.6M416.7 365.7h0.6M402.8 416.2h0.6M401.2 433.1h0.6M399.8 407.3h0.6M433.3 430.8h0.6M424.2 433.2h0.6M416.4 432.9h0.6M397.7 416.6h0.6M400.6 367.3h0.6M398.1 429.4h0.6M421.1 409.3h0.6M400.4 430.1h0.6M405.7 411.3h0.6M398.3 390.2h0.6M406.5 432.4h0.6M405.2 393.6h0.6M405.4 373.2h0.6M427 399.7h0.6M396.8 415.4h0.6M399.5 429.2h0.6M396.6 394.1h0.6M429.3 356.7h0.6M418.6 372.6h0.6M421.6 355.1h0.6M416.4 412.1h0.6M419 375.7h0.6M400.8 432.8h0.6M396.6 430.3h0.6M432.2 430.3h0.6M423.6 381.6h0.6M396.8 413.4h0.6M401.9 432.4h0.6M425.3 380.9h0.6M404.9 411.1h0.6M414.2 417h0.6M404.6 374.3h0.6M409.5 411h0.6M413 428.1h0.6M399.2 433.2h0.6M396.3 411.6h0.6M426.3 407.5h0.6M395.4 432.8h0.6M402.6 371.6h0.6M424.7 409.2h0.6M405.3 374.3h0.6M424.1 421.6h0.6M407.5 431.5h0.6M401.9 433.2h0.6M404.5 424h0.6M426.5 394.1h0.6M425.9 405.7h0.6M413.7 428.3h0.6M419.5 414.4h0.6M424.1 429.9h0.6M407.4 410.6h0.6M404 403.9h0.6M401.2 384.5h0.6M397.4 424.3h0.6M425.8 340.9h0.6M401.5 431.4h0.6M433.4 431.9h0.6M402.3 418.2h0.6M417.8 386.4h0.6M414.8 428.1h0.6M390.5 431.8h0.6M413.6 377h0.6M421.2 432.5h0.6M418.4 430.4h0.6M432.5 428h0.6M387.4 432.3h0.6M414.2 348.6h0.6M422.8 409.8h0.6M419.9 413h0.6M402.7 380.8h0.6M420.2 410.9h0.6M413.9 429.7h0.6M432.6 433.2h0.6M399.8 378.9h0.6M397.6 419.3h0.6M400.8 385.1h0.6M419.5 354.9h0.6M394.3 419.3h0.6M401.5 376.7h0.6M394.8 419.2h0.6M397.5 432.7h0.6M426.7 418.9h0.6M403.4 402.8h0.6M398.5 407.4h0.6M401.7 401.2h0.6M403.5 389.6h0.6M402.6 392h0.6M424.5 415.4h0.6M422.8 431.9h0.6M415.8 355.8h0.6M400.8 407.6h0.6M402.9 401.6h0.6M418.4 376.9h0.6M421.7 352h0.6M425.8 407.1h0.6M405.9 432.9h0.6M418.5 396.6h0.6M416.2 423.6h0.6M415.4 382.5h0.6M421.5 433.3h0.6M421.2 377.5h0.6M419.7 357h0.6M402.5 369h0.6M416.1 355.8h0.6M403.6 427.7h0.6M419 350.9h0.6M399.6 383.8h0.6M396.8 431.8h0.6M415.4 432.8h0.6M424.5 425h0.6M421.9 413.9h0.6M400.2 368h0.6M408.8 427.9h0.6M407.4 402.7h0.6M417.6 424.4h0.6M414.5 392.6h0.6M401.2 429.7h0.6M420.3 432.7h0.6M406.2 432.1h0.6M431.2 432.5h0.6M424 392.8h0.6M421.8 408.7h0.6M405.7 381.4h0.6M425 431.3h0.6M394.8 428.9h0.6M423.3 425.2h0.6M401.2 363.4h0.6M420.1 401.9h0.6M421.1 360.4h0.6M421.6 408.1h0.6M401.7 425.2h0.6M418.3 389.2h0.6M419.3 422.4h0.6M418.6 381.2h0.6M403.6 407.5h0.6M405.8 369.6h0.6M398.9 424.9h0.6M432.4 415.5h0.6M415.5 418.4h0.6M415.9 418.3h0.6M423.5 400.3h0.6M404.7 409.8h0.6M415.4 376.9h0.6M406.9 426h0.6M421.2 399.9h0.6M402.9 400.4h0.6M418.5 373h0.6M420 432.3h0.6M418.1 378.7h0.6M417.4 376.1h0.6M417 376.1h0.6M404.5 398.4h0.6M418.9 403h0.6M395.1 418.9h0.6M406.3 398.9h0.6M399.1 375.7h0.6M396.9 401.4h0.6M400.8 418.2h0.6M420 430.4h0.6M416.6 413.4h0.6M437.4 422.1h0.6M420.7 390.9h0.6M417 410.5h0.6M421.3 355.2h0.6M421.8 427.4h0.6M417.5 382.4h0.6M418.3 423.9h0.6M418 377.1h0.6M406.7 414.3h0.6M422.5 358.6h0.6M418.1 347.7h0.6M437 427.2h0.6M404.9 420.5h0.6M417.9 405.2h0.6M413.6 409.3h0.6M407.1 404.4h0.6M418.7 430h0.6M404.8 411.6h0.6M403.2 362.9h0.6M425.1 375.4h0.6M424 368.3h0.6M395 432.2h0.6M402.8 406h0.6M402.6 425h0.6M395.5 432.3h0.6M395.4 429.1h0.6M418.6 366.8h0.6M425.8 422h0.6M421.8 382.6h0.6M423.7 386.2h0.6M421.5 346.1h0.6M405.9 400.1h0.6M401.6 427.9h0.6M438.2 410.6h0.6M402.1 429.1h0.6M397.3 425.6h0.6M426.4 420.2h0.6M420 388.6h0.6M404.5 423.6h0.6M401.6 408h0.6M396.2 432.3h0.6M416.1 432h0.6M404.5 405.5h0.6M424.1 431.1h0.6M428.4 432.5h0.6M417.8 391h0.6M400.9 383.3h0.6M426.1 433.2h0.6M428 384.6h0.6M401.6 404.2h0.6M415.8 420.6h0.6M428.2 417.3h0.6M422.5 372.9h0.6M414.9 375.9h0.6M399.4 409.1h0.6M424.2 382.9h0.6M400.4 411.6h0.6M413.5 349.7h0.6M404.3 429.4h0.6M421.8 384.9h0.6M417.2 352.2h0.6M422.2 345h0.6M415.4 356h0.6M418.7 424.9h0.6M404.9 363h0.6M415.1 367.8h0.6M420 357.1h0.6M407.5 429.9h0.6M426.1 432.4h0.6M403.7 369.6h0.6M397.9 424.8h0.6M413.1 397.3h0.6M402.5 433.3h0.6M427.2 416.6h0.6M415.6 429.3h0.6M420.2 420.6h0.6M399.2 433.1h0.6M400.5 404.9h0.6M414.2 414.6h0.6M399.3 390.7h0.6M422.6 341.6h0.6M415.5 355.9h0.6M419 356h0.6M418.9 432.8h0.6M394.4 405.1h0.6M400 424.9h0.6M419.4 411.6h0.6M429.5 415.8h0.6M424.4 426.2h0.6M420.9 415.9h0.6M404.4 366.3h0.6M398.5 378.2h0.6M423.7 378.6h0.6M424.7 356.1h0.6M425.9 403h0.6M400.7 433.3h0.6M427.9 432.7h0.6M400.7 383.9h0.6M425.8 432.9h0.6M418.2 356.9h0.6M406.3 364.9h0.6M416.7 427.9h0.6M398.9 422.3h0.6M403.8 362.6h0.6M423.8 392.7h0.6M435.6 431.7h0.6M408.9 424.5h0.6M394.9 431.4h0.6M402.3 369.8h0.6M421.8 422.2h0.6M402.6 429.5h0.6M405 386.6h0.6M424.9 389.2h0.6M415.1 422.6h0.6M401.7 398.9h0.6M423.9 343.5h0.6M418.8 403.9h0.6M420.5 423.7h0.6M422.7 370.9h0.6M403.3 427.6h0.6M424.8 401.9h0.6M432 429.1h0.6M415.8 391.2h0.6M406.5 411.6h0.6M418 364.8h0.6M395.5 430.2h0.6M398.1 430.5h0.6M418.1 375h0.6M403.2 386.6h0.6M426.2 398.5h0.6M416.5 360.8h0.6M429.6 430.2h0.6M421.4 412h0.6M427.8 371.5h0.6M425.5 402.4h0.6M403.7 427.9h0.6M425.3 421.8h0.6M401.6 410.9h0.6M425 368.4h0.6M426.5 425.4h0.6M406.9 387h0.6M417.9 414.6h0.6M403.4 433.1h0.6M422.3 376.6h0.6M419.8 378.8h0.6M423.9 426.2h0.6M418.6 422.8h0.6M446.1 432.4h0.6M405.1 392.5h0.6M416.2 425.5h0.6M418.8 351.6h0.6M429.4 420.2h0.6M419.7 415.3h0.6M396.1 432.9h0.6M407.1 405.7h0.6M395.7 415.5h0.6M424.8 373.9h0.6M424 419.5h0.6M429.2 428h0.6M418.3 409.7h0.6M406.1 397.8h0.6M399.7 429.2h0.6M402.7 421.8h0.6M424 433.2h0.6M422.1 353h0.6M399.6 426.6h0.6M403.5 422h0.6M403.2 393.5h0.6M420.1 416.7h0.6M416.9 359.3h0.6M433.2 432.8h0.6M424.8 426.3h0.6M422.6 433.1h0.6M417.6 413.5h0.6M400.6 427h0.6M403.9 399h0.6M422.5 382.9h0.6M423.6 416.6h0.6M417.5 419.7h0.6M432.3 433h0.6M420.7 370.1h0.6M396.4 425.2h0.6M404.7 367.7h0.6M398 432.4h0.6M426.2 416.1h0.6M422.5 407h0.6M414.5 429.9h0.6M423.2 388.8h0.6M417 432h0.6M424.8 398.3h0.6M401.9 408.8h0.6M419.5 418.3h0.6M427.3 415.1h0.6M422.8 409.6h0.6M427.1 425.5h0.6M402.7 407.7h0.6M422.2 388.5h0.6M406.1 367.8h0.6M428.6 399h0.6M400.1 403.1h0.6M418.8 414.2h0.6M409.7 420.7h0.6M404.8 433.1h0.6M426.3 418.5h0.6M402.2 431h0.6M404.4 428.1h0.6M417.3 402.4h0.6M422.4 390.6h0.6M398.3 423.4h0.6M417.5 358.8h0.6M407.6 397.1h0.6M405.2 383h0.6M426.5 400.3h0.6M420.9 423.6h0.6M417.5 429.2h0.6M421 432.6h0.6M423.8 384h0.6M404.8 414.2h0.6M420.6 361.8h0.6M419.2 406h0.6M401 420.1h0.6M398.1 423.8h0.6M424.3 376.9h0.6M405.5 402.9h0.6M401.5 428.2h0.6M420.1 350.3h0.6M398.9 431.4h0.6M397.5 419.8h0.6M407.3 363.5h0.6M425.1 433h0.6M422.2 380.6h0.6M421.3 433.2h0.6M417.2 408.3h0.6M404.8 381.4h0.6M413.1 416.2h0.6M396.7 420.3h0.6M402.8 409.3h0.6M417.3 431.6h0.6M398.9 427.4h0.6M421.8 433.2h0.6M417.1 430.5h0.6M417.4 408.4h0.6M423.3 425.1h0.6M402 424.7h0.6M421.1 361.6h0.6M422.8 414.3h0.6M415.5 401.7h0.6M400.9 402.9h0.6M409.3 362.8h0.6M419.5 366.5h0.6M416.8 429.5h0.6M413.3 432.4h0.6M427.5 405.3h0.6M422.1 427.7h0.6M419.7 369.9h0.6M397.9 392.3h0.6M406.2 389h0.6M405.8 432.2h0.6M399.8 427.4h0.6M397.1 433.2h0.6M418.7 417.9h0.6M400 384.5h0.6M428 424h0.6M404.9 424.1h0.6M403.6 429h0.6M401.1 409.3h0.6M417.1 430.5h0.6M427.5 413h0.6M421.3 421.3h0.6M421.5 348.5h0.6M428.4 377.6h0.6M427.2 414.8h0.6M399.9 430.1h0.6M408.2 424h0.6M424.3 418.8h0.6M401.5 420.9h0.6M393.6 428.9h0.6M397.3 402.4h0.6M427.8 399.9h0.6M407 416.2h0.6M399.5 418.4h0.6M404 407.2h0.6M415.5 433.1h0.6M416.4 397h0.6M385.4 430.9h0.6M404.2 424.5h0.6M399.3 363.4h0.6M423.1 342.3h0.6M426.3 426.5h0.6M399.3 382.4h0.6M403.5 412h0.6M402.6 394.7h0.6M415.2 370.3h0.6M402.8 429.5h0.6M425.7 391.4h0.6M404.3 413.5h0.6M424.1 371.3h0.6M415 355.8h0.6M399.4 430.9h0.6M423 419.6h0.6M404.4 381.9h0.6M421.4 364.3h0.6M426.5 393.1h0.6M404.3 393.1h0.6M432.6 433.2h0.6M417.3 421.7h0.6M400.6 396.3h0.6M418.4 431h0.6M413.5 431.4h0.6M400.8 404h0.6M404.3 396.6h0.6M399.9 422h0.6M424.8 392.8h0.6M416.2 368.5h0.6M421.6 350.2h0.6M420.6 384.1h0.6M424.5 360.8h0.6M418 363.5h0.6M397.4 420.4h0.6M401 404.8h0.6M421.7 423.9h0.6M418.3 348.1h0.6M408.3 427.6h0.6M425.7 430.9h0.6M417.9 419.9h0.6M399.9 380.1h0.6M417.3 357.2h0.6M413.8 418.3h0.6M406.6 422.9h0.6M407.1 368.4h0.6M422.1 418.4h0.6M416.7 421.7h0.6M400.3 365h0.6M404.7 419.9h0.6M400.3 362.3h0.6M413.8 410.2h0.6M422.1 342.4h0.6M424.6 417.8h0.6M404.9 432.5h0.6M414.6 390.8h0.6M415.3 369.7h0.6M405.4 388.2h0.6M422.6 362.7h0.6M405.8 374.8h0.6M421.2 403.4h0.6M418.4 372.8h0.6M426.2 399.8h0.6M415 432.1h0.6M400.9 427.6h0.6M423.1 432.8h0.6M426.7 410.5h0.6M402.6 432.1h0.6M400.2 411h0.6M428.6 395h0.6M419.3 368.7h0.6M415.2 431.5h0.6M424.7 414.2h0.6M420.9 353.8h0.6M413.9 407.7h0.6M395.7 407.6h0.6M417.4 356.1h0.6M403.7 427.1h0.6M415.2 413.1h0.6M421.4 411.2h0.6M424.2 366.2h0.6M423.5 415.5h0.6M416.8 431.9h0.6M425.3 426.7h0.6M406.1 413.8h0.6M400.8 433.3h0.6M416.7 347.1h0.6M427.5 422.6h0.6M400.5 405.8h0.6M424.5 377.6h0.6M421.2 432h0.6M405.1 418h0.6M400.3 419.5h0.6M424.1 343.3h0.6M398.1 423.7h0.6M408.5 401.2h0.6M425.6 376.3h0.6M421 352.4h0.6M408.9 433.2h0.6M416.1 433.3h0.6M396.5 418.5h0.6M387 432.6h0.6M401.9 417h0.6M415 412.4h0.6M420.6 421.4h0.6M418.4 366.5h0.6M403.6 409.2h0.6M420.7 348.2h0.6M420.5 353.2h0.6M423.6 365.7h0.6M418.8 360.7h0.6M421 417.3h0.6M399.1 371h0.6M420.2 374.3h0.6M422.9 379.1h0.6M428 419.6h0.6M414.4 419.3h0.6M417 399.2h0.6M397.2 422.1h0.6M398.9 423.7h0.6M400.7 428.1h0.6M431.8 425.3h0.6M415.4 367.8h0.6M425.7 394.4h0.6M422.5 344.7h0.6M417 426.7h0.6M397.3 432.1h0.6M428.3 384.7h0.6M418.9 401.6h0.6M404.4 389.3h0.6M401.6 432.2h0.6M416.8 403.3h0.6M401.5 431.7h0.6M399.7 371.5h0.6M408.3 421.7h0.6M418 363h0.6M401.3 426.8h0.6M422.4 425.5h0.6M426.2 425.5h0.6M426.5 423.6h0.6M422.7 405.8h0.6M401.8 379.6h0.6M401.6 409.5h0.6M399.9 372.1h0.6M423.1 373.1h0.6M414.2 411h0.6M406.7 412.4h0.6M422.5 419.4h0.6M427.6 350.4h0.6M402.7 432.7h0.6M419.3 431.3h0.6M402.6 424.7h0.6M399.3 432.7h0.6M428.1 399.5h0.6M402.3 387.2h0.6M416.6 432.4h0.6M420.1 419h0.6M419.1 428.3h0.6M413.8 432.3h0.6M427 400.9h0.6M419.5 422.7h0.6M431.5 384.3h0.6M400.5 371.3h0.6M406.4 370.2h0.6M420.8 386.3h0.6M403.8 403.8h0.6M419 347.3h0.6M434 431.5h0.6M398.1 396.9h0.6M402.4 384.8h0.6M427.1 432.6h0.6M390.5 419.1h0.6M431.5 419.5h0.6M421.1 397.9h0.6M417.7 420.3h0.6M416.2 359.4h0.6M421 430.3h0.6M406.6 423.5h0.6M419.8 390.1h0.6M424.1 360.2h0.6M419.1 426.6h0.6M405.5 398.3h0.6M407.9 409.8h0.6M426.6 427.3h0.6M417.5 342.4h0.6M405.2 363.3h0.6M424.4 430.8h0.6M413.1 372.6h0.6M416.3 368.7h0.6M419 406.8h0.6M402.2 431.1h0.6M427.8 360h0.6M417.7 351.9h0.6M422.8 382.7h0.6M419.1 387.3h0.6M406.1 393.2h0.6M418.7 431.3h0.6M421.5 350.6h0.6M423.6 432.9h0.6M427.3 428.9h0.6M424.8 399.9h0.6M403.6 410.8h0.6M420.3 432.4h0.6M424.4 376.7h0.6M417.4 420.7h0.6M425.6 423h0.6M405.5 415.3h0.6M404.1 419.6h0.6M420.9 379.9h0.6M424.1 433.2h0.6M428.5 390.3h0.6M427.1 429h0.6M421.5 425.1h0.6M395.6 421.4h0.6M422.3 418.8h0.6M398.2 406.5h0.6M424.8 420.5h0.6M409.8 428.1h0.6M397.1 430.6h0.6M419.1 343.2h0.6M404.1 428h0.6M426.8 430h0.6M418.9 386.1h0.6M421 417.1h0.6M419.6 407h0.6M407.2 415.5h0.6M402.1 426.1h0.6M423 432.2h0.6M400.7 385.8h0.6M416 356.2h0.6M419.5 349.5h0.6M417.8 408.4h0.6M432.5 419.8h0.6M427.4 427.5h0.6M399 372.3h0.6M401.5 385.9h0.6M392.2 430.2h0.6M401.8 425h0.6M432.7 405.6h0.6M413.1 372.5h0.6M397.4 401h0.6M430.4 388.6h0.6M409.7 424.6h0.6M420.8 385.3h0.6M386 431.6h0.6M406.8 432.9h0.6M399.5 377.4h0.6M417.2 349.9h0.6M415.2 419.1h0.6M422.6 429.8h0.6M400.6 388.2h0.6M400.8 411.7h0.6M423.7 390.9h0.6M400.4 369.3h0.6M408.5 403.2h0.6M418.3 424h0.6M431.3 407.9h0.6M423 409.2h0.6M403.2 427.4h0.6M428.8 420.9h0.6M415.6 432.8h0.6M405.9 401.4h0.6M421.3 415h0.6M406.7 431.7h0.6M420.6 386.3h0.6M399.9 369.8h0.6M385.5 427.4h0.6M414.9 428.7h0.6M404.6 432.9h0.6M424.6 382.1h0.6M402.2 424.2h0.6M395.9 415.9h0.6M402.8 432.9h0.6M418.5 424.6h0.6M414.7 413.4h0.6M414.9 378.9h0.6M405.4 403.5h0.6M421.1 383.2h0.6M423.4 433.2h0.6M417.9 416.2h0.6M403.3 379.9h0.6M414.5 397.7h0.6M437.9 422.4h0.6M416 361.8h0.6M419.5 358.6h0.6M418.8 372.5h0.6M414.5 412.4h0.6M416.2 421.7h0.6M417 375.1h0.6M425.1 409.2h0.6M417.1 357h0.6M399 387.1h0.6M405.4 425.3h0.6M401.2 368.4h0.6M414.4 390.2h0.6M417.1 383.1h0.6M421.1 414.2h0.6M397.4 428.6h0.6M421.7 341.7h0.6M430.9 398.2h0.6M399.9 381.5h0.6M405.5 389.6h0.6M402.2 406.7h0.6M428.7 402.3h0.6M401.8 431.3h0.6M401 368.3h0.6M414.4 399.9h0.6M419.2 393.5h0.6M400.9 399.3h0.6M434 430.4h0.6M389.4 415.7h0.6M417.7 348.3h0.6M423.1 376.9h0.6M403.9 396.7h0.6M401 420.8h0.6M428.8 433.2h0.6M422.6 389.8h0.6M405.2 370.3h0.6M423.4 429.2h0.6M403.7 392h0.6M420.1 407.7h0.6M402.4 379h0.6M418.8 384.1h0.6M397 428.7h0.6M423.5 395.3h0.6M402.3 428.5h0.6M423.9 346.5h0.6M405.3 398h0.6M419.6 418.9h0.6M401.2 377.6h0.6M422.1 418.3h0.6M427.2 385.1h0.6M415 365.5h0.6M418.6 433h0.6" stroke="#bdbdbd" stroke-width="0.6" fill="none"/>
<path d="M436 347.7h0.6M400.6 371.3h0.6M426.1 388.3h0.6M425.1 384.6h0.6M438.2 399h0.6M434.4 414.7h0.6M410.7 376.1h0.6M385.8 395.5h0.6M428 399h0.6M425.2 391.7h0.6M401.2 432.9h0.6M419.5 432.7h0.6M400.4 424.4h0.6M401.1 351.6h0.6M400.5 400.5h0.6M439.6 389.4h0.6M370.6 351.7h0.6M390.2 414.9h0.6M405.4 393.6h0.6M359.9 433.1h0.6M437.8 407.3h0.6M429.4 336h0.6M426.4 362.2h0.6M421.2 399.5h0.6M405.8 374.1h0.6M433 412.4h0.6M418.8 379.7h0.6M416.4 422.7h0.6M437.6 362.2h0.6M433.9 429.9h0.6M417.5 418.9h0.6M406.4 431.8h0.6M441.8 357.1h0.6M415.7 333.1h0.6M445.6 381.7h0.6M388.7 408h0.6M405 419.8h0.6M402.9 331.5h0.6M431 417.6h0.6M417.4 416.6h0.6M395.7 374.7h0.6M460 408h0.6M405 396.4h0.6M411.6 391.9h0.6M462.7 409.1h0.6M420.5 427.2h0.6M421.3 395.5h0.6M417.2 361.7h0.6M412.2 367.4h0.6M423.2 347.4h0.6M419 350.4h0.6M430.4 364.5h0.6M410.3 353.2h0.6M417.2 426.3h0.6M448.2 408.2h0.6M418 432.2h0.6M378.6 432.5h0.6M435.6 416.9h0.6M420.7 378.5h0.6M419.3 425.9h0.6M418.7 387.5h0.6M418.7 407.5h0.6M435.8 424.2h0.6M417.6 433.2h0.6M395.8 390.7h0.6M401.8 428.2h0.6M415.9 369.8h0.6M394.3 432.4h0.6M419.4 359.1h0.6M382 338.2h0.6M439.4 361.7h0.6M433.6 329.6h0.6M399.8 382.9h0.6M398.4 342.4h0.6M463.7 351.1h0.6M368 332.7h0.6M430.7 428.2h0.6M397.9 431.6h0.6M414.3 382.8h0.6M427.2 401.3h0.6M397.1 409.7h0.6M404 412.2h0.6M433.5 433.3h0.6M418.3 327.8h0.6M424.3 431.5h0.6M409 367.6h0.6M390.5 336.6h0.6M419 414.6h0.6M394.6 399.6h0.6M392.9 331.7h0.6M437.4 381.6h0.6M429.8 424.9h0.6M407.2 387h0.6M405.1 430h0.6M402 348.6h0.6M432.4 429.2h0.6M424.4 432.8h0.6M428.6 353.3h0.6M429.3 428.8h0.6M406.2 389.2h0.6M449 347.6h0.6M396.5 360.5h0.6M425.5 383.4h0.6M413.5 394.3h0.6M428.3 373.1h0.6M393 357.9h0.6M432.2 356.2h0.6M417.3 338.9h0.6M428.1 410.5h0.6M398.8 432.2h0.6M435.5 427h0.6M424.5 403.9h0.6M431.1 343.8h0.6M449.4 397.4h0.6M411.3 374h0.6M418 401.5h0.6M452 412.6h0.6M424.8 359.6h0.6M437.2 398.9h0.6M405.2 358.2h0.6M435.2 398.8h0.6M418.3 339.5h0.6M415.8 338.4h0.6M405.7 381.4h0.6M417.8 357.5h0.6M450.4 395h0.6M454.2 347.3h0.6M424.2 389.5h0.6M426.2 362.6h0.6M437.7 404.2h0.6M431.6 425.8h0.6M385 409.8h0.6M403.8 370.3h0.6M417.3 382h0.6M382.3 331.2h0.6M434.9 377.5h0.6M426.1 377.6h0.6M420.7 411h0.6M402.9 350.5h0.6M437.5 378.2h0.6M414.7 357h0.6M403.6 415.5h0.6M418.9 378.8h0.6M404.6 430.7h0.6M412.1 345.4h0.6M424.4 398.5h0.6M416.2 417.6h0.6M392.7 432.7h0.6M416.6 424.3h0.6M426.7 431h0.6M426.4 330.8h0.6M419.5 338.6h0.6M402.9 355.7h0.6M415.6 388.8h0.6M427.1 426.7h0.6M401 386.3h0.6M381.7 377.8h0.6M419.7 360h0.6M399.1 404.9h0.6M430.2 368.9h0.6M382.1 353.2h0.6M425 427.4h0.6M436 414.9h0.6M450.5 399.4h0.6M417.2 412.9h0.6M380.1 356.3h0.6M419.1 344.5h0.6M388.5 404.9h0.6M426 423.5h0.6M438.8 423.9h0.6M412.6 328.5h0.6M434.4 425.3h0.6M366.7 354.2h0.6M420.3 342h0.6M401.9 410.9h0.6M412.9 377.5h0.6M430.7 409.2h0.6M422.8 413.4h0.6M437.8 427.4h0.6M424.4 432.7h0.6M422.6 403.6h0.6M440.8 408.1h0.6M430.2 429.6h0.6M412.6 367.5h0.6M398.2 430.7h0.6M423.9 365.7h0.6M440.1 400.8h0.6M443.3 419h0.6M405.6 339h0.6M453.1 425.7h0.6M400.4 423.7h0.6M400.1 401.9h0.6M400.6 373.3h0.6M440.7 394.4h0.6M433.3 417h0.6M449.5 384.2h0.6M390 431.3h0.6M427.9 432.1h0.6M429.1 387.9h0.6M416.7 433.1h0.6M400.4 408.5h0.6M429.6 432h0.6M420 433h0.6M398.7 392.6h0.6M426.6 429.8h0.6M391.3 411.8h0.6M403.9 395.2h0.6M391.5 367.2h0.6M378.1 399.8h0.6M431 354.1h0.6M400.7 432h0.6M392.9 340.8h0.6M427.8 398.3h0.6M421.8 388.1h0.6M414.8 363.3h0.6M412.8 344.6h0.6M427 421.9h0.6M388.4 417.9h0.6M433.2 369.4h0.6M371.7 392.3h0.6M427.2 397.8h0.6M441.5 336.7h0.6M434.6 401.5h0.6M419.1 398.6h0.6M447.1 337.2h0.6M386.7 352.6h0.6M412.1 378.1h0.6M431.6 411.2h0.6M414.7 366.5h0.6M398.4 420.5h0.6M407.9 342.4h0.6M449.6 331h0.6M382.7 398.6h0.6M433 375.7h0.6M418 331.1h0.6M419.3 421.8h0.6M371.7 350.8h0.6M398.5 353.8h0.6M437.9 351.6h0.6M398 432.3h0.6M413.9 343h0.6M390.3 401.4h0.6M397 409.5h0.6M435.6 431.4h0.6M405.9 399.7h0.6M443.8 400.9h0.6M403 433.3h0.6M414.7 371.3h0.6M392.7 373.8h0.6M428.2 366.4h0.6M429.9 410.8h0.6M435.7 432h0.6M399.6 340.3h0.6M385.2 332.8h0.6M390.8 328h0.6M436.5 378.8h0.6M409 382.1h0.6M445.8 380.5h0.6M410.3 384.4h0.6M403.5 399.7h0.6M355.8 406.6h0.6M419.2 327.6h0.6M426.5 417.9h0.6M398.6 406.8h0.6M420.3 383.9h0.6M416.7 330h0.6M427.1 392h0.6M426.8 342.7h0.6M412.7 396.8h0.6" stroke="#d6d6d6" stroke-width="0.6" fill="none"/>
<path d="M428.4 393.8h0.6M417.5 430.7h0.6M423.5 365h0.6M426.5 369.9h0.6M422.3 359.4h0.6M436.8 373h0.6M423.8 372.2h0.6M418.5 362.3h0.6M444.2 425.2h0.6M417.4 390.7h0.6M431.6 426.7h0.6M431.5 347.9h0.6M428.6 346.4h0.6M416.4 407.6h0.6M437.9 417.9h0.6M426 421h0.6M422.9 413.1h0.6M437 380.9h0.6M457.7 356.9h0.6M444.1 353.2h0.6M416.1 429.4h0.6M446.5 389.3h0.6M422.3 350.1h0.6M419 427.2h0.6M419.7 433.3h0.6M435.4 367.4h0.6M447.7 364.6h0.6M428.4 397.5h0.6M419.2 377.3h0.6M416.8 432h0.6M452.9 379.5h0.6M421.7 427.9h0.6M420.2 412.3h0.6M440.9 369.7h0.6M430.6 394.7h0.6M423.7 416.6h0.6M423.6 410.6h0.6M449.4 369.8h0.6M422.7 433.3h0.6M423.5 348.4h0.6M416 388.5h0.6M462.6 430.9h0.6M418.2 386.2h0.6M420 385.3h0.6M428.9 419.9h0.6M419.3 420.8h0.6M417.9 397.7h0.6M418.7 404.5h0.6M443.1 413.6h0.6M445.6 363.7h0.6M423.1 432.4h0.6M417.1 386.5h0.6M419.3 377.1h0.6M419.3 419.9h0.6M427.6 374.4h0.6M444.6 419h0.6M439.7 353.9h0.6M451.6 353h0.6M420.7 408.9h0.6M416.9 354.5h0.6M428.2 431.8h0.6M421.2 357.8h0.6M419.7 410h0.6M421 422h0.6M436.5 381.6h0.6M424.9 429h0.6M421 402.5h0.6M416.7 365.8h0.6M417.9 419.1h0.6M446.3 406.8h0.6M415.9 392h0.6M416.9 393.6h0.6M424.4 377.8h0.6M454.9 420.6h0.6M421.5 416.2h0.6M433.6 392h0.6M437.1 404.8h0.6M429.2 431.5h0.6M443.8 361.3h0.6M442.3 357.7h0.6" stroke="#e8b8c4" stroke-width="0.6" fill="none"/>
</g>
<path d="M328.3 305.8V433.3H497.9" stroke="#231f20" stroke-width="0.9" fill="none"/>
<text x="322.3" y="435.6" font-size="6.4" text-anchor="end">0</text>
<text x="322.3" y="417.8" font-size="6.4" text-anchor="end">50</text>
<text x="322.3" y="400" font-size="6.4" text-anchor="end">100</text>
<text x="322.3" y="382.2" font-size="6.4" text-anchor="end">150</text>
<text x="322.3" y="364.3" font-size="6.4" text-anchor="end">200</text>
<text x="322.3" y="346.5" font-size="6.4" text-anchor="end">250</text>
<text x="322.3" y="328.7" font-size="6.4" text-anchor="end">300</text>
<text x="322.3" y="310.9" font-size="6.4" text-anchor="end">350</text>
<text x="328.2" y="446" font-size="6.7" text-anchor="middle">–10</text>
<text x="369.8" y="446" font-size="6.7" text-anchor="middle">–5</text>
<text x="411.4" y="446" font-size="6.7" text-anchor="middle">0</text>
<text x="452.9" y="446" font-size="6.7" text-anchor="middle">5</text>
<text x="494.5" y="446" font-size="6.7" text-anchor="middle">10</text>
<path d="M325.3 433.3H328.3M325.3 415.5H328.3M325.3 397.7H328.3M325.3 379.9H328.3M325.3 362H328.3M325.3 344.2H328.3M325.3 326.4H328.3M325.3 308.6H328.3M328.2 433.3V435.9M369.8 433.3V435.9M411.4 433.3V435.9M452.9 433.3V435.9M494.5 433.3V435.9" stroke="#231f20" stroke-width="0.8"/>
<text x="413.8" y="457.2" font-size="7.8" text-anchor="middle" textLength="110.7" lengthAdjust="spacingAndGlyphs">log2 fold-change in mRNA expression</text>
<text x="0" y="0" font-size="7.2" text-anchor="middle" textLength="43" lengthAdjust="spacingAndGlyphs" transform="translate(307.2 370) rotate(-90)">−log10 <tspan font-style="italic">P</tspan> value</text>
<ellipse cx="400.6" cy="324.5" rx="20.5" ry="16.8" fill="none" stroke="#2d5487" stroke-width="1.15"/>
<ellipse cx="379.6" cy="345.2" rx="11.8" ry="5.5" fill="none" stroke="#2d5487" stroke-width="1.15"/>
<ellipse cx="354.4" cy="350.5" rx="12.8" ry="5.4" fill="none" stroke="#2d5487" stroke-width="1.15"/>
<ellipse cx="369.5" cy="367.9" rx="14.6" ry="5.5" fill="none" stroke="#2d5487" stroke-width="1.15"/>
<ellipse cx="405.7" cy="368.9" rx="14.1" ry="6" fill="none" stroke="#2d5487" stroke-width="1.15"/>
<ellipse cx="385" cy="381.1" rx="17.1" ry="5.2" fill="none" stroke="#2d5487" stroke-width="1.15"/>
<ellipse cx="388.6" cy="406.8" rx="15.8" ry="7.2" fill="none" stroke="#2d5487" stroke-width="1.15"/>
<ellipse cx="382.9" cy="423.4" rx="14.1" ry="6.8" fill="none" stroke="#2d5487" stroke-width="1.15"/>
<ellipse cx="442.5" cy="320.2" rx="14.7" ry="7" fill="none" stroke="#a82040" stroke-width="1.15"/>
<ellipse cx="438.1" cy="353.7" rx="14.9" ry="6.4" fill="none" stroke="#a82040" stroke-width="1.15"/>
<ellipse cx="473.4" cy="363.8" rx="16.1" ry="6" fill="none" stroke="#a82040" stroke-width="1.15"/>
<ellipse cx="433.6" cy="403.6" rx="14.4" ry="4.4" fill="none" stroke="#a82040" stroke-width="1.15"/>
<ellipse cx="438.2" cy="414.6" rx="18.4" ry="4.6" fill="none" stroke="#a82040" stroke-width="1.15"/>
<ellipse cx="487.4" cy="427.5" rx="19.2" ry="4.2" fill="none" stroke="#a82040" stroke-width="1.15"/>
<text x="392.8" y="316.8" font-size="6.5" textLength="13.7" lengthAdjust="spacingAndGlyphs">MYC</text>
<text x="387.1" y="323.8" font-size="6.5" textLength="12.4" lengthAdjust="spacingAndGlyphs">IRF8</text>
<text x="391.5" y="330.5" font-size="6.5" textLength="12.4" lengthAdjust="spacingAndGlyphs">SPI1</text>
<text x="394.6" y="336.7" font-size="6.5" textLength="20.3" lengthAdjust="spacingAndGlyphs">MEF2D</text>
<text x="374.7" y="346.9" font-size="6.5" textLength="12.1" lengthAdjust="spacingAndGlyphs">IL7R</text>
<text x="345.9" y="352.6" font-size="6.5" textLength="19" lengthAdjust="spacingAndGlyphs">CD180</text>
<text x="361.6" y="371.5" font-size="6.5" textLength="18.6" lengthAdjust="spacingAndGlyphs">CSF1R</text>
<text x="400.4" y="370.4" font-size="6.5" textLength="15" lengthAdjust="spacingAndGlyphs">CD44</text>
<text x="369.9" y="382.6" font-size="6.5" textLength="26.3" lengthAdjust="spacingAndGlyphs">SLC19A1</text>
<text x="384.2" y="407" font-size="6.5" textLength="14.1" lengthAdjust="spacingAndGlyphs">CDK4</text>
<text x="377.7" y="412.6" font-size="6.5" textLength="19" lengthAdjust="spacingAndGlyphs">CD244</text>
<text x="406.3" y="410.2" font-size="6.5" textLength="11.7" lengthAdjust="spacingAndGlyphs">GFI1</text>
<text x="378" y="422.4" font-size="6.5" textLength="14.6" lengthAdjust="spacingAndGlyphs">BCL2</text>
<text x="371.5" y="428.1" font-size="6.5" textLength="23.1" lengthAdjust="spacingAndGlyphs">BCL2A1</text>
<text x="434.2" y="320.2" font-size="6.5" textLength="19.3" lengthAdjust="spacingAndGlyphs">GATA2</text>
<text x="435.8" y="325.1" font-size="6.5" textLength="13.8" lengthAdjust="spacingAndGlyphs">XBP1</text>
<text x="428.8" y="355.8" font-size="6.5" textLength="21.9" lengthAdjust="spacingAndGlyphs">HEXIM1</text>
<text x="463.9" y="366" font-size="6.5" textLength="22.6" lengthAdjust="spacingAndGlyphs">HMOX1</text>
<text x="424.4" y="395.4" font-size="6.5" textLength="19.3" lengthAdjust="spacingAndGlyphs">CFLAR</text>
<text x="425.4" y="406" font-size="6.5" textLength="18.3" lengthAdjust="spacingAndGlyphs">PUMA</text>
<text x="429.2" y="416.5" font-size="6.5" textLength="22.1" lengthAdjust="spacingAndGlyphs">FBXO32</text>
<text x="474.4" y="429" font-size="6.5" textLength="26" lengthAdjust="spacingAndGlyphs">TNFRSF4</text>
<g fill="#231f20"><circle cx="391.9" cy="317.8" r="0.9"/><circle cx="384.4" cy="321.2" r="0.9"/><circle cx="389.5" cy="328.2" r="0.9"/><circle cx="397.7" cy="338.5" r="0.9"/><circle cx="372.9" cy="344.6" r="0.9"/><circle cx="343.5" cy="350.1" r="0.9"/><circle cx="358.8" cy="369" r="0.9"/><circle cx="398.3" cy="371.7" r="0.9"/><circle cx="399.5" cy="379.8" r="0.9"/><circle cx="399.1" cy="410.7" r="0.9"/><circle cx="402.1" cy="410.7" r="0.9"/><circle cx="395.6" cy="426.3" r="0.9"/></g>
<g fill="#b0203c"><circle cx="418.3" cy="412" r="0.9"/><circle cx="431.2" cy="318.1" r="0.9"/><circle cx="433.2" cy="323.2" r="0.9"/><circle cx="426.1" cy="353.5" r="0.9"/><circle cx="461.2" cy="363.5" r="0.9"/><circle cx="421.9" cy="392.7" r="0.9"/><circle cx="421.9" cy="404.2" r="0.9"/><circle cx="421.9" cy="413.8" r="0.9"/><circle cx="471.9" cy="426.9" r="0.9"/></g>
<path d="M394 420.6L401.5 422.8" stroke="#231f20" stroke-width="0.6"/>
<path d="M403.5 423.5L399.6 421.0L399.2 424.3Z" fill="#231f20"/>
<path d="M404.5 423.6H408" stroke="#231f20" stroke-width="0.5" stroke-dasharray="1 1"/>
<rect x="0.5" y="0.5" width="519" height="466" fill="none" stroke="#4a4a4a" stroke-width="1"/></svg>
</body></html>
